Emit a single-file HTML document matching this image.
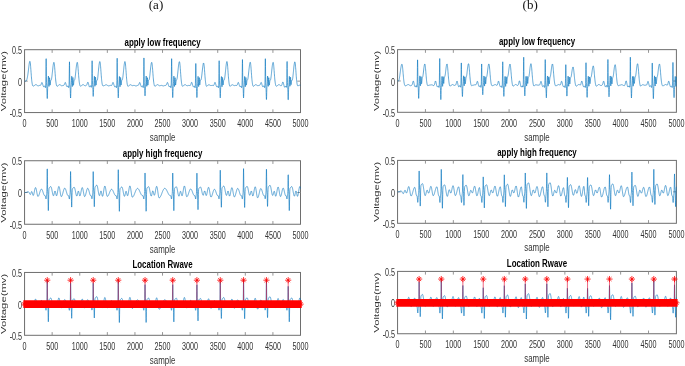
<!DOCTYPE html>
<html><head><meta charset="utf-8"><title>ECG filtering</title>
<style>
html,body{margin:0;padding:0;background:#fff;}
body{width:685px;height:366px;overflow:hidden;}
svg{display:block;font-family:"Liberation Sans",sans-serif;}
</style></head><body>
<svg width="685" height="366" viewBox="0 0 685 366">
<rect width="685" height="366" fill="#fff"/>
<rect x="24.56" y="49.70" width="275.94" height="62.86" fill="#fff" stroke="#6e6e6e" stroke-width="1"/>
<text transform="translate(24.56 127.23) scale(0.720 1)" font-size="10" text-anchor="middle" font-weight="normal" fill="#333333">0</text>
<text transform="translate(52.15 127.23) scale(0.720 1)" font-size="10" text-anchor="middle" font-weight="normal" fill="#333333">500</text>
<text transform="translate(79.75 127.23) scale(0.720 1)" font-size="10" text-anchor="middle" font-weight="normal" fill="#333333">1000</text>
<text transform="translate(107.34 127.23) scale(0.720 1)" font-size="10" text-anchor="middle" font-weight="normal" fill="#333333">1500</text>
<text transform="translate(134.94 127.23) scale(0.720 1)" font-size="10" text-anchor="middle" font-weight="normal" fill="#333333">2000</text>
<text transform="translate(162.53 127.23) scale(0.720 1)" font-size="10" text-anchor="middle" font-weight="normal" fill="#333333">2500</text>
<text transform="translate(190.12 127.23) scale(0.720 1)" font-size="10" text-anchor="middle" font-weight="normal" fill="#333333">3000</text>
<text transform="translate(217.72 127.23) scale(0.720 1)" font-size="10" text-anchor="middle" font-weight="normal" fill="#333333">3500</text>
<text transform="translate(245.31 127.23) scale(0.720 1)" font-size="10" text-anchor="middle" font-weight="normal" fill="#333333">4000</text>
<text transform="translate(272.91 127.23) scale(0.720 1)" font-size="10" text-anchor="middle" font-weight="normal" fill="#333333">4500</text>
<text transform="translate(300.50 127.23) scale(0.720 1)" font-size="10" text-anchor="middle" font-weight="normal" fill="#333333">5000</text>
<text transform="translate(22.11 117.31) scale(0.720 1)" font-size="10" text-anchor="end" font-weight="normal" fill="#333333">-0.5</text>
<text transform="translate(22.11 85.88) scale(0.720 1)" font-size="10" text-anchor="end" font-weight="normal" fill="#333333">0</text>
<text transform="translate(22.11 54.45) scale(0.720 1)" font-size="10" text-anchor="end" font-weight="normal" fill="#333333">0.5</text>
<path d="M52.15 112.56v-3.20M52.15 49.70v3.20M79.75 112.56v-3.20M79.75 49.70v3.20M107.34 112.56v-3.20M107.34 49.70v3.20M134.94 112.56v-3.20M134.94 49.70v3.20M162.53 112.56v-3.20M162.53 49.70v3.20M190.12 112.56v-3.20M190.12 49.70v3.20M217.72 112.56v-3.20M217.72 49.70v3.20M245.31 112.56v-3.20M245.31 49.70v3.20M272.91 112.56v-3.20M272.91 49.70v3.20M24.56 81.13h3.20M300.50 81.13h-3.20" stroke="#8a8a8a" stroke-width="0.9" fill="none"/>
<text transform="translate(162.53 45.70) scale(0.720 1)" font-size="11" text-anchor="middle" font-weight="bold" fill="#000">apply low frequency</text>
<text transform="translate(162.53 141.13) scale(0.720 1)" font-size="11" text-anchor="middle" font-weight="normal" fill="#333333">sample</text>
<text transform="translate(6.16 81.13) scale(0.700 1) rotate(-90)" font-size="11.3" text-anchor="middle" font-weight="normal" fill="#333333">Voltage(mv)</text>
<polyline points="24.56,81.13 24.67,81.13 24.78,81.13 24.89,81.13 25.00,81.13 25.11,81.13 25.22,81.12 25.33,81.12 25.44,81.12 25.55,81.11 25.66,81.11 25.77,81.09 25.88,81.06 25.99,81.02 26.11,80.95 26.22,80.85 26.33,80.72 26.44,80.54 26.55,80.33 26.66,80.07 26.77,79.76 26.88,79.42 26.99,79.04 27.10,78.62 27.21,78.16 27.32,77.66 27.43,77.13 27.54,76.55 27.65,75.92 27.76,75.25 27.87,74.52 27.98,73.75 28.09,72.92 28.20,72.04 28.31,71.13 28.42,70.18 28.53,69.21 28.64,68.23 28.75,67.26 28.86,66.32 28.98,65.41 29.09,64.56 29.20,63.78 29.31,63.09 29.42,62.50 29.53,62.02 29.64,61.65 29.75,61.42 29.86,61.31 29.97,61.36 30.08,61.65 30.19,62.19 30.30,62.97 30.41,63.96 30.52,65.12 30.63,66.44 30.74,67.86 30.85,69.35 30.96,70.89 31.07,72.42 31.18,73.93 31.29,75.38 31.40,76.76 31.51,78.06 31.62,79.25 31.73,80.35 31.84,81.34 31.96,82.22 32.07,83.00 32.18,83.67 32.29,84.25 32.40,84.74 32.51,85.14 32.62,85.46 32.73,85.70 32.84,85.88 32.95,85.99 33.06,86.06 33.17,86.09 33.28,86.09 33.39,86.07 33.50,86.03 33.61,85.99 33.72,85.93 33.83,85.88 33.94,85.82 34.05,85.75 34.16,85.69 34.27,85.62 34.38,85.54 34.49,85.46 34.60,85.38 34.71,85.29 34.82,85.21 34.94,85.12 35.05,85.04 35.16,84.96 35.27,84.88 35.38,84.82 35.49,84.76 35.60,84.72 35.71,84.69 35.82,84.67 35.93,84.67 36.04,84.68 36.15,84.71 36.26,84.75 36.37,84.81 36.48,84.87 36.59,84.95 36.70,85.03 36.81,85.11 36.92,85.20 37.03,85.29 37.14,85.38 37.25,85.46 37.36,85.54 37.47,85.61 37.58,85.67 37.69,85.73 37.81,85.77 37.92,85.80 38.03,85.82 38.14,85.83 38.25,85.84 38.36,85.83 38.47,85.81 38.58,85.78 38.69,85.75 38.80,85.72 38.91,85.68 39.02,85.63 39.13,85.59 39.24,85.55 39.35,85.51 39.46,85.48 39.57,85.45 39.68,85.43 39.79,85.41 39.90,85.39 40.01,85.38 40.12,85.37 40.23,85.36 40.34,85.34 40.45,85.31 40.56,85.25 40.67,85.16 40.79,85.03 40.90,84.86 41.01,84.63 41.12,84.36 41.23,84.05 41.34,83.71 41.45,83.36 41.56,83.04 41.67,82.77 41.78,82.57 41.89,82.47 42.00,82.47 42.11,82.57 42.22,82.78 42.33,83.06 42.44,83.41 42.55,83.78 42.66,84.18 42.77,84.58 42.88,84.96 42.99,85.33 43.10,85.67 43.21,85.99 43.32,86.26 43.43,86.48 43.54,86.64 43.66,86.73 43.77,86.75 43.88,86.69 43.99,86.58 44.10,86.43 44.21,86.27 44.32,86.12 44.43,85.99 44.54,85.90 44.65,85.87 44.76,85.93 44.87,86.12 44.98,86.46 45.09,86.92 45.20,87.38 45.31,87.68 45.42,87.69 45.53,87.30 45.64,86.18 45.75,83.20 45.86,76.64 45.97,66.82 46.08,58.74 46.19,58.68 46.30,66.60 46.41,76.20 46.52,82.47 46.64,85.31 46.75,86.88 46.86,88.96 46.97,92.19 47.08,95.93 47.19,98.53 47.30,98.50 47.41,95.82 47.52,92.00 47.63,88.68 47.74,86.48 47.85,85.04 47.96,83.58 48.07,81.57 48.18,79.09 48.29,76.93 48.40,76.08 48.51,77.06 48.62,79.47 48.73,82.39 48.84,84.93 48.95,86.41 49.06,86.41 49.17,84.90 49.28,82.35 49.39,79.62 49.50,77.79 49.62,77.69 49.73,79.25 49.84,81.62 49.95,83.80 50.06,85.06 50.17,85.10 50.28,84.21 50.39,83.04 50.50,82.02 50.61,81.21 50.72,80.60 50.83,80.19 50.94,79.98 51.05,79.91 51.16,79.88 51.27,79.80 51.38,79.60 51.49,79.23 51.60,78.70 51.71,78.02 51.82,77.23 51.93,76.35 52.04,75.40 52.15,74.40 52.26,73.38 52.37,72.33 52.49,71.27 52.60,70.22 52.71,69.18 52.82,68.17 52.93,67.20 53.04,66.28 53.15,65.43 53.26,64.66 53.37,63.98 53.48,63.41 53.59,62.95 53.70,62.61 53.81,62.40 53.92,62.32 54.03,62.43 54.14,62.79 54.25,63.38 54.36,64.20 54.47,65.21 54.58,66.38 54.69,67.68 54.80,69.08 54.91,70.53 55.02,72.01 55.13,73.48 55.24,74.92 55.35,76.31 55.47,77.62 55.58,78.85 55.69,79.98 55.80,81.02 55.91,81.95 56.02,82.79 56.13,83.53 56.24,84.16 56.35,84.71 56.46,85.16 56.57,85.52 56.68,85.80 56.79,86.01 56.90,86.15 57.01,86.24 57.12,86.27 57.23,86.27 57.34,86.23 57.45,86.17 57.56,86.10 57.67,86.02 57.78,85.93 57.89,85.83 58.00,85.74 58.11,85.64 58.22,85.54 58.34,85.44 58.45,85.34 58.56,85.24 58.67,85.15 58.78,85.06 58.89,84.97 59.00,84.89 59.11,84.82 59.22,84.76 59.33,84.71 59.44,84.68 59.55,84.66 59.66,84.65 59.77,84.67 59.88,84.69 59.99,84.73 60.10,84.78 60.21,84.85 60.32,84.92 60.43,85.00 60.54,85.09 60.65,85.18 60.76,85.26 60.87,85.35 60.98,85.43 61.09,85.51 61.20,85.57 61.32,85.63 61.43,85.68 61.54,85.71 61.65,85.74 61.76,85.75 61.87,85.76 61.98,85.75 62.09,85.73 62.20,85.71 62.31,85.68 62.42,85.65 62.53,85.61 62.64,85.58 62.75,85.54 62.86,85.50 62.97,85.47 63.08,85.44 63.19,85.42 63.30,85.39 63.41,85.37 63.52,85.35 63.63,85.33 63.74,85.29 63.85,85.24 63.96,85.16 64.07,85.04 64.18,84.89 64.30,84.69 64.41,84.44 64.52,84.14 64.63,83.82 64.74,83.48 64.85,83.15 64.96,82.86 65.07,82.63 65.18,82.49 65.29,82.45 65.40,82.51 65.51,82.68 65.62,82.94 65.73,83.27 65.84,83.64 65.95,84.04 66.06,84.44 66.17,84.84 66.28,85.22 66.39,85.57 66.50,85.90 66.61,86.19 66.72,86.43 66.83,86.62 66.94,86.73 67.05,86.77 67.17,86.74 67.28,86.65 67.39,86.50 67.50,86.33 67.61,86.16 67.72,86.01 67.83,85.89 67.94,85.82 68.05,85.82 68.16,85.94 68.27,86.21 68.38,86.62 68.49,87.09 68.60,87.50 68.71,87.67 68.82,87.52 68.93,86.90 69.04,85.28 69.15,81.33 69.26,74.08 69.37,65.71 69.48,61.80 69.59,65.60 69.70,73.80 69.81,80.80 69.92,84.50 70.03,86.18 70.15,87.71 70.26,90.17 70.37,93.55 70.48,96.71 70.59,98.00 70.70,96.63 70.81,93.38 70.92,89.90 71.03,87.31 71.14,85.67 71.25,84.34 71.36,82.64 71.47,80.33 71.58,77.87 71.69,76.24 71.80,76.29 71.91,78.08 72.02,80.86 72.13,83.69 72.24,85.77 72.35,86.54 72.46,85.76 72.57,83.65 72.68,80.89 72.79,78.49 72.90,77.47 73.02,78.28 73.13,80.40 73.24,82.79 73.35,84.59 73.46,85.25 73.57,84.76 73.68,83.67 73.79,82.56 73.90,81.65 74.01,80.94 74.12,80.43 74.23,80.13 74.34,80.00 74.45,79.96 74.56,79.91 74.67,79.77 74.78,79.47 74.89,79.01 75.00,78.39 75.11,77.64 75.22,76.79 75.33,75.86 75.44,74.88 75.55,73.85 75.66,72.81 75.77,71.75 75.88,70.68 76.00,69.63 76.11,68.60 76.22,67.61 76.33,66.67 76.44,65.79 76.55,64.98 76.66,64.27 76.77,63.65 76.88,63.14 76.99,62.75 77.10,62.49 77.21,62.35 77.32,62.36 77.43,62.61 77.54,63.10 77.65,63.82 77.76,64.74 77.87,65.84 77.98,67.08 78.09,68.44 78.20,69.87 78.31,71.33 78.42,72.81 78.53,74.26 78.64,75.66 78.75,77.00 78.86,78.27 78.98,79.44 79.09,80.51 79.20,81.49 79.31,82.36 79.42,83.13 79.53,83.81 79.64,84.39 79.75,84.88 79.86,85.29 79.97,85.61 80.08,85.85 80.19,86.03 80.30,86.14 80.41,86.20 80.52,86.22 80.63,86.21 80.74,86.17 80.85,86.12 80.96,86.05 81.07,85.98 81.18,85.90 81.29,85.81 81.40,85.73 81.51,85.64 81.62,85.55 81.73,85.45 81.85,85.36 81.96,85.26 82.07,85.17 82.18,85.08 82.29,84.99 82.40,84.91 82.51,84.83 82.62,84.77 82.73,84.72 82.84,84.68 82.95,84.66 83.06,84.65 83.17,84.66 83.28,84.68 83.39,84.72 83.50,84.77 83.61,84.83 83.72,84.90 83.83,84.98 83.94,85.07 84.05,85.16 84.16,85.24 84.27,85.33 84.38,85.42 84.49,85.50 84.60,85.57 84.71,85.63 84.83,85.68 84.94,85.73 85.05,85.76 85.16,85.78 85.27,85.79 85.38,85.78 85.49,85.77 85.60,85.75 85.71,85.72 85.82,85.69 85.93,85.64 86.04,85.59 86.15,85.53 86.26,85.46 86.37,85.37 86.48,85.26 86.59,85.13 86.70,84.96 86.81,84.75 86.92,84.50 87.03,84.20 87.14,83.87 87.25,83.52 87.36,83.16 87.47,82.82 87.58,82.53 87.70,82.31 87.81,82.19 87.92,82.18 88.03,82.29 88.14,82.50 88.25,82.81 88.36,83.19 88.47,83.62 88.58,84.08 88.69,84.54 88.80,84.98 88.91,85.41 89.02,85.81 89.13,86.17 89.24,86.49 89.35,86.75 89.46,86.94 89.57,87.06 89.68,87.08 89.79,87.03 89.90,86.90 90.01,86.72 90.12,86.50 90.23,86.28 90.34,86.07 90.45,85.89 90.56,85.76 90.68,85.71 90.79,85.78 90.90,86.00 91.01,86.37 91.12,86.81 91.23,87.19 91.34,87.35 91.45,87.19 91.56,86.57 91.67,84.92 91.78,80.87 91.89,73.39 92.00,64.76 92.11,60.76 92.22,64.75 92.33,73.31 92.44,80.62 92.55,84.48 92.66,86.18 92.77,87.58 92.88,89.71 92.99,92.61 93.10,95.32 93.21,96.43 93.32,95.27 93.43,92.51 93.55,89.54 93.66,87.30 93.77,85.83 93.88,84.54 93.99,82.82 94.10,80.47 94.21,77.96 94.32,76.28 94.43,76.27 94.54,77.99 94.65,80.73 94.76,83.50 94.87,85.54 94.98,86.27 95.09,85.46 95.20,83.33 95.31,80.56 95.42,78.16 95.53,77.15 95.64,77.98 95.75,80.12 95.86,82.55 95.97,84.39 96.08,85.10 96.19,84.66 96.30,83.62 96.41,82.57 96.53,81.71 96.64,81.04 96.75,80.58 96.86,80.31 96.97,80.20 97.08,80.17 97.19,80.12 97.30,79.97 97.41,79.66 97.52,79.16 97.63,78.50 97.74,77.69 97.85,76.78 97.96,75.77 98.07,74.71 98.18,73.61 98.29,72.47 98.40,71.33 98.51,70.18 98.62,69.04 98.73,67.94 98.84,66.88 98.95,65.88 99.06,64.95 99.17,64.11 99.28,63.36 99.39,62.74 99.51,62.23 99.62,61.86 99.73,61.62 99.84,61.52 99.95,61.58 100.06,61.88 100.17,62.44 100.28,63.24 100.39,64.25 100.50,65.43 100.61,66.76 100.72,68.20 100.83,69.70 100.94,71.24 101.05,72.78 101.16,74.28 101.27,75.73 101.38,77.09 101.49,78.37 101.60,79.54 101.71,80.61 101.82,81.56 101.93,82.41 102.04,83.15 102.15,83.78 102.26,84.32 102.38,84.76 102.49,85.12 102.60,85.40 102.71,85.60 102.82,85.75 102.93,85.83 103.04,85.88 103.15,85.89 103.26,85.88 103.37,85.86 103.48,85.82 103.59,85.79 103.70,85.75 103.81,85.71 103.92,85.68 104.03,85.65 104.14,85.62 104.25,85.58 104.36,85.55 104.47,85.51 104.58,85.46 104.69,85.41 104.80,85.35 104.91,85.29 105.02,85.23 105.13,85.16 105.24,85.09 105.36,85.03 105.47,84.97 105.58,84.91 105.69,84.87 105.80,84.83 105.91,84.80 106.02,84.78 106.13,84.77 106.24,84.78 106.35,84.79 106.46,84.82 106.57,84.86 106.68,84.90 106.79,84.96 106.90,85.03 107.01,85.10 107.12,85.17 107.23,85.25 107.34,85.33 107.45,85.40 107.56,85.48 107.67,85.55 107.78,85.62 107.89,85.68 108.00,85.74 108.11,85.78 108.23,85.82 108.34,85.85 108.45,85.87 108.56,85.88 108.67,85.88 108.78,85.87 108.89,85.86 109.00,85.83 109.11,85.80 109.22,85.77 109.33,85.73 109.44,85.68 109.55,85.64 109.66,85.60 109.77,85.56 109.88,85.52 109.99,85.48 110.10,85.45 110.21,85.43 110.32,85.41 110.43,85.41 110.54,85.40 110.65,85.41 110.76,85.42 110.87,85.44 110.98,85.46 111.09,85.48 111.21,85.50 111.32,85.51 111.43,85.50 111.54,85.47 111.65,85.40 111.76,85.30 111.87,85.14 111.98,84.93 112.09,84.66 112.20,84.35 112.31,83.99 112.42,83.62 112.53,83.25 112.64,82.92 112.75,82.64 112.86,82.46 112.97,82.37 113.08,82.40 113.19,82.53 113.30,82.75 113.41,83.05 113.52,83.40 113.63,83.79 113.74,84.19 113.85,84.58 113.96,84.97 114.07,85.35 114.19,85.70 114.30,86.02 114.41,86.30 114.52,86.53 114.63,86.68 114.74,86.77 114.85,86.78 114.96,86.73 115.07,86.63 115.18,86.50 115.29,86.36 115.40,86.23 115.51,86.13 115.62,86.07 115.73,86.08 115.84,86.19 115.95,86.45 116.06,86.83 116.17,87.29 116.28,87.66 116.39,87.79 116.50,87.59 116.61,86.90 116.72,85.06 116.83,80.56 116.94,72.28 117.06,62.72 117.17,58.24 117.28,62.54 117.39,71.87 117.50,79.84 117.61,84.04 117.72,85.88 117.83,87.46 117.94,89.93 118.05,93.34 118.16,96.53 118.27,97.85 118.38,96.52 118.49,93.31 118.60,89.88 118.71,87.33 118.82,85.73 118.93,84.44 119.04,82.78 119.15,80.51 119.26,78.08 119.37,76.47 119.48,76.54 119.59,78.33 119.70,81.12 119.81,83.93 119.92,86.00 120.04,86.75 120.15,85.94 120.26,83.79 120.37,80.99 120.48,78.54 120.59,77.48 120.70,78.25 120.81,80.31 120.92,82.66 121.03,84.42 121.14,85.05 121.25,84.53 121.36,83.41 121.47,82.28 121.58,81.36 121.69,80.64 121.80,80.14 121.91,79.84 122.02,79.72 122.13,79.70 122.24,79.67 122.35,79.55 122.46,79.28 122.57,78.85 122.68,78.25 122.79,77.52 122.91,76.69 123.02,75.77 123.13,74.79 123.24,73.77 123.35,72.71 123.46,71.63 123.57,70.54 123.68,69.46 123.79,68.39 123.90,67.35 124.01,66.35 124.12,65.41 124.23,64.55 124.34,63.77 124.45,63.10 124.56,62.53 124.67,62.08 124.78,61.77 124.89,61.59 125.00,61.56 125.11,61.79 125.22,62.27 125.33,62.99 125.44,63.93 125.55,65.05 125.66,66.34 125.77,67.74 125.89,69.23 126.00,70.77 126.11,72.31 126.22,73.84 126.33,75.33 126.44,76.75 126.55,78.09 126.66,79.33 126.77,80.48 126.88,81.52 126.99,82.45 127.10,83.27 127.21,83.98 127.32,84.59 127.43,85.10 127.54,85.51 127.65,85.83 127.76,86.06 127.87,86.22 127.98,86.31 128.09,86.34 128.20,86.32 128.31,86.27 128.42,86.19 128.53,86.09 128.64,85.98 128.75,85.86 128.87,85.74 128.98,85.62 129.09,85.51 129.20,85.40 129.31,85.30 129.42,85.20 129.53,85.11 129.64,85.02 129.75,84.94 129.86,84.88 129.97,84.82 130.08,84.78 130.19,84.74 130.30,84.72 130.41,84.72 130.52,84.72 130.63,84.74 130.74,84.78 130.85,84.82 130.96,84.87 131.07,84.94 131.18,85.01 131.29,85.08 131.40,85.16 131.51,85.23 131.62,85.30 131.74,85.37 131.85,85.44 131.96,85.49 132.07,85.54 132.18,85.58 132.29,85.61 132.40,85.62 132.51,85.63 132.62,85.63 132.73,85.62 132.84,85.61 132.95,85.58 133.06,85.56 133.17,85.53 133.28,85.50 133.39,85.47 133.50,85.45 133.61,85.43 133.72,85.41 133.83,85.40 133.94,85.39 134.05,85.40 134.16,85.41 134.27,85.42 134.38,85.45 134.49,85.48 134.60,85.51 134.72,85.55 134.83,85.59 134.94,85.64 135.05,85.68 135.16,85.72 135.27,85.77 135.38,85.80 135.49,85.84 135.60,85.87 135.71,85.89 135.82,85.90 135.93,85.91 136.04,85.91 136.15,85.90 136.26,85.88 136.37,85.86 136.48,85.83 136.59,85.79 136.70,85.75 136.81,85.71 136.92,85.66 137.03,85.62 137.14,85.58 137.25,85.54 137.36,85.50 137.47,85.46 137.59,85.43 137.70,85.41 137.81,85.39 137.92,85.37 138.03,85.34 138.14,85.31 138.25,85.27 138.36,85.20 138.47,85.11 138.58,84.97 138.69,84.79 138.80,84.57 138.91,84.29 139.02,83.98 139.13,83.65 139.24,83.31 139.35,83.00 139.46,82.73 139.57,82.55 139.68,82.45 139.79,82.47 139.90,82.58 140.01,82.80 140.12,83.09 140.23,83.45 140.34,83.84 140.45,84.24 140.57,84.64 140.68,85.03 140.79,85.40 140.90,85.74 141.01,86.05 141.12,86.32 141.23,86.53 141.34,86.68 141.45,86.76 141.56,86.77 141.67,86.70 141.78,86.58 141.89,86.42 142.00,86.25 142.11,86.08 142.22,85.94 142.33,85.84 142.44,85.81 142.55,85.87 142.66,86.06 142.77,86.40 142.88,86.85 142.99,87.31 143.10,87.62 143.21,87.64 143.32,87.26 143.43,86.13 143.55,83.08 143.66,76.36 143.77,66.27 143.88,57.98 143.99,57.93 144.10,66.08 144.21,75.96 144.32,82.40 144.43,85.25 144.54,86.66 144.65,88.32 144.76,90.86 144.87,93.80 144.98,95.84 145.09,95.80 145.20,93.68 145.31,90.65 145.42,88.00 145.53,86.21 145.64,84.95 145.75,83.55 145.86,81.54 145.97,79.06 146.08,76.89 146.19,76.03 146.30,77.00 146.42,79.41 146.53,82.33 146.64,84.87 146.75,86.35 146.86,86.34 146.97,84.84 147.08,82.30 147.19,79.57 147.30,77.76 147.41,77.66 147.52,79.24 147.63,81.62 147.74,83.81 147.85,85.08 147.96,85.13 148.07,84.25 148.18,83.10 148.29,82.08 148.40,81.27 148.51,80.66 148.62,80.26 148.73,80.05 148.84,79.97 148.95,79.94 149.06,79.85 149.17,79.64 149.28,79.26 149.40,78.72 149.51,78.03 149.62,77.23 149.73,76.33 149.84,75.37 149.95,74.37 150.06,73.33 150.17,72.28 150.28,71.21 150.39,70.16 150.50,69.11 150.61,68.10 150.72,67.13 150.83,66.22 150.94,65.37 151.05,64.61 151.16,63.95 151.27,63.38 151.38,62.93 151.49,62.61 151.60,62.40 151.71,62.33 151.82,62.45 151.93,62.82 152.04,63.43 152.15,64.26 152.27,65.27 152.38,66.45 152.49,67.75 152.60,69.15 152.71,70.60 152.82,72.07 152.93,73.54 153.04,74.97 153.15,76.34 153.26,77.65 153.37,78.86 153.48,79.99 153.59,81.01 153.70,81.94 153.81,82.76 153.92,83.49 154.03,84.11 154.14,84.65 154.25,85.10 154.36,85.46 154.47,85.74 154.58,85.95 154.69,86.09 154.80,86.18 154.91,86.22 155.02,86.22 155.13,86.20 155.25,86.15 155.36,86.09 155.47,86.02 155.58,85.94 155.69,85.85 155.80,85.77 155.91,85.68 156.02,85.59 156.13,85.50 156.24,85.41 156.35,85.31 156.46,85.22 156.57,85.12 156.68,85.03 156.79,84.95 156.90,84.87 157.01,84.80 157.12,84.74 157.23,84.70 157.34,84.67 157.45,84.65 157.56,84.65 157.67,84.67 157.78,84.70 157.89,84.74 158.00,84.80 158.11,84.86 158.23,84.94 158.34,85.02 158.45,85.11 158.56,85.20 158.67,85.29 158.78,85.38 158.89,85.46 159.00,85.53 159.11,85.60 159.22,85.66 159.33,85.71 159.44,85.74 159.55,85.77 159.66,85.78 159.77,85.79 159.88,85.78 159.99,85.77 160.10,85.74 160.21,85.71 160.32,85.68 160.43,85.64 160.54,85.60 160.65,85.56 160.76,85.53 160.87,85.49 160.98,85.46 161.10,85.44 161.21,85.42 161.32,85.41 161.43,85.40 161.54,85.41 161.65,85.42 161.76,85.44 161.87,85.46 161.98,85.49 162.09,85.53 162.20,85.57 162.31,85.61 162.42,85.66 162.53,85.70 162.64,85.75 162.75,85.79 162.86,85.82 162.97,85.85 163.08,85.88 163.19,85.89 163.30,85.90 163.41,85.91 163.52,85.90 163.63,85.89 163.74,85.87 163.85,85.84 163.96,85.81 164.08,85.77 164.19,85.73 164.30,85.69 164.41,85.64 164.52,85.60 164.63,85.56 164.74,85.52 164.85,85.48 164.96,85.45 165.07,85.43 165.18,85.41 165.29,85.40 165.40,85.39 165.51,85.39 165.62,85.39 165.73,85.38 165.84,85.37 165.95,85.34 166.06,85.29 166.17,85.20 166.28,85.08 166.39,84.90 166.50,84.68 166.61,84.40 166.72,84.08 166.83,83.74 166.95,83.39 167.06,83.06 167.17,82.78 167.28,82.58 167.39,82.46 167.50,82.46 167.61,82.56 167.72,82.75 167.83,83.03 167.94,83.37 168.05,83.75 168.16,84.14 168.27,84.53 168.38,84.92 168.49,85.29 168.60,85.63 168.71,85.95 168.82,86.23 168.93,86.46 169.04,86.62 169.15,86.72 169.26,86.74 169.37,86.69 169.48,86.59 169.59,86.45 169.70,86.30 169.81,86.15 169.93,86.02 170.04,85.94 170.15,85.91 170.26,85.97 170.37,86.17 170.48,86.51 170.59,86.96 170.70,87.41 170.81,87.71 170.92,87.71 171.03,87.32 171.14,86.19 171.25,83.20 171.36,76.64 171.47,66.81 171.58,58.72 171.69,58.65 171.80,66.57 171.91,76.16 172.02,82.42 172.13,85.24 172.24,86.74 172.35,88.68 172.46,91.68 172.57,95.16 172.68,97.58 172.79,97.55 172.91,95.07 173.02,91.52 173.13,88.43 173.24,86.39 173.35,85.01 173.46,83.58 173.57,81.59 173.68,79.12 173.79,76.96 173.90,76.12 174.01,77.10 174.12,79.51 174.23,82.43 174.34,84.97 174.45,86.45 174.56,86.44 174.67,84.93 174.78,82.37 174.89,79.63 175.00,77.80 175.11,77.69 175.22,79.24 175.33,81.60 175.44,83.77 175.55,85.02 175.66,85.04 175.78,84.15 175.89,82.97 176.00,81.94 176.11,81.12 176.22,80.50 176.33,80.09 176.44,79.87 176.55,79.79 176.66,79.75 176.77,79.66 176.88,79.45 176.99,79.07 177.10,78.52 177.21,77.83 177.32,77.02 177.43,76.12 177.54,75.16 177.65,74.14 177.76,73.09 177.87,72.02 177.98,70.93 178.09,69.85 178.20,68.78 178.31,67.74 178.42,66.74 178.53,65.79 178.64,64.92 178.76,64.12 178.87,63.42 178.98,62.82 179.09,62.34 179.20,61.99 179.31,61.76 179.42,61.67 179.53,61.77 179.64,62.14 179.75,62.75 179.86,63.58 179.97,64.62 180.08,65.82 180.19,67.16 180.30,68.60 180.41,70.09 180.52,71.61 180.63,73.13 180.74,74.62 180.85,76.04 180.96,77.40 181.07,78.67 181.18,79.84 181.29,80.91 181.40,81.87 181.51,82.73 181.63,83.49 181.74,84.15 181.85,84.70 181.96,85.17 182.07,85.54 182.18,85.83 182.29,86.04 182.40,86.18 182.51,86.26 182.62,86.29 182.73,86.28 182.84,86.24 182.95,86.18 183.06,86.10 183.17,86.01 183.28,85.91 183.39,85.81 183.50,85.71 183.61,85.60 183.72,85.50 183.83,85.40 183.94,85.30 184.05,85.20 184.16,85.11 184.27,85.02 184.38,84.93 184.49,84.86 184.61,84.79 184.72,84.74 184.83,84.70 184.94,84.67 185.05,84.66 185.16,84.67 185.27,84.68 185.38,84.72 185.49,84.76 185.60,84.82 185.71,84.89 185.82,84.97 185.93,85.05 186.04,85.13 186.15,85.22 186.26,85.30 186.37,85.39 186.48,85.46 186.59,85.53 186.70,85.59 186.81,85.64 186.92,85.68 187.03,85.71 187.14,85.73 187.25,85.73 187.36,85.73 187.47,85.72 187.59,85.70 187.70,85.67 187.81,85.64 187.92,85.61 188.03,85.57 188.14,85.53 188.25,85.50 188.36,85.47 188.47,85.44 188.58,85.42 188.69,85.41 188.80,85.40 188.91,85.40 189.02,85.41 189.13,85.43 189.24,85.45 189.35,85.47 189.46,85.50 189.57,85.54 189.68,85.57 189.79,85.60 189.90,85.62 190.01,85.62 190.12,85.60 190.23,85.54 190.34,85.45 190.46,85.31 190.57,85.11 190.68,84.85 190.79,84.54 190.90,84.19 191.01,83.80 191.12,83.41 191.23,83.03 191.34,82.71 191.45,82.46 191.56,82.31 191.67,82.27 191.78,82.34 191.89,82.52 192.00,82.78 192.11,83.12 192.22,83.49 192.33,83.90 192.44,84.31 192.55,84.72 192.66,85.12 192.77,85.50 192.88,85.86 192.99,86.18 193.10,86.45 193.21,86.66 193.32,86.80 193.44,86.87 193.55,86.86 193.66,86.79 193.77,86.67 193.88,86.54 193.99,86.40 194.10,86.28 194.21,86.19 194.32,86.15 194.43,86.19 194.54,86.36 194.65,86.67 194.76,87.08 194.87,87.49 194.98,87.74 195.09,87.71 195.20,87.30 195.31,86.26 195.42,83.70 195.53,78.26 195.64,70.18 195.75,63.55 195.86,63.47 195.97,69.89 196.08,77.69 196.19,82.81 196.31,85.16 196.42,86.56 196.53,88.50 196.64,91.53 196.75,95.05 196.86,97.51 196.97,97.52 197.08,95.09 197.19,91.59 197.30,88.54 197.41,86.53 197.52,85.19 197.63,83.79 197.74,81.82 197.85,79.37 197.96,77.22 198.07,76.37 198.18,77.35 198.29,79.74 198.40,82.64 198.51,85.15 198.62,86.60 198.73,86.55 198.84,84.99 198.95,82.39 199.06,79.61 199.17,77.74 199.29,77.59 199.40,79.11 199.51,81.44 199.62,83.58 199.73,84.82 199.84,84.85 199.95,83.95 200.06,82.80 200.17,81.79 200.28,81.01 200.39,80.43 200.50,80.07 200.61,79.92 200.72,79.91 200.83,79.95 200.94,79.95 201.05,79.82 201.16,79.53 201.27,79.08 201.38,78.48 201.49,77.76 201.60,76.95 201.71,76.06 201.82,75.13 201.93,74.15 202.04,73.15 202.15,72.13 202.27,71.10 202.38,70.07 202.49,69.07 202.60,68.10 202.71,67.18 202.82,66.31 202.93,65.53 203.04,64.83 203.15,64.23 203.26,63.74 203.37,63.37 203.48,63.12 203.59,63.01 203.70,63.09 203.81,63.42 203.92,63.99 204.03,64.77 204.14,65.75 204.25,66.90 204.36,68.17 204.47,69.55 204.58,70.98 204.69,72.45 204.80,73.91 204.91,75.34 205.02,76.72 205.14,78.04 205.25,79.26 205.36,80.40 205.47,81.43 205.58,82.36 205.69,83.19 205.80,83.92 205.91,84.54 206.02,85.06 206.13,85.48 206.24,85.81 206.35,86.05 206.46,86.22 206.57,86.31 206.68,86.34 206.79,86.32 206.90,86.26 207.01,86.17 207.12,86.07 207.23,85.95 207.34,85.82 207.45,85.70 207.56,85.57 207.67,85.46 207.78,85.35 207.89,85.25 208.00,85.16 208.12,85.07 208.23,85.00 208.34,84.94 208.45,84.88 208.56,84.84 208.67,84.81 208.78,84.79 208.89,84.78 209.00,84.78 209.11,84.80 209.22,84.83 209.33,84.86 209.44,84.90 209.55,84.96 209.66,85.01 209.77,85.08 209.88,85.14 209.99,85.20 210.10,85.27 210.21,85.32 210.32,85.38 210.43,85.43 210.54,85.47 210.65,85.50 210.76,85.52 210.87,85.54 210.99,85.55 211.10,85.54 211.21,85.54 211.32,85.52 211.43,85.51 211.54,85.49 211.65,85.46 211.76,85.44 211.87,85.42 211.98,85.41 212.09,85.39 212.20,85.38 212.31,85.38 212.42,85.39 212.53,85.40 212.64,85.42 212.75,85.44 212.86,85.46 212.97,85.49 213.08,85.52 213.19,85.54 213.30,85.55 213.41,85.54 213.52,85.51 213.63,85.45 213.74,85.34 213.85,85.17 213.97,84.96 214.08,84.69 214.19,84.36 214.30,84.00 214.41,83.62 214.52,83.24 214.63,82.90 214.74,82.62 214.85,82.43 214.96,82.34 215.07,82.36 215.18,82.48 215.29,82.71 215.40,83.01 215.51,83.36 215.62,83.75 215.73,84.15 215.84,84.55 215.95,84.95 216.06,85.33 216.17,85.69 216.28,86.02 216.39,86.30 216.50,86.54 216.61,86.70 216.72,86.80 216.83,86.81 216.95,86.77 217.06,86.67 217.17,86.54 217.28,86.40 217.39,86.27 217.50,86.17 217.61,86.11 217.72,86.11 217.83,86.22 217.94,86.47 218.05,86.85 218.16,87.30 218.27,87.66 218.38,87.79 218.49,87.58 218.60,86.91 218.71,85.19 218.82,81.06 218.93,73.50 219.04,64.79 219.15,60.71 219.26,64.61 219.37,73.09 219.48,80.33 219.59,84.16 219.70,85.88 219.82,87.43 219.93,89.91 220.04,93.32 220.15,96.52 220.26,97.85 220.37,96.52 220.48,93.33 220.59,89.90 220.70,87.36 220.81,85.77 220.92,84.48 221.03,82.82 221.14,80.55 221.25,78.12 221.36,76.52 221.47,76.58 221.58,78.37 221.69,81.15 221.80,83.96 221.91,86.02 222.02,86.76 222.13,85.94 222.24,83.79 222.35,80.98 222.46,78.52 222.57,77.46 222.68,78.22 222.80,80.28 222.91,82.62 223.02,84.38 223.13,85.00 223.24,84.48 223.35,83.36 223.46,82.24 223.57,81.32 223.68,80.61 223.79,80.11 223.90,79.82 224.01,79.71 224.12,79.69 224.23,79.67 224.34,79.56 224.45,79.30 224.56,78.87 224.67,78.28 224.78,77.56 224.89,76.73 225.00,75.81 225.11,74.83 225.22,73.81 225.33,72.75 225.44,71.67 225.55,70.58 225.67,69.49 225.78,68.41 225.89,67.36 226.00,66.36 226.11,65.42 226.22,64.54 226.33,63.76 226.44,63.07 226.55,62.50 226.66,62.05 226.77,61.73 226.88,61.55 226.99,61.52 227.10,61.74 227.21,62.22 227.32,62.94 227.43,63.89 227.54,65.02 227.65,66.31 227.76,67.72 227.87,69.22 227.98,70.76 228.09,72.31 228.20,73.85 228.31,75.34 228.42,76.77 228.53,78.12 228.65,79.37 228.76,80.52 228.87,81.56 228.98,82.49 229.09,83.31 229.20,84.03 229.31,84.63 229.42,85.14 229.53,85.54 229.64,85.86 229.75,86.08 229.86,86.23 229.97,86.31 230.08,86.34 230.19,86.31 230.30,86.25 230.41,86.16 230.52,86.06 230.63,85.94 230.74,85.82 230.85,85.70 230.96,85.58 231.07,85.47 231.18,85.36 231.29,85.26 231.40,85.16 231.52,85.07 231.63,84.99 231.74,84.93 231.85,84.87 231.96,84.82 232.07,84.78 232.18,84.75 232.29,84.74 232.40,84.74 232.51,84.75 232.62,84.78 232.73,84.82 232.84,84.86 232.95,84.92 233.06,84.98 233.17,85.05 233.28,85.12 233.39,85.19 233.50,85.26 233.61,85.33 233.72,85.39 233.83,85.45 233.94,85.50 234.05,85.53 234.16,85.56 234.27,85.59 234.38,85.60 234.50,85.60 234.61,85.59 234.72,85.58 234.83,85.56 234.94,85.54 235.05,85.52 235.16,85.49 235.27,85.46 235.38,85.44 235.49,85.42 235.60,85.40 235.71,85.39 235.82,85.39 235.93,85.39 236.04,85.40 236.15,85.41 236.26,85.43 236.37,85.45 236.48,85.46 236.59,85.46 236.70,85.46 236.81,85.42 236.92,85.36 237.03,85.26 237.14,85.10 237.25,84.90 237.36,84.64 237.48,84.33 237.59,83.98 237.70,83.61 237.81,83.25 237.92,82.93 238.03,82.66 238.14,82.48 238.25,82.40 238.36,82.43 238.47,82.57 238.58,82.79 238.69,83.09 238.80,83.45 238.91,83.83 239.02,84.23 239.13,84.62 239.24,85.01 239.35,85.37 239.46,85.72 239.57,86.03 239.68,86.30 239.79,86.52 239.90,86.67 240.01,86.75 240.12,86.76 240.23,86.70 240.35,86.59 240.46,86.46 240.57,86.32 240.68,86.18 240.79,86.08 240.90,86.02 241.01,86.04 241.12,86.16 241.23,86.42 241.34,86.81 241.45,87.27 241.56,87.65 241.67,87.79 241.78,87.60 241.89,86.92 242.00,85.16 242.11,80.86 242.22,72.94 242.33,63.81 242.44,59.53 242.55,63.64 242.66,72.55 242.77,80.15 242.88,84.16 242.99,85.94 243.10,87.49 243.21,89.96 243.33,93.36 243.44,96.54 243.55,97.86 243.66,96.52 243.77,93.30 243.88,89.86 243.99,87.31 244.10,85.70 244.21,84.41 244.32,82.74 244.43,80.47 244.54,78.03 244.65,76.43 244.76,76.50 244.87,78.29 244.98,81.08 245.09,83.90 245.20,85.97 245.31,86.73 245.42,85.92 245.53,83.79 245.64,80.99 245.75,78.55 245.86,77.51 245.97,78.28 246.08,80.35 246.20,82.71 246.31,84.47 246.42,85.11 246.53,84.59 246.64,83.48 246.75,82.36 246.86,81.44 246.97,80.73 247.08,80.22 247.19,79.93 247.30,79.82 247.41,79.80 247.52,79.78 247.63,79.67 247.74,79.41 247.85,78.99 247.96,78.41 248.07,77.69 248.18,76.88 248.29,75.98 248.40,75.03 248.51,74.03 248.62,73.00 248.73,71.95 248.84,70.90 248.95,69.85 249.06,68.81 249.18,67.80 249.29,66.84 249.40,65.94 249.51,65.10 249.62,64.35 249.73,63.70 249.84,63.16 249.95,62.73 250.06,62.43 250.17,62.25 250.28,62.23 250.39,62.45 250.50,62.92 250.61,63.62 250.72,64.53 250.83,65.63 250.94,66.87 251.05,68.23 251.16,69.68 251.27,71.16 251.38,72.66 251.49,74.15 251.60,75.59 251.71,76.96 251.82,78.26 251.93,79.47 252.04,80.58 252.16,81.59 252.27,82.50 252.38,83.30 252.49,84.00 252.60,84.60 252.71,85.10 252.82,85.50 252.93,85.82 253.04,86.05 253.15,86.21 253.26,86.30 253.37,86.34 253.48,86.33 253.59,86.28 253.70,86.21 253.81,86.11 253.92,86.01 254.03,85.90 254.14,85.78 254.25,85.67 254.36,85.55 254.47,85.45 254.58,85.34 254.69,85.24 254.80,85.14 254.91,85.05 255.03,84.97 255.14,84.90 255.25,84.83 255.36,84.78 255.47,84.74 255.58,84.71 255.69,84.70 255.80,84.70 255.91,84.71 256.02,84.74 256.13,84.78 256.24,84.83 256.35,84.89 256.46,84.96 256.57,85.04 256.68,85.12 256.79,85.19 256.90,85.27 257.01,85.35 257.12,85.42 257.23,85.48 257.34,85.54 257.45,85.58 257.56,85.62 257.67,85.64 257.78,85.66 257.89,85.66 258.01,85.66 258.12,85.65 258.23,85.63 258.34,85.60 258.45,85.58 258.56,85.54 258.67,85.51 258.78,85.48 258.89,85.45 259.00,85.43 259.11,85.40 259.22,85.38 259.33,85.36 259.44,85.33 259.55,85.30 259.66,85.25 259.77,85.19 259.88,85.09 259.99,84.95 260.10,84.77 260.21,84.54 260.32,84.27 260.43,83.96 260.54,83.63 260.65,83.29 260.76,82.98 260.88,82.72 260.99,82.53 261.10,82.44 261.21,82.46 261.32,82.58 261.43,82.80 261.54,83.10 261.65,83.46 261.76,83.85 261.87,84.26 261.98,84.66 262.09,85.05 262.20,85.42 262.31,85.76 262.42,86.07 262.53,86.34 262.64,86.55 262.75,86.70 262.86,86.78 262.97,86.78 263.08,86.71 263.19,86.58 263.30,86.42 263.41,86.24 263.52,86.07 263.63,85.93 263.74,85.83 263.86,85.79 263.97,85.85 264.08,86.03 264.19,86.37 264.30,86.83 264.41,87.29 264.52,87.60 264.63,87.62 264.74,87.25 264.85,86.14 264.96,83.17 265.07,76.63 265.18,66.82 265.29,58.76 265.40,58.71 265.51,66.65 265.62,76.26 265.73,82.55 265.84,85.42 265.95,87.06 266.06,89.29 266.17,92.74 266.28,96.75 266.39,99.53 266.50,99.49 266.61,96.62 266.72,92.52 266.84,88.95 266.95,86.60 267.06,85.08 267.17,83.58 267.28,81.55 267.39,79.06 267.50,76.88 267.61,76.02 267.72,76.98 267.83,79.39 267.94,82.31 268.05,84.84 268.16,86.32 268.27,86.32 268.38,84.82 268.49,82.28 268.60,79.56 268.71,77.74 268.82,77.65 268.93,79.23 269.04,81.62 269.15,83.81 269.26,85.08 269.37,85.14 269.48,84.26 269.59,83.11 269.71,82.10 269.82,81.29 269.93,80.68 270.04,80.28 270.15,80.07 270.26,79.99 270.37,79.96 270.48,79.87 270.59,79.66 270.70,79.28 270.81,78.73 270.92,78.04 271.03,77.23 271.14,76.33 271.25,75.37 271.36,74.36 271.47,73.32 271.58,72.26 271.69,71.20 271.80,70.14 271.91,69.09 272.02,68.08 272.13,67.11 272.24,66.20 272.35,65.35 272.46,64.59 272.57,63.93 272.69,63.37 272.80,62.92 272.91,62.60 273.02,62.40 273.13,62.33 273.24,62.46 273.35,62.83 273.46,63.44 273.57,64.27 273.68,65.29 273.79,66.47 273.90,67.77 274.01,69.17 274.12,70.62 274.23,72.09 274.34,73.56 274.45,74.99 274.56,76.36 274.67,77.66 274.78,78.87 274.89,79.99 275.00,81.01 275.11,81.93 275.22,82.75 275.33,83.48 275.44,84.10 275.56,84.63 275.67,85.08 275.78,85.44 275.89,85.72 276.00,85.92 276.11,86.07 276.22,86.16 276.33,86.20 276.44,86.20 276.55,86.18 276.66,86.14 276.77,86.08 276.88,86.01 276.99,85.94 277.10,85.86 277.21,85.78 277.32,85.69 277.43,85.61 277.54,85.52 277.65,85.42 277.76,85.33 277.87,85.24 277.98,85.14 278.09,85.05 278.20,84.97 278.31,84.89 278.42,84.82 278.54,84.76 278.65,84.71 278.76,84.68 278.87,84.66 278.98,84.65 279.09,84.66 279.20,84.69 279.31,84.73 279.42,84.78 279.53,84.85 279.64,84.92 279.75,85.00 279.86,85.09 279.97,85.18 280.08,85.27 280.19,85.36 280.30,85.44 280.41,85.52 280.52,85.59 280.63,85.65 280.74,85.69 280.85,85.73 280.96,85.75 281.07,85.75 281.18,85.73 281.29,85.69 281.40,85.61 281.52,85.50 281.63,85.35 281.74,85.14 281.85,84.89 281.96,84.58 282.07,84.22 282.18,83.83 282.29,83.41 282.40,83.00 282.51,82.63 282.62,82.31 282.73,82.08 282.84,81.96 282.95,81.96 283.06,82.09 283.17,82.32 283.28,82.65 283.39,83.06 283.50,83.51 283.61,83.98 283.72,84.46 283.83,84.93 283.94,85.39 284.05,85.82 284.16,86.22 284.27,86.56 284.39,86.85 284.50,87.07 284.61,87.20 284.72,87.24 284.83,87.19 284.94,87.08 285.05,86.91 285.16,86.72 285.27,86.51 285.38,86.32 285.49,86.16 285.60,86.05 285.71,86.03 285.82,86.13 285.93,86.38 286.04,86.75 286.15,87.13 286.26,87.35 286.37,87.30 286.48,86.88 286.59,85.81 286.70,83.11 286.81,77.29 286.92,68.62 287.03,61.52 287.14,61.50 287.25,68.52 287.37,77.03 287.48,82.65 287.59,85.28 287.70,86.92 287.81,89.22 287.92,92.76 288.03,96.85 288.14,99.72 288.25,99.75 288.36,96.95 288.47,92.91 288.58,89.39 288.69,87.08 288.80,85.57 288.91,84.08 289.02,82.03 289.13,79.51 289.24,77.29 289.35,76.38 289.46,77.28 289.57,79.61 289.68,82.44 289.79,84.89 289.90,86.29 290.01,86.20 290.12,84.61 290.24,81.99 290.35,79.21 290.46,77.34 290.57,77.20 290.68,78.75 290.79,81.12 290.90,83.31 291.01,84.60 291.12,84.69 291.23,83.86 291.34,82.77 291.45,81.82 291.56,81.09 291.67,80.57 291.78,80.25 291.89,80.13 292.00,80.14 292.11,80.19 292.22,80.17 292.33,80.02 292.44,79.70 292.55,79.19 292.66,78.52 292.77,77.73 292.88,76.82 292.99,75.84 293.10,74.80 293.22,73.71 293.33,72.59 293.44,71.45 293.55,70.31 293.66,69.19 293.77,68.09 293.88,67.03 293.99,66.03 294.10,65.11 294.21,64.28 294.32,63.55 294.43,62.94 294.54,62.46 294.65,62.11 294.76,61.91 294.87,61.85 294.98,62.00 295.09,62.41 295.20,63.07 295.31,63.96 295.42,65.05 295.53,66.31 295.64,67.70 295.75,69.18 295.86,70.72 295.97,72.28 296.08,73.82 296.20,75.32 296.31,76.75 296.42,78.10 296.53,79.35 296.64,80.48 296.75,81.51 296.86,82.42 296.97,83.21 297.08,83.89 297.19,84.46 297.30,84.93 297.41,85.30 297.52,85.57 297.63,85.77 297.74,85.89 297.85,85.94 297.96,85.95 298.07,85.92 298.18,85.85 298.29,85.77 298.40,85.69 298.51,85.60 298.62,85.52 298.73,85.44 298.84,85.38 298.95,85.33 299.07,85.29 299.18,85.26 299.29,85.24 299.40,85.23 299.51,85.22 299.62,85.21 299.73,85.20 299.84,85.20 299.95,85.19 300.06,85.19 300.17,85.18 300.28,85.18 300.39,85.17 300.50,85.16" fill="none" stroke="#0072BD" stroke-width="0.62" stroke-linejoin="round"/>
<rect x="24.56" y="160.74" width="275.94" height="63.51" fill="#fff" stroke="#6e6e6e" stroke-width="1"/>
<text transform="translate(24.56 238.59) scale(0.720 1)" font-size="10" text-anchor="middle" font-weight="normal" fill="#333333">0</text>
<text transform="translate(52.15 238.59) scale(0.720 1)" font-size="10" text-anchor="middle" font-weight="normal" fill="#333333">500</text>
<text transform="translate(79.75 238.59) scale(0.720 1)" font-size="10" text-anchor="middle" font-weight="normal" fill="#333333">1000</text>
<text transform="translate(107.34 238.59) scale(0.720 1)" font-size="10" text-anchor="middle" font-weight="normal" fill="#333333">1500</text>
<text transform="translate(134.94 238.59) scale(0.720 1)" font-size="10" text-anchor="middle" font-weight="normal" fill="#333333">2000</text>
<text transform="translate(162.53 238.59) scale(0.720 1)" font-size="10" text-anchor="middle" font-weight="normal" fill="#333333">2500</text>
<text transform="translate(190.12 238.59) scale(0.720 1)" font-size="10" text-anchor="middle" font-weight="normal" fill="#333333">3000</text>
<text transform="translate(217.72 238.59) scale(0.720 1)" font-size="10" text-anchor="middle" font-weight="normal" fill="#333333">3500</text>
<text transform="translate(245.31 238.59) scale(0.720 1)" font-size="10" text-anchor="middle" font-weight="normal" fill="#333333">4000</text>
<text transform="translate(272.91 238.59) scale(0.720 1)" font-size="10" text-anchor="middle" font-weight="normal" fill="#333333">4500</text>
<text transform="translate(300.50 238.59) scale(0.720 1)" font-size="10" text-anchor="middle" font-weight="normal" fill="#333333">5000</text>
<text transform="translate(22.11 229.00) scale(0.720 1)" font-size="10" text-anchor="end" font-weight="normal" fill="#333333">-0.5</text>
<text transform="translate(22.11 197.25) scale(0.720 1)" font-size="10" text-anchor="end" font-weight="normal" fill="#333333">0</text>
<text transform="translate(22.11 165.49) scale(0.720 1)" font-size="10" text-anchor="end" font-weight="normal" fill="#333333">0.5</text>
<path d="M52.15 224.25v-3.20M52.15 160.74v3.20M79.75 224.25v-3.20M79.75 160.74v3.20M107.34 224.25v-3.20M107.34 160.74v3.20M134.94 224.25v-3.20M134.94 160.74v3.20M162.53 224.25v-3.20M162.53 160.74v3.20M190.12 224.25v-3.20M190.12 160.74v3.20M217.72 224.25v-3.20M217.72 160.74v3.20M245.31 224.25v-3.20M245.31 160.74v3.20M272.91 224.25v-3.20M272.91 160.74v3.20M24.56 192.50h3.20M300.50 192.50h-3.20" stroke="#8a8a8a" stroke-width="0.9" fill="none"/>
<text transform="translate(162.53 156.74) scale(0.720 1)" font-size="11" text-anchor="middle" font-weight="bold" fill="#000">apply high frequency</text>
<text transform="translate(162.53 252.50) scale(0.720 1)" font-size="11" text-anchor="middle" font-weight="normal" fill="#333333">sample</text>
<text transform="translate(6.16 192.50) scale(0.700 1) rotate(-90)" font-size="11.3" text-anchor="middle" font-weight="normal" fill="#333333">Voltage(mv)</text>
<polyline points="24.56,192.50 24.67,192.49 24.78,192.49 24.89,192.49 25.00,192.49 25.11,192.49 25.22,192.49 25.33,192.48 25.44,192.48 25.55,192.47 25.66,192.46 25.77,192.45 25.88,192.43 25.99,192.42 26.11,192.40 26.22,192.37 26.33,192.35 26.44,192.32 26.55,192.29 26.66,192.25 26.77,192.21 26.88,192.17 26.99,192.12 27.10,192.07 27.21,192.01 27.32,191.95 27.43,191.89 27.54,191.82 27.65,191.76 27.76,191.71 27.87,191.67 27.98,191.64 28.09,191.63 28.20,191.64 28.31,191.68 28.42,191.74 28.53,191.82 28.64,191.93 28.75,192.07 28.86,192.23 28.98,192.41 29.09,192.61 29.20,192.83 29.31,193.06 29.42,193.29 29.53,193.52 29.64,193.74 29.75,193.95 29.86,194.13 29.97,194.29 30.08,194.41 30.19,194.48 30.30,194.49 30.41,194.42 30.52,194.29 30.63,194.08 30.74,193.81 30.85,193.49 30.96,193.15 31.07,192.79 31.18,192.45 31.29,192.13 31.40,191.86 31.51,191.67 31.62,191.56 31.73,191.54 31.84,191.62 31.96,191.79 32.07,192.05 32.18,192.39 32.29,192.80 32.40,193.24 32.51,193.69 32.62,194.14 32.73,194.55 32.84,194.91 32.95,195.18 33.06,195.37 33.17,195.44 33.28,195.42 33.39,195.31 33.50,195.13 33.61,194.86 33.72,194.53 33.83,194.12 33.94,193.66 34.05,193.15 34.16,192.61 34.27,192.04 34.38,191.46 34.49,190.88 34.60,190.31 34.71,189.77 34.82,189.27 34.94,188.82 35.05,188.43 35.16,188.10 35.27,187.85 35.38,187.67 35.49,187.59 35.60,187.58 35.71,187.67 35.82,187.85 35.93,188.11 36.04,188.45 36.15,188.86 36.26,189.33 36.37,189.86 36.48,190.44 36.59,191.04 36.70,191.66 36.81,192.29 36.92,192.92 37.03,193.52 37.14,194.10 37.25,194.63 37.36,195.10 37.47,195.52 37.58,195.86 37.69,196.12 37.81,196.30 37.92,196.39 38.03,196.39 38.14,196.36 38.25,196.28 38.36,196.17 38.47,196.03 38.58,195.85 38.69,195.65 38.80,195.41 38.91,195.15 39.02,194.86 39.13,194.55 39.24,194.22 39.35,193.88 39.46,193.53 39.57,193.17 39.68,192.80 39.79,192.44 39.90,192.08 40.01,191.72 40.12,191.38 40.23,191.04 40.34,190.73 40.45,190.44 40.56,190.17 40.67,189.92 40.79,189.71 40.90,189.52 41.01,189.37 41.12,189.25 41.23,189.17 41.34,189.13 41.45,189.12 41.56,189.14 41.67,189.20 41.78,189.30 41.89,189.43 42.00,189.59 42.11,189.78 42.22,190.00 42.33,190.24 42.44,190.51 42.55,190.80 42.66,191.11 42.77,191.43 42.88,191.76 42.99,192.09 43.10,192.43 43.21,192.77 43.32,193.11 43.43,193.44 43.54,193.75 43.66,194.05 43.77,194.34 43.88,194.60 43.99,194.84 44.10,195.05 44.21,195.24 44.32,195.39 44.43,195.51 44.54,195.60 44.65,195.65 44.76,195.67 44.87,195.67 44.98,195.67 45.09,195.68 45.20,195.74 45.31,195.89 45.42,196.19 45.53,196.67 45.64,197.33 45.75,198.05 45.86,198.65 45.97,198.94 46.08,198.78 46.19,198.18 46.30,197.26 46.41,196.23 46.52,195.26 46.64,194.41 46.75,193.41 46.86,191.19 46.97,185.85 47.08,176.98 47.19,169.14 47.30,168.89 47.41,176.21 47.52,184.57 47.63,189.46 47.74,191.49 47.85,193.08 47.96,196.04 48.07,200.94 48.18,206.68 48.29,210.61 48.40,210.36 48.51,205.94 48.62,199.71 48.73,194.32 48.84,190.94 48.95,189.28 49.06,188.56 49.17,188.22 49.28,187.99 49.39,187.81 49.50,187.64 49.62,187.48 49.73,187.34 49.84,187.20 49.95,187.08 50.06,186.97 50.17,186.88 50.28,186.80 50.39,186.73 50.50,186.68 50.61,186.65 50.72,186.62 50.83,186.62 50.94,186.66 51.05,186.77 51.16,186.96 51.27,187.23 51.38,187.56 51.49,187.95 51.60,188.40 51.71,188.90 51.82,189.43 51.93,190.00 52.04,190.58 52.15,191.18 52.26,191.77 52.37,192.36 52.49,192.92 52.60,193.46 52.71,193.95 52.82,194.40 52.93,194.79 53.04,195.13 53.15,195.39 53.26,195.58 53.37,195.70 53.48,195.74 53.59,195.68 53.70,195.50 53.81,195.22 53.92,194.85 54.03,194.40 54.14,193.90 54.25,193.37 54.36,192.85 54.47,192.35 54.58,191.90 54.69,191.53 54.80,191.25 54.91,191.07 55.02,191.01 55.13,191.08 55.24,191.27 55.35,191.57 55.47,191.97 55.58,192.45 55.69,192.98 55.80,193.53 55.91,194.07 56.02,194.58 56.13,195.02 56.24,195.37 56.35,195.62 56.46,195.75 56.57,195.75 56.68,195.65 56.79,195.46 56.90,195.17 57.01,194.79 57.12,194.34 57.23,193.82 57.34,193.24 57.45,192.62 57.56,191.96 57.67,191.28 57.78,190.61 57.89,189.94 58.00,189.30 58.11,188.69 58.22,188.14 58.34,187.65 58.45,187.24 58.56,186.91 58.67,186.66 58.78,186.52 58.89,186.47 59.00,186.52 59.11,186.67 59.22,186.92 59.33,187.27 59.44,187.70 59.55,188.21 59.66,188.79 59.77,189.42 59.88,190.10 59.99,190.80 60.10,191.52 60.21,192.24 60.32,192.95 60.43,193.62 60.54,194.26 60.65,194.84 60.76,195.35 60.87,195.78 60.98,196.12 61.09,196.38 61.20,196.53 61.32,196.58 61.43,196.56 61.54,196.50 61.65,196.39 61.76,196.25 61.87,196.06 61.98,195.84 62.09,195.58 62.20,195.29 62.31,194.97 62.42,194.63 62.53,194.26 62.64,193.88 62.75,193.47 62.86,193.06 62.97,192.64 63.08,192.22 63.19,191.80 63.30,191.38 63.41,190.98 63.52,190.58 63.63,190.21 63.74,189.86 63.85,189.53 63.96,189.24 64.07,188.97 64.18,188.74 64.30,188.55 64.41,188.39 64.52,188.27 64.63,188.20 64.74,188.17 64.85,188.18 64.96,188.23 65.07,188.32 65.18,188.45 65.29,188.61 65.40,188.81 65.51,189.05 65.62,189.31 65.73,189.61 65.84,189.93 65.95,190.27 66.06,190.63 66.17,191.00 66.28,191.38 66.39,191.77 66.50,192.16 66.61,192.55 66.72,192.93 66.83,193.30 66.94,193.65 67.05,193.99 67.17,194.30 67.28,194.59 67.39,194.85 67.50,195.07 67.61,195.27 67.72,195.43 67.83,195.54 67.94,195.63 68.05,195.67 68.16,195.67 68.27,195.67 68.38,195.67 68.49,195.71 68.60,195.81 68.71,196.03 68.82,196.43 68.93,197.02 69.04,197.73 69.15,198.43 69.26,198.91 69.37,198.99 69.48,198.62 69.59,197.85 69.70,196.86 69.81,195.86 69.92,194.98 70.03,194.16 70.15,192.90 70.26,189.81 70.37,183.49 70.48,175.52 70.59,171.53 70.70,175.05 70.81,182.54 70.92,188.39 71.03,191.09 71.14,192.33 71.25,193.98 71.36,197.07 71.47,201.44 71.58,205.53 71.69,207.09 71.80,205.07 71.91,200.53 72.02,195.70 72.13,192.18 72.24,190.23 72.35,189.33 72.46,188.93 72.57,188.69 72.68,188.51 72.79,188.35 72.90,188.20 73.02,188.06 73.13,187.93 73.24,187.81 73.35,187.71 73.46,187.61 73.57,187.53 73.68,187.47 73.79,187.41 73.90,187.37 74.01,187.35 74.12,187.33 74.23,187.34 74.34,187.41 74.45,187.56 74.56,187.78 74.67,188.07 74.78,188.41 74.89,188.82 75.00,189.27 75.11,189.77 75.22,190.29 75.33,190.85 75.44,191.41 75.55,191.98 75.66,192.55 75.77,193.10 75.88,193.63 76.00,194.13 76.11,194.58 76.22,194.98 76.33,195.33 76.44,195.62 76.55,195.84 76.66,195.98 76.77,196.06 76.88,196.05 76.99,195.93 77.10,195.69 77.21,195.34 77.32,194.90 77.43,194.40 77.54,193.85 77.65,193.29 77.76,192.75 77.87,192.25 77.98,191.81 78.09,191.46 78.20,191.22 78.31,191.09 78.42,191.09 78.53,191.22 78.64,191.48 78.75,191.84 78.86,192.29 78.98,192.81 79.09,193.36 79.20,193.93 79.31,194.47 79.42,194.95 79.53,195.36 79.64,195.67 79.75,195.87 79.86,195.93 79.97,195.89 80.08,195.75 80.19,195.54 80.30,195.24 80.41,194.87 80.52,194.43 80.63,193.93 80.74,193.39 80.85,192.81 80.96,192.21 81.07,191.60 81.18,190.99 81.29,190.40 81.40,189.84 81.51,189.32 81.62,188.85 81.73,188.45 81.85,188.11 81.96,187.85 82.07,187.67 82.18,187.59 82.29,187.59 82.40,187.68 82.51,187.86 82.62,188.12 82.73,188.47 82.84,188.89 82.95,189.38 83.06,189.92 83.17,190.50 83.28,191.12 83.39,191.75 83.50,192.39 83.61,193.03 83.72,193.64 83.83,194.23 83.94,194.77 84.05,195.25 84.16,195.67 84.27,196.02 84.38,196.29 84.49,196.47 84.60,196.56 84.71,196.56 84.83,196.51 84.94,196.41 85.05,196.25 85.16,196.05 85.27,195.80 85.38,195.51 85.49,195.18 85.60,194.82 85.71,194.42 85.82,194.00 85.93,193.56 86.04,193.11 86.15,192.64 86.26,192.18 86.37,191.72 86.48,191.26 86.59,190.82 86.70,190.40 86.81,190.01 86.92,189.65 87.03,189.32 87.14,189.03 87.25,188.78 87.36,188.58 87.47,188.43 87.58,188.33 87.70,188.28 87.81,188.28 87.92,188.33 88.03,188.43 88.14,188.58 88.25,188.77 88.36,189.01 88.47,189.29 88.58,189.60 88.69,189.95 88.80,190.32 88.91,190.72 89.02,191.13 89.13,191.55 89.24,191.98 89.35,192.41 89.46,192.83 89.57,193.24 89.68,193.64 89.79,194.01 89.90,194.35 90.01,194.66 90.12,194.94 90.23,195.18 90.34,195.37 90.45,195.52 90.56,195.61 90.68,195.67 90.79,195.67 90.90,195.67 91.01,195.66 91.12,195.69 91.23,195.77 91.34,195.98 91.45,196.36 91.56,196.92 91.67,197.61 91.78,198.28 91.89,198.72 92.00,198.77 92.11,198.36 92.22,197.55 92.33,196.52 92.44,195.48 92.55,194.54 92.66,193.68 92.77,192.40 92.88,189.37 92.99,183.22 93.10,175.50 93.21,171.60 93.32,174.92 93.43,182.05 93.55,187.61 93.66,190.15 93.77,191.33 93.88,193.02 93.99,196.24 94.10,200.81 94.21,205.08 94.32,206.69 94.43,204.51 94.54,199.67 94.65,194.53 94.76,190.77 94.87,188.66 94.98,187.67 95.09,187.21 95.20,186.93 95.31,186.70 95.42,186.50 95.53,186.31 95.64,186.13 95.75,185.97 95.86,185.83 95.97,185.69 96.08,185.58 96.19,185.48 96.30,185.39 96.41,185.33 96.53,185.27 96.64,185.24 96.75,185.22 96.86,185.23 96.97,185.32 97.08,185.50 97.19,185.76 97.30,186.10 97.41,186.51 97.52,187.00 97.63,187.54 97.74,188.13 97.85,188.75 97.96,189.41 98.07,190.09 98.18,190.77 98.29,191.44 98.40,192.10 98.51,192.73 98.62,193.32 98.73,193.86 98.84,194.34 98.95,194.76 99.06,195.10 99.17,195.36 99.28,195.53 99.39,195.62 99.51,195.62 99.62,195.50 99.73,195.27 99.84,194.95 99.95,194.53 100.06,194.06 100.17,193.55 100.28,193.02 100.39,192.51 100.50,192.03 100.61,191.62 100.72,191.29 100.83,191.07 100.94,190.95 101.05,190.95 101.16,191.10 101.27,191.38 101.38,191.78 101.49,192.28 101.60,192.85 101.71,193.47 101.82,194.09 101.93,194.69 102.04,195.23 102.15,195.69 102.26,196.03 102.38,196.24 102.49,196.32 102.60,196.26 102.71,196.10 102.82,195.83 102.93,195.46 103.04,195.01 103.15,194.47 103.26,193.86 103.37,193.19 103.48,192.48 103.59,191.74 103.70,190.99 103.81,190.24 103.92,189.52 104.03,188.83 104.14,188.19 104.25,187.61 104.36,187.11 104.47,186.70 104.58,186.38 104.69,186.16 104.80,186.05 104.91,186.05 105.02,186.16 105.13,186.37 105.24,186.67 105.36,187.07 105.47,187.55 105.58,188.11 105.69,188.73 105.80,189.40 105.91,190.11 106.02,190.84 106.13,191.58 106.24,192.31 106.35,193.02 106.46,193.69 106.57,194.31 106.68,194.87 106.79,195.35 106.90,195.75 107.01,196.06 107.12,196.27 107.23,196.37 107.34,196.38 107.45,196.36 107.56,196.31 107.67,196.25 107.78,196.16 107.89,196.05 108.00,195.91 108.11,195.76 108.23,195.59 108.34,195.41 108.45,195.20 108.56,194.98 108.67,194.75 108.78,194.51 108.89,194.25 109.00,193.98 109.11,193.71 109.22,193.44 109.33,193.15 109.44,192.87 109.55,192.59 109.66,192.31 109.77,192.03 109.88,191.75 109.99,191.49 110.10,191.23 110.21,190.99 110.32,190.75 110.43,190.53 110.54,190.32 110.65,190.13 110.76,189.96 110.87,189.81 110.98,189.67 111.09,189.56 111.21,189.47 111.32,189.40 111.43,189.35 111.54,189.32 111.65,189.32 111.76,189.34 111.87,189.38 111.98,189.44 112.09,189.52 112.20,189.63 112.31,189.75 112.42,189.89 112.53,190.05 112.64,190.23 112.75,190.42 112.86,190.63 112.97,190.85 113.08,191.08 113.19,191.32 113.30,191.57 113.41,191.82 113.52,192.08 113.63,192.34 113.74,192.61 113.85,192.87 113.96,193.13 114.07,193.39 114.19,193.64 114.30,193.88 114.41,194.11 114.52,194.33 114.63,194.54 114.74,194.73 114.85,194.91 114.96,195.07 115.07,195.22 115.18,195.35 115.29,195.45 115.40,195.54 115.51,195.60 115.62,195.65 115.73,195.67 115.84,195.67 115.95,195.67 116.06,195.67 116.17,195.70 116.28,195.80 116.39,196.03 116.50,196.42 116.61,197.00 116.72,197.71 116.83,198.40 116.94,198.88 117.06,198.96 117.17,198.58 117.28,197.80 117.39,196.81 117.50,195.80 117.61,194.91 117.72,194.08 117.83,192.74 117.94,189.43 118.05,182.60 118.16,174.00 118.27,169.70 118.38,173.52 118.49,181.63 118.60,187.97 118.71,190.94 118.82,192.41 118.93,194.53 119.04,198.49 119.15,204.08 119.26,209.30 119.37,211.33 119.48,208.82 119.59,203.13 119.70,197.08 119.81,192.67 119.92,190.25 120.04,189.15 120.15,188.68 120.26,188.43 120.37,188.24 120.48,188.07 120.59,187.91 120.70,187.77 120.81,187.63 120.92,187.51 121.03,187.40 121.14,187.31 121.25,187.22 121.36,187.15 121.47,187.10 121.58,187.05 121.69,187.03 121.80,187.01 121.91,187.02 122.02,187.10 122.13,187.26 122.24,187.49 122.35,187.80 122.46,188.17 122.57,188.60 122.68,189.08 122.79,189.61 122.91,190.17 123.02,190.76 123.13,191.36 123.24,191.97 123.35,192.57 123.46,193.16 123.57,193.72 123.68,194.25 123.79,194.73 123.90,195.16 124.01,195.53 124.12,195.84 124.23,196.07 124.34,196.23 124.45,196.31 124.56,196.30 124.67,196.18 124.78,195.93 124.89,195.58 125.00,195.13 125.11,194.62 125.22,194.07 125.33,193.50 125.44,192.94 125.55,192.43 125.66,191.99 125.77,191.63 125.89,191.39 126.00,191.26 126.11,191.26 126.22,191.38 126.33,191.62 126.44,191.95 126.55,192.38 126.66,192.86 126.77,193.37 126.88,193.90 126.99,194.40 127.10,194.86 127.21,195.24 127.32,195.53 127.43,195.70 127.54,195.77 127.65,195.71 127.76,195.56 127.87,195.30 127.98,194.95 128.09,194.51 128.20,193.99 128.31,193.40 128.42,192.77 128.53,192.08 128.64,191.38 128.75,190.66 128.87,189.94 128.98,189.25 129.09,188.59 129.20,187.97 129.31,187.42 129.42,186.94 129.53,186.54 129.64,186.24 129.75,186.03 129.86,185.92 129.97,185.93 130.08,186.04 130.19,186.26 130.30,186.60 130.41,187.03 130.52,187.55 130.63,188.16 130.74,188.83 130.85,189.56 130.96,190.33 131.07,191.12 131.18,191.92 131.29,192.71 131.40,193.48 131.51,194.20 131.62,194.88 131.74,195.48 131.85,196.00 131.96,196.44 132.07,196.77 132.18,196.99 132.29,197.11 132.40,197.12 132.51,197.10 132.62,197.06 132.73,197.00 132.84,196.93 132.95,196.83 133.06,196.72 133.17,196.59 133.28,196.44 133.39,196.27 133.50,196.09 133.61,195.90 133.72,195.69 133.83,195.47 133.94,195.24 134.05,194.99 134.16,194.74 134.27,194.47 134.38,194.20 134.49,193.92 134.60,193.64 134.72,193.35 134.83,193.07 134.94,192.77 135.05,192.48 135.16,192.20 135.27,191.91 135.38,191.63 135.49,191.35 135.60,191.08 135.71,190.81 135.82,190.56 135.93,190.31 136.04,190.08 136.15,189.86 136.26,189.65 136.37,189.45 136.48,189.27 136.59,189.11 136.70,188.96 136.81,188.83 136.92,188.71 137.03,188.62 137.14,188.54 137.25,188.48 137.36,188.44 137.47,188.42 137.59,188.42 137.70,188.44 137.81,188.47 137.92,188.53 138.03,188.59 138.14,188.68 138.25,188.78 138.36,188.89 138.47,189.03 138.58,189.17 138.69,189.33 138.80,189.50 138.91,189.69 139.02,189.88 139.13,190.09 139.24,190.30 139.35,190.53 139.46,190.76 139.57,190.99 139.68,191.24 139.79,191.48 139.90,191.73 140.01,191.98 140.12,192.23 140.23,192.48 140.34,192.73 140.45,192.97 140.57,193.21 140.68,193.45 140.79,193.67 140.90,193.89 141.01,194.10 141.12,194.30 141.23,194.49 141.34,194.67 141.45,194.84 141.56,194.99 141.67,195.13 141.78,195.25 141.89,195.36 142.00,195.46 142.11,195.53 142.22,195.59 142.33,195.64 142.44,195.66 142.55,195.67 142.66,195.67 142.77,195.67 142.88,195.68 142.99,195.74 143.10,195.89 143.21,196.19 143.32,196.68 143.43,197.33 143.55,198.05 143.66,198.66 143.77,198.95 143.88,198.79 143.99,198.19 144.10,197.27 144.21,196.24 144.32,195.28 144.43,194.44 144.54,193.51 144.65,191.60 144.76,187.12 144.87,179.74 144.98,173.22 145.09,172.97 145.20,178.98 145.31,185.86 145.42,189.89 145.53,191.62 145.64,193.19 145.75,196.24 145.86,201.29 145.97,207.21 146.08,211.27 146.19,211.03 146.30,206.48 146.42,200.07 146.53,194.53 146.64,191.06 146.75,189.35 146.86,188.62 146.97,188.27 147.08,188.05 147.19,187.87 147.30,187.70 147.41,187.54 147.52,187.40 147.63,187.27 147.74,187.15 147.85,187.04 147.96,186.95 148.07,186.87 148.18,186.80 148.29,186.75 148.40,186.71 148.51,186.69 148.62,186.68 148.73,186.72 148.84,186.84 148.95,187.04 149.06,187.31 149.17,187.66 149.28,188.06 149.40,188.52 149.51,189.04 149.62,189.59 149.73,190.17 149.84,190.77 149.95,191.39 150.06,192.00 150.17,192.60 150.28,193.18 150.39,193.74 150.50,194.25 150.61,194.71 150.72,195.12 150.83,195.46 150.94,195.73 151.05,195.93 151.16,196.05 151.27,196.09 151.38,196.02 151.49,195.83 151.60,195.52 151.71,195.10 151.82,194.61 151.93,194.05 152.04,193.47 152.15,192.89 152.27,192.34 152.38,191.84 152.49,191.43 152.60,191.12 152.71,190.92 152.82,190.86 152.93,190.92 153.04,191.09 153.15,191.38 153.26,191.75 153.37,192.19 153.48,192.68 153.59,193.20 153.70,193.70 153.81,194.17 153.92,194.58 154.03,194.91 154.14,195.14 154.25,195.26 154.36,195.27 154.47,195.17 154.58,194.98 154.69,194.71 154.80,194.34 154.91,193.91 155.02,193.41 155.13,192.85 155.25,192.25 155.36,191.62 155.47,190.97 155.58,190.32 155.69,189.67 155.80,189.06 155.91,188.48 156.02,187.94 156.13,187.47 156.24,187.08 156.35,186.76 156.46,186.52 156.57,186.38 156.68,186.33 156.79,186.39 156.90,186.57 157.01,186.85 157.12,187.25 157.23,187.74 157.34,188.32 157.45,188.98 157.56,189.71 157.67,190.48 157.78,191.28 157.89,192.10 158.00,192.92 158.11,193.73 158.23,194.50 158.34,195.22 158.45,195.88 158.56,196.46 158.67,196.96 158.78,197.35 158.89,197.64 159.00,197.81 159.11,197.87 159.22,197.86 159.33,197.84 159.44,197.79 159.55,197.73 159.66,197.65 159.77,197.55 159.88,197.44 159.99,197.31 160.10,197.17 160.21,197.01 160.32,196.83 160.43,196.64 160.54,196.44 160.65,196.23 160.76,196.00 160.87,195.77 160.98,195.52 161.10,195.26 161.21,195.00 161.32,194.73 161.43,194.45 161.54,194.17 161.65,193.88 161.76,193.59 161.87,193.30 161.98,193.01 162.09,192.72 162.20,192.43 162.31,192.14 162.42,191.86 162.53,191.58 162.64,191.31 162.75,191.04 162.86,190.78 162.97,190.53 163.08,190.29 163.19,190.06 163.30,189.85 163.41,189.64 163.52,189.45 163.63,189.27 163.74,189.10 163.85,188.95 163.96,188.82 164.08,188.70 164.19,188.60 164.30,188.51 164.41,188.44 164.52,188.39 164.63,188.36 164.74,188.35 164.85,188.35 164.96,188.36 165.07,188.40 165.18,188.44 165.29,188.50 165.40,188.58 165.51,188.66 165.62,188.77 165.73,188.88 165.84,189.01 165.95,189.15 166.06,189.30 166.17,189.46 166.28,189.63 166.39,189.81 166.50,190.00 166.61,190.20 166.72,190.40 166.83,190.61 166.95,190.83 167.06,191.05 167.17,191.28 167.28,191.51 167.39,191.74 167.50,191.97 167.61,192.20 167.72,192.43 167.83,192.66 167.94,192.89 168.05,193.11 168.16,193.33 168.27,193.54 168.38,193.75 168.49,193.95 168.60,194.14 168.71,194.33 168.82,194.50 168.93,194.66 169.04,194.82 169.15,194.96 169.26,195.09 169.37,195.21 169.48,195.32 169.59,195.41 169.70,195.49 169.81,195.55 169.93,195.60 170.04,195.64 170.15,195.66 170.26,195.67 170.37,195.67 170.48,195.67 170.59,195.68 170.70,195.74 170.81,195.89 170.92,196.19 171.03,196.68 171.14,197.34 171.25,198.06 171.36,198.66 171.47,198.95 171.58,198.80 171.69,198.20 171.80,197.28 171.91,196.26 172.02,195.29 172.13,194.46 172.24,193.53 172.35,191.62 172.46,187.15 172.57,179.76 172.68,173.25 172.79,173.00 172.91,179.01 173.02,185.89 173.13,189.92 173.24,191.64 173.35,193.17 173.46,196.12 173.57,201.03 173.68,206.77 173.79,210.70 173.90,210.46 174.01,206.04 174.12,199.81 174.23,194.43 174.34,191.05 174.45,189.39 174.56,188.67 174.67,188.34 174.78,188.12 174.89,187.94 175.00,187.77 175.11,187.61 175.22,187.47 175.33,187.34 175.44,187.22 175.55,187.11 175.66,187.02 175.78,186.94 175.89,186.88 176.00,186.83 176.11,186.79 176.22,186.77 176.33,186.76 176.44,186.80 176.55,186.92 176.66,187.12 176.77,187.40 176.88,187.74 176.99,188.15 177.10,188.61 177.21,189.13 177.32,189.68 177.43,190.26 177.54,190.87 177.65,191.49 177.76,192.10 177.87,192.71 177.98,193.30 178.09,193.85 178.20,194.36 178.31,194.83 178.42,195.24 178.53,195.58 178.64,195.85 178.76,196.05 178.87,196.17 178.98,196.21 179.09,196.15 179.20,195.97 179.31,195.67 179.42,195.28 179.53,194.81 179.64,194.28 179.75,193.73 179.86,193.17 179.97,192.65 180.08,192.18 180.19,191.78 180.30,191.49 180.41,191.31 180.52,191.24 180.63,191.30 180.74,191.49 180.85,191.78 180.96,192.16 181.07,192.62 181.18,193.12 181.29,193.65 181.40,194.17 181.51,194.66 181.63,195.08 181.74,195.42 181.85,195.66 181.96,195.78 182.07,195.78 182.18,195.68 182.29,195.48 182.40,195.17 182.51,194.78 182.62,194.30 182.73,193.75 182.84,193.14 182.95,192.48 183.06,191.79 183.17,191.08 183.28,190.37 183.39,189.67 183.50,188.99 183.61,188.36 183.72,187.77 183.83,187.26 183.94,186.82 184.05,186.47 184.16,186.22 184.27,186.06 184.38,186.01 184.49,186.07 184.61,186.23 184.72,186.50 184.83,186.86 184.94,187.32 185.05,187.86 185.16,188.47 185.27,189.14 185.38,189.86 185.49,190.61 185.60,191.37 185.71,192.13 185.82,192.88 185.93,193.60 186.04,194.27 186.15,194.88 186.26,195.42 186.37,195.88 186.48,196.24 186.59,196.51 186.70,196.67 186.81,196.73 186.92,196.71 187.03,196.67 187.14,196.59 187.25,196.48 187.36,196.35 187.47,196.18 187.59,195.99 187.70,195.77 187.81,195.54 187.92,195.27 188.03,194.99 188.14,194.70 188.25,194.38 188.36,194.06 188.47,193.73 188.58,193.38 188.69,193.04 188.80,192.69 188.91,192.35 189.02,192.00 189.13,191.67 189.24,191.34 189.35,191.03 189.46,190.73 189.57,190.45 189.68,190.19 189.79,189.95 189.90,189.73 190.01,189.54 190.12,189.37 190.23,189.23 190.34,189.12 190.46,189.04 190.57,188.99 190.68,188.98 190.79,188.99 190.90,189.03 191.01,189.10 191.12,189.19 191.23,189.32 191.34,189.47 191.45,189.64 191.56,189.84 191.67,190.06 191.78,190.29 191.89,190.55 192.00,190.82 192.11,191.10 192.22,191.39 192.33,191.70 192.44,192.00 192.55,192.31 192.66,192.62 192.77,192.93 192.88,193.23 192.99,193.52 193.10,193.81 193.21,194.08 193.32,194.33 193.44,194.57 193.55,194.79 193.66,194.99 193.77,195.17 193.88,195.32 193.99,195.44 194.10,195.54 194.21,195.61 194.32,195.66 194.43,195.67 194.54,195.67 194.65,195.67 194.76,195.68 194.87,195.74 194.98,195.90 195.09,196.20 195.20,196.69 195.31,197.35 195.42,198.08 195.53,198.69 195.64,198.99 195.75,198.84 195.86,198.24 195.97,197.33 196.08,196.31 196.19,195.36 196.31,194.53 196.42,193.61 196.53,191.71 196.64,187.25 196.75,179.87 196.86,173.36 196.97,173.12 197.08,179.15 197.19,186.03 197.30,190.06 197.41,191.76 197.52,193.22 197.63,195.99 197.74,200.59 197.85,205.99 197.96,209.68 198.07,209.45 198.18,205.28 198.29,199.42 198.40,194.36 198.51,191.18 198.62,189.61 198.73,188.93 198.84,188.61 198.95,188.40 199.06,188.23 199.17,188.07 199.29,187.92 199.40,187.78 199.51,187.65 199.62,187.54 199.73,187.44 199.84,187.35 199.95,187.27 200.06,187.21 200.17,187.16 200.28,187.13 200.39,187.11 200.50,187.10 200.61,187.13 200.72,187.24 200.83,187.41 200.94,187.65 201.05,187.95 201.16,188.30 201.27,188.70 201.38,189.14 201.49,189.62 201.60,190.13 201.71,190.66 201.82,191.19 201.93,191.72 202.04,192.25 202.15,192.75 202.27,193.23 202.38,193.68 202.49,194.08 202.60,194.43 202.71,194.73 202.82,194.97 202.93,195.14 203.04,195.24 203.15,195.28 203.26,195.22 203.37,195.06 203.48,194.81 203.59,194.46 203.70,194.05 203.81,193.59 203.92,193.11 204.03,192.63 204.14,192.17 204.25,191.76 204.36,191.41 204.47,191.16 204.58,190.99 204.69,190.94 204.80,191.00 204.91,191.18 205.02,191.47 205.14,191.86 205.25,192.32 205.36,192.83 205.47,193.36 205.58,193.88 205.69,194.37 205.80,194.79 205.91,195.14 206.02,195.37 206.13,195.50 206.24,195.50 206.35,195.41 206.46,195.24 206.57,194.99 206.68,194.66 206.79,194.26 206.90,193.80 207.01,193.29 207.12,192.74 207.23,192.16 207.34,191.57 207.45,190.97 207.56,190.38 207.67,189.81 207.78,189.28 207.89,188.80 208.00,188.37 208.12,188.00 208.23,187.71 208.34,187.49 208.45,187.36 208.56,187.32 208.67,187.37 208.78,187.52 208.89,187.76 209.00,188.09 209.11,188.51 209.22,189.00 209.33,189.56 209.44,190.16 209.55,190.82 209.66,191.49 209.77,192.19 209.88,192.88 209.99,193.56 210.10,194.21 210.21,194.82 210.32,195.37 210.43,195.87 210.54,196.28 210.65,196.61 210.76,196.86 210.87,197.00 210.99,197.05 211.10,197.03 211.21,196.98 211.32,196.88 211.43,196.74 211.54,196.57 211.65,196.37 211.76,196.13 211.87,195.87 211.98,195.57 212.09,195.25 212.20,194.92 212.31,194.56 212.42,194.19 212.53,193.81 212.64,193.42 212.75,193.03 212.86,192.64 212.97,192.26 213.08,191.89 213.19,191.53 213.30,191.18 213.41,190.86 213.52,190.56 213.63,190.28 213.74,190.04 213.85,189.83 213.97,189.65 214.08,189.50 214.19,189.40 214.30,189.33 214.41,189.30 214.52,189.31 214.63,189.35 214.74,189.43 214.85,189.53 214.96,189.68 215.07,189.85 215.18,190.05 215.29,190.27 215.40,190.52 215.51,190.79 215.62,191.08 215.73,191.39 215.84,191.70 215.95,192.03 216.06,192.36 216.17,192.69 216.28,193.02 216.39,193.34 216.50,193.65 216.61,193.96 216.72,194.24 216.83,194.51 216.95,194.75 217.06,194.97 217.17,195.16 217.28,195.33 217.39,195.46 217.50,195.56 217.61,195.63 217.72,195.67 217.83,195.67 217.94,195.67 218.05,195.67 218.16,195.69 218.27,195.79 218.38,196.00 218.49,196.39 218.60,196.96 218.71,197.66 218.82,198.34 218.93,198.80 219.04,198.87 219.15,198.47 219.26,197.67 219.37,196.66 219.48,195.64 219.59,194.72 219.70,193.87 219.82,192.55 219.93,189.32 220.04,182.71 220.15,174.38 220.26,170.20 220.37,173.85 220.48,181.63 220.59,187.70 220.70,190.49 220.81,191.76 220.92,193.48 221.03,196.73 221.14,201.33 221.25,205.62 221.36,207.26 221.47,205.10 221.58,200.28 221.69,195.16 221.80,191.42 221.91,189.34 222.02,188.38 222.13,187.93 222.24,187.67 222.35,187.46 222.46,187.27 222.57,187.10 222.68,186.94 222.80,186.79 222.91,186.66 223.02,186.54 223.13,186.43 223.24,186.34 223.35,186.26 223.46,186.20 223.57,186.15 223.68,186.12 223.79,186.11 223.90,186.11 224.01,186.19 224.12,186.35 224.23,186.59 224.34,186.89 224.45,187.26 224.56,187.69 224.67,188.18 224.78,188.71 224.89,189.27 225.00,189.86 225.11,190.46 225.22,191.07 225.33,191.68 225.44,192.27 225.55,192.83 225.67,193.36 225.78,193.84 225.89,194.28 226.00,194.65 226.11,194.95 226.22,195.19 226.33,195.34 226.44,195.42 226.55,195.42 226.66,195.31 226.77,195.09 226.88,194.78 226.99,194.39 227.10,193.94 227.21,193.46 227.32,192.96 227.43,192.48 227.54,192.03 227.65,191.64 227.76,191.33 227.87,191.11 227.98,191.00 228.09,191.00 228.20,191.14 228.31,191.41 228.42,191.79 228.53,192.27 228.65,192.81 228.76,193.40 228.87,193.99 228.98,194.56 229.09,195.07 229.20,195.50 229.31,195.83 229.42,196.03 229.53,196.10 229.64,196.06 229.75,195.92 229.86,195.70 229.97,195.40 230.08,195.02 230.19,194.58 230.30,194.08 230.41,193.53 230.52,192.95 230.63,192.34 230.74,191.72 230.85,191.11 230.96,190.51 231.07,189.95 231.18,189.42 231.29,188.94 231.40,188.53 231.52,188.19 231.63,187.93 231.74,187.75 231.85,187.66 231.96,187.66 232.07,187.76 232.18,187.94 232.29,188.22 232.40,188.58 232.51,189.01 232.62,189.51 232.73,190.07 232.84,190.67 232.95,191.30 233.06,191.96 233.17,192.62 233.28,193.27 233.39,193.91 233.50,194.51 233.61,195.07 233.72,195.57 233.83,196.00 233.94,196.36 234.05,196.63 234.16,196.82 234.27,196.91 234.38,196.92 234.50,196.88 234.61,196.79 234.72,196.66 234.83,196.49 234.94,196.28 235.05,196.04 235.16,195.76 235.27,195.44 235.38,195.10 235.49,194.74 235.60,194.35 235.71,193.95 235.82,193.53 235.93,193.10 236.04,192.67 236.15,192.24 236.26,191.82 236.37,191.40 236.48,191.00 236.59,190.61 236.70,190.24 236.81,189.90 236.92,189.59 237.03,189.31 237.14,189.06 237.25,188.85 237.36,188.68 237.48,188.55 237.59,188.47 237.70,188.42 237.81,188.42 237.92,188.46 238.03,188.54 238.14,188.66 238.25,188.81 238.36,189.00 238.47,189.22 238.58,189.48 238.69,189.76 238.80,190.07 238.91,190.40 239.02,190.74 239.13,191.10 239.24,191.48 239.35,191.85 239.46,192.23 239.57,192.61 239.68,192.98 239.79,193.34 239.90,193.69 240.01,194.02 240.12,194.33 240.23,194.61 240.35,194.86 240.46,195.09 240.57,195.28 240.68,195.43 240.79,195.55 240.90,195.63 241.01,195.67 241.12,195.67 241.23,195.67 241.34,195.67 241.45,195.70 241.56,195.79 241.67,196.01 241.78,196.40 241.89,196.98 242.00,197.68 242.11,198.37 242.22,198.83 242.33,198.90 242.44,198.51 242.55,197.72 242.66,196.72 242.77,195.70 242.88,194.80 242.99,193.94 243.10,192.56 243.21,189.12 243.33,182.03 243.44,173.09 243.55,168.62 243.66,172.57 243.77,180.99 243.88,187.56 243.99,190.59 244.10,191.93 244.21,193.67 244.32,196.93 244.43,201.54 244.54,205.84 244.65,207.49 244.76,205.34 244.87,200.53 244.98,195.42 245.09,191.69 245.20,189.62 245.31,188.66 245.42,188.22 245.53,187.97 245.64,187.77 245.75,187.59 245.86,187.42 245.97,187.27 246.08,187.12 246.20,187.00 246.31,186.88 246.42,186.78 246.53,186.69 246.64,186.61 246.75,186.56 246.86,186.51 246.97,186.48 247.08,186.47 247.19,186.47 247.30,186.55 247.41,186.70 247.52,186.92 247.63,187.21 247.74,187.56 247.85,187.97 247.96,188.43 248.07,188.93 248.18,189.47 248.29,190.03 248.40,190.60 248.51,191.18 248.62,191.75 248.73,192.31 248.84,192.85 248.95,193.35 249.06,193.81 249.18,194.22 249.29,194.57 249.40,194.86 249.51,195.08 249.62,195.23 249.73,195.31 249.84,195.30 249.95,195.20 250.06,194.99 250.17,194.69 250.28,194.31 250.39,193.88 250.50,193.41 250.61,192.92 250.72,192.46 250.83,192.02 250.94,191.65 251.05,191.34 251.16,191.14 251.27,191.03 251.38,191.03 251.49,191.17 251.60,191.43 251.71,191.81 251.82,192.28 251.93,192.81 252.04,193.39 252.16,193.98 252.27,194.54 252.38,195.04 252.49,195.47 252.60,195.79 252.71,195.99 252.82,196.06 252.93,196.01 253.04,195.86 253.15,195.62 253.26,195.29 253.37,194.88 253.48,194.39 253.59,193.84 253.70,193.24 253.81,192.61 253.92,191.94 254.03,191.27 254.14,190.60 254.25,189.94 254.36,189.32 254.47,188.75 254.58,188.23 254.69,187.78 254.80,187.40 254.91,187.12 255.03,186.92 255.14,186.82 255.25,186.83 255.36,186.94 255.47,187.16 255.58,187.48 255.69,187.91 255.80,188.42 255.91,189.01 256.02,189.67 256.13,190.39 256.24,191.14 256.35,191.91 256.46,192.70 256.57,193.47 256.68,194.23 256.79,194.94 256.90,195.60 257.01,196.19 257.12,196.70 257.23,197.13 257.34,197.45 257.45,197.67 257.56,197.79 257.67,197.79 257.78,197.74 257.89,197.63 258.01,197.48 258.12,197.27 258.23,197.02 258.34,196.72 258.45,196.38 258.56,196.00 258.67,195.59 258.78,195.16 258.89,194.70 259.00,194.22 259.11,193.73 259.22,193.24 259.33,192.74 259.44,192.25 259.55,191.77 259.66,191.31 259.77,190.87 259.88,190.45 259.99,190.07 260.10,189.72 260.21,189.41 260.32,189.15 260.43,188.93 260.54,188.76 260.65,188.65 260.76,188.58 260.88,188.57 260.99,188.60 261.10,188.68 261.21,188.80 261.32,188.96 261.43,189.16 261.54,189.39 261.65,189.66 261.76,189.96 261.87,190.29 261.98,190.64 262.09,191.01 262.20,191.39 262.31,191.78 262.42,192.17 262.53,192.57 262.64,192.95 262.75,193.33 262.86,193.69 262.97,194.04 263.08,194.36 263.19,194.65 263.30,194.91 263.41,195.14 263.52,195.33 263.63,195.47 263.74,195.58 263.86,195.65 263.97,195.67 264.08,195.67 264.19,195.66 264.30,195.67 264.41,195.72 264.52,195.86 264.63,196.15 264.74,196.62 264.85,197.26 264.96,197.97 265.07,198.55 265.18,198.82 265.29,198.64 265.40,198.01 265.51,197.07 265.62,196.01 265.73,195.02 265.84,194.14 265.95,193.12 266.06,190.94 266.17,185.73 266.28,177.11 266.39,169.50 266.50,169.21 266.61,176.24 266.72,184.27 266.84,188.94 266.95,190.78 267.06,192.09 267.17,194.49 267.28,198.51 267.39,203.23 267.50,206.43 267.61,206.15 267.72,202.38 267.83,197.10 267.94,192.53 268.05,189.64 268.16,188.19 268.27,187.52 268.38,187.18 268.49,186.93 268.60,186.72 268.71,186.53 268.82,186.35 268.93,186.18 269.04,186.03 269.15,185.90 269.26,185.77 269.37,185.67 269.48,185.58 269.59,185.50 269.71,185.44 269.82,185.40 269.93,185.38 270.04,185.37 270.15,185.41 270.26,185.54 270.37,185.75 270.48,186.04 270.59,186.41 270.70,186.84 270.81,187.33 270.92,187.88 271.03,188.47 271.14,189.09 271.25,189.74 271.36,190.39 271.47,191.05 271.58,191.70 271.69,192.32 271.80,192.91 271.91,193.45 272.02,193.95 272.13,194.38 272.24,194.75 272.35,195.04 272.46,195.25 272.57,195.38 272.69,195.42 272.80,195.37 272.91,195.21 273.02,194.96 273.13,194.63 273.24,194.23 273.35,193.79 273.46,193.32 273.57,192.86 273.68,192.41 273.79,192.01 273.90,191.68 274.01,191.43 274.12,191.28 274.23,191.22 274.34,191.29 274.45,191.49 274.56,191.81 274.67,192.23 274.78,192.74 274.89,193.29 275.00,193.87 275.11,194.45 275.22,194.98 275.33,195.45 275.44,195.82 275.56,196.08 275.67,196.22 275.78,196.22 275.89,196.12 276.00,195.93 276.11,195.65 276.22,195.28 276.33,194.83 276.44,194.31 276.55,193.74 276.66,193.12 276.77,192.48 276.88,191.81 276.99,191.14 277.10,190.48 277.21,189.85 277.32,189.25 277.43,188.71 277.54,188.22 277.65,187.81 277.76,187.48 277.87,187.25 277.98,187.10 278.09,187.05 278.20,187.10 278.31,187.24 278.42,187.48 278.54,187.80 278.65,188.21 278.76,188.68 278.87,189.22 278.98,189.82 279.09,190.45 279.20,191.11 279.31,191.78 279.42,192.46 279.53,193.12 279.64,193.75 279.75,194.34 279.86,194.88 279.97,195.36 280.08,195.77 280.19,196.09 280.30,196.33 280.41,196.47 280.52,196.52 280.63,196.48 280.74,196.37 280.85,196.19 280.96,195.95 281.07,195.64 281.18,195.27 281.29,194.86 281.40,194.39 281.52,193.90 281.63,193.37 281.74,192.83 281.85,192.28 281.96,191.73 282.07,191.18 282.18,190.66 282.29,190.17 282.40,189.71 282.51,189.30 282.62,188.94 282.73,188.64 282.84,188.40 282.95,188.23 283.06,188.13 283.17,188.10 283.28,188.14 283.39,188.25 283.50,188.43 283.61,188.67 283.72,188.97 283.83,189.33 283.94,189.73 284.05,190.17 284.16,190.65 284.27,191.14 284.39,191.65 284.50,192.17 284.61,192.68 284.72,193.17 284.83,193.64 284.94,194.08 285.05,194.48 285.16,194.83 285.27,195.12 285.38,195.36 285.49,195.53 285.60,195.64 285.71,195.67 285.82,195.67 285.93,195.67 286.04,195.68 286.15,195.74 286.26,195.89 286.37,196.19 286.48,196.67 286.59,197.33 286.70,198.05 286.81,198.65 286.92,198.94 287.03,198.78 287.14,198.18 287.25,197.26 287.37,196.23 287.48,195.26 287.59,194.43 287.70,193.53 287.81,191.76 287.92,187.66 288.03,180.94 288.14,175.01 288.25,174.76 288.36,180.18 288.47,186.39 288.58,190.02 288.69,191.61 288.80,193.10 288.91,196.04 289.02,200.94 289.13,206.68 289.24,210.61 289.35,210.36 289.46,205.93 289.57,199.70 289.68,194.32 289.79,190.94 289.90,189.27 290.01,188.55 290.12,188.21 290.24,187.99 290.35,187.81 290.46,187.64 290.57,187.48 290.68,187.33 290.79,187.20 290.90,187.08 291.01,186.97 291.12,186.88 291.23,186.80 291.34,186.73 291.45,186.68 291.56,186.64 291.67,186.62 291.78,186.61 291.89,186.65 292.00,186.77 292.11,186.98 292.22,187.25 292.33,187.60 292.44,188.01 292.55,188.48 292.66,189.00 292.77,189.56 292.88,190.15 292.99,190.77 293.10,191.39 293.22,192.01 293.33,192.62 293.44,193.22 293.55,193.78 293.66,194.30 293.77,194.77 293.88,195.18 293.99,195.53 294.10,195.80 294.21,196.00 294.32,196.12 294.43,196.16 294.54,196.10 294.65,195.91 294.76,195.59 294.87,195.18 294.98,194.68 295.09,194.12 295.20,193.54 295.31,192.96 295.42,192.40 295.53,191.90 295.64,191.49 295.75,191.18 295.86,190.98 295.97,190.92 296.08,190.99 296.20,191.20 296.31,191.55 296.42,192.01 296.53,192.55 296.64,193.15 296.75,193.78 296.86,194.40 296.97,194.97 297.08,195.48 297.19,195.88 297.30,196.16 297.41,196.31 297.52,196.31 297.63,196.21 297.74,196.00 297.85,195.70 297.96,195.31 298.07,194.84 298.18,194.29 298.29,193.68 298.40,193.03 298.51,192.34 298.62,191.64 298.73,190.93 298.84,190.23 298.95,189.55 299.07,188.92 299.18,188.34 299.29,187.83 299.40,187.40 299.51,187.05 299.62,186.80 299.73,186.64 299.84,186.59 299.95,186.65 300.06,186.81 300.17,187.08 300.28,187.46 300.39,187.92 300.50,188.47" fill="none" stroke="#0072BD" stroke-width="0.62" stroke-linejoin="round"/>
<rect x="24.56" y="272.45" width="275.94" height="62.85" fill="#fff" stroke="#6e6e6e" stroke-width="1"/>
<text transform="translate(24.56 349.98) scale(0.720 1)" font-size="10" text-anchor="middle" font-weight="normal" fill="#333333">0</text>
<text transform="translate(52.15 349.98) scale(0.720 1)" font-size="10" text-anchor="middle" font-weight="normal" fill="#333333">500</text>
<text transform="translate(79.75 349.98) scale(0.720 1)" font-size="10" text-anchor="middle" font-weight="normal" fill="#333333">1000</text>
<text transform="translate(107.34 349.98) scale(0.720 1)" font-size="10" text-anchor="middle" font-weight="normal" fill="#333333">1500</text>
<text transform="translate(134.94 349.98) scale(0.720 1)" font-size="10" text-anchor="middle" font-weight="normal" fill="#333333">2000</text>
<text transform="translate(162.53 349.98) scale(0.720 1)" font-size="10" text-anchor="middle" font-weight="normal" fill="#333333">2500</text>
<text transform="translate(190.12 349.98) scale(0.720 1)" font-size="10" text-anchor="middle" font-weight="normal" fill="#333333">3000</text>
<text transform="translate(217.72 349.98) scale(0.720 1)" font-size="10" text-anchor="middle" font-weight="normal" fill="#333333">3500</text>
<text transform="translate(245.31 349.98) scale(0.720 1)" font-size="10" text-anchor="middle" font-weight="normal" fill="#333333">4000</text>
<text transform="translate(272.91 349.98) scale(0.720 1)" font-size="10" text-anchor="middle" font-weight="normal" fill="#333333">4500</text>
<text transform="translate(300.50 349.98) scale(0.720 1)" font-size="10" text-anchor="middle" font-weight="normal" fill="#333333">5000</text>
<text transform="translate(22.11 340.05) scale(0.720 1)" font-size="10" text-anchor="end" font-weight="normal" fill="#333333">-0.5</text>
<text transform="translate(22.11 308.62) scale(0.720 1)" font-size="10" text-anchor="end" font-weight="normal" fill="#333333">0</text>
<text transform="translate(22.11 277.20) scale(0.720 1)" font-size="10" text-anchor="end" font-weight="normal" fill="#333333">0.5</text>
<path d="M52.15 335.30v-3.20M52.15 272.45v3.20M79.75 335.30v-3.20M79.75 272.45v3.20M107.34 335.30v-3.20M107.34 272.45v3.20M134.94 335.30v-3.20M134.94 272.45v3.20M162.53 335.30v-3.20M162.53 272.45v3.20M190.12 335.30v-3.20M190.12 272.45v3.20M217.72 335.30v-3.20M217.72 272.45v3.20M245.31 335.30v-3.20M245.31 272.45v3.20M272.91 335.30v-3.20M272.91 272.45v3.20M24.56 303.88h3.20M300.50 303.88h-3.20" stroke="#8a8a8a" stroke-width="0.9" fill="none"/>
<text transform="translate(162.53 268.45) scale(0.720 1)" font-size="11" text-anchor="middle" font-weight="bold" fill="#000">Location Rwave</text>
<text transform="translate(162.53 363.88) scale(0.720 1)" font-size="11" text-anchor="middle" font-weight="normal" fill="#333333">sample</text>
<text transform="translate(6.16 303.88) scale(0.700 1) rotate(-90)" font-size="11.3" text-anchor="middle" font-weight="normal" fill="#333333">Voltage(mv)</text>
<polyline points="24.56,303.88 24.67,303.87 24.78,303.87 24.89,303.87 25.00,303.87 25.11,303.87 25.22,303.87 25.33,303.86 25.44,303.86 25.55,303.85 25.66,303.84 25.77,303.83 25.88,303.81 25.99,303.80 26.11,303.78 26.22,303.76 26.33,303.73 26.44,303.70 26.55,303.67 26.66,303.63 26.77,303.59 26.88,303.55 26.99,303.50 27.10,303.45 27.21,303.40 27.32,303.34 27.43,303.28 27.54,303.21 27.65,303.15 27.76,303.09 27.87,303.05 27.98,303.03 28.09,303.02 28.20,303.03 28.31,303.07 28.42,303.12 28.53,303.21 28.64,303.32 28.75,303.45 28.86,303.61 28.98,303.79 29.09,303.99 29.20,304.21 29.31,304.43 29.42,304.66 29.53,304.89 29.64,305.11 29.75,305.31 29.86,305.50 29.97,305.65 30.08,305.77 30.19,305.84 30.30,305.85 30.41,305.78 30.52,305.65 30.63,305.44 30.74,305.18 30.85,304.86 30.96,304.52 31.07,304.17 31.18,303.83 31.29,303.51 31.40,303.25 31.51,303.06 31.62,302.95 31.73,302.93 31.84,303.01 31.96,303.18 32.07,303.44 32.18,303.78 32.29,304.17 32.40,304.61 32.51,305.06 32.62,305.50 32.73,305.91 32.84,306.26 32.95,306.54 33.06,306.72 33.17,306.79 33.28,306.77 33.39,306.67 33.50,306.48 33.61,306.22 33.72,305.88 33.83,305.48 33.94,305.03 34.05,304.53 34.16,303.99 34.27,303.42 34.38,302.85 34.49,302.28 34.60,301.72 34.71,301.18 34.82,300.69 34.94,300.24 35.05,299.85 35.16,299.52 35.27,299.27 35.38,299.10 35.49,299.02 35.60,299.02 35.71,299.10 35.82,299.28 35.93,299.53 36.04,299.87 36.15,300.28 36.26,300.75 36.37,301.27 36.48,301.84 36.59,302.44 36.70,303.05 36.81,303.68 36.92,304.29 37.03,304.89 37.14,305.46 37.25,305.98 37.36,306.46 37.47,306.86 37.58,307.20 37.69,307.46 37.81,307.64 37.92,307.72 38.03,307.73 38.14,307.70 38.25,307.62 38.36,307.52 38.47,307.37 38.58,307.20 38.69,306.99 38.80,306.76 38.91,306.50 39.02,306.22 39.13,305.91 39.24,305.59 39.35,305.25 39.46,304.90 39.57,304.54 39.68,304.18 39.79,303.82 39.90,303.46 40.01,303.11 40.12,302.77 40.23,302.44 40.34,302.13 40.45,301.84 40.56,301.57 40.67,301.33 40.79,301.12 40.90,300.93 41.01,300.78 41.12,300.67 41.23,300.59 41.34,300.54 41.45,300.53 41.56,300.56 41.67,300.62 41.78,300.71 41.89,300.84 42.00,301.00 42.11,301.19 42.22,301.40 42.33,301.65 42.44,301.91 42.55,302.20 42.66,302.50 42.77,302.82 42.88,303.14 42.99,303.48 43.10,303.81 43.21,304.15 43.32,304.48 43.43,304.81 43.54,305.12 43.66,305.42 43.77,305.70 43.88,305.96 43.99,306.20 44.10,306.41 44.21,306.59 44.32,306.74 44.43,306.86 44.54,306.95 44.65,307.00 44.76,307.02 44.87,307.02 44.98,307.02 45.09,307.03 45.20,307.08 45.31,307.23 45.42,307.53 45.53,308.01 45.64,308.66 45.75,309.37 45.86,309.97 45.97,310.25 46.08,310.10 46.19,309.50 46.30,308.59 46.41,307.57 46.52,306.61 46.64,305.77 46.75,304.78 46.86,302.59 46.97,297.30 47.08,288.52 47.19,280.77 47.30,280.52 47.41,287.76 47.52,296.04 47.63,300.87 47.74,302.88 47.85,304.46 47.96,307.38 48.07,312.23 48.18,317.91 48.29,321.80 48.40,321.56 48.51,317.18 48.62,311.01 48.73,305.68 48.84,302.34 48.95,300.69 49.06,299.98 49.17,299.64 49.28,299.42 49.39,299.24 49.50,299.07 49.62,298.91 49.73,298.77 49.84,298.64 49.95,298.52 50.06,298.41 50.17,298.32 50.28,298.24 50.39,298.17 50.50,298.12 50.61,298.09 50.72,298.07 50.83,298.06 50.94,298.10 51.05,298.21 51.16,298.40 51.27,298.66 51.38,298.99 51.49,299.38 51.60,299.82 51.71,300.31 51.82,300.84 51.93,301.40 52.04,301.98 52.15,302.57 52.26,303.16 52.37,303.74 52.49,304.30 52.60,304.83 52.71,305.32 52.82,305.76 52.93,306.15 53.04,306.48 53.15,306.74 53.26,306.93 53.37,307.04 53.48,307.08 53.59,307.02 53.70,306.85 53.81,306.57 53.92,306.20 54.03,305.76 54.14,305.27 54.25,304.75 54.36,304.23 54.47,303.73 54.58,303.29 54.69,302.92 54.80,302.64 54.91,302.47 55.02,302.41 55.13,302.47 55.24,302.66 55.35,302.96 55.47,303.36 55.58,303.83 55.69,304.35 55.80,304.90 55.91,305.43 56.02,305.93 56.13,306.37 56.24,306.72 56.35,306.97 56.46,307.09 56.57,307.10 56.68,307.00 56.79,306.81 56.90,306.52 57.01,306.15 57.12,305.70 57.23,305.19 57.34,304.61 57.45,303.99 57.56,303.34 57.67,302.68 57.78,302.01 57.89,301.35 58.00,300.71 58.11,300.11 58.22,299.57 58.34,299.08 58.45,298.67 58.56,298.34 58.67,298.10 58.78,297.96 58.89,297.91 59.00,297.96 59.11,298.11 59.22,298.36 59.33,298.70 59.44,299.13 59.55,299.64 59.66,300.21 59.77,300.83 59.88,301.50 59.99,302.20 60.10,302.91 60.21,303.63 60.32,304.32 60.43,304.99 60.54,305.62 60.65,306.19 60.76,306.70 60.87,307.12 60.98,307.47 61.09,307.72 61.20,307.87 61.32,307.92 61.43,307.90 61.54,307.83 61.65,307.73 61.76,307.59 61.87,307.40 61.98,307.18 62.09,306.93 62.20,306.64 62.31,306.33 62.42,305.99 62.53,305.62 62.64,305.24 62.75,304.84 62.86,304.43 62.97,304.02 63.08,303.60 63.19,303.18 63.30,302.77 63.41,302.37 63.52,301.98 63.63,301.62 63.74,301.27 63.85,300.95 63.96,300.65 64.07,300.39 64.18,300.16 64.30,299.97 64.41,299.81 64.52,299.70 64.63,299.62 64.74,299.59 64.85,299.60 64.96,299.65 65.07,299.74 65.18,299.87 65.29,300.03 65.40,300.23 65.51,300.46 65.62,300.73 65.73,301.02 65.84,301.33 65.95,301.67 66.06,302.03 66.17,302.39 66.28,302.77 66.39,303.16 66.50,303.54 66.61,303.93 66.72,304.30 66.83,304.67 66.94,305.02 67.05,305.35 67.17,305.66 67.28,305.95 67.39,306.20 67.50,306.43 67.61,306.62 67.72,306.77 67.83,306.89 67.94,306.97 68.05,307.01 68.16,307.02 68.27,307.02 68.38,307.02 68.49,307.05 68.60,307.15 68.71,307.38 68.82,307.77 68.93,308.35 69.04,309.06 69.15,309.75 69.26,310.22 69.37,310.31 69.48,309.93 69.59,309.17 69.70,308.20 69.81,307.21 69.92,306.33 70.03,305.52 70.15,304.27 70.26,301.22 70.37,294.96 70.48,287.08 70.59,283.13 70.70,286.61 70.81,294.02 70.92,299.82 71.03,302.49 71.14,303.71 71.25,305.34 71.36,308.40 71.47,312.73 71.58,316.77 71.69,318.32 71.80,316.32 71.91,311.83 72.02,307.05 72.13,303.57 72.24,301.63 72.35,300.74 72.46,300.34 72.57,300.11 72.68,299.93 72.79,299.77 72.90,299.62 73.02,299.48 73.13,299.36 73.24,299.24 73.35,299.14 73.46,299.04 73.57,298.97 73.68,298.90 73.79,298.85 73.90,298.81 74.01,298.78 74.12,298.77 74.23,298.77 74.34,298.85 74.45,298.99 74.56,299.21 74.67,299.49 74.78,299.84 74.89,300.24 75.00,300.69 75.11,301.17 75.22,301.70 75.33,302.24 75.44,302.80 75.55,303.37 75.66,303.93 75.77,304.48 75.88,305.00 76.00,305.49 76.11,305.94 76.22,306.34 76.33,306.68 76.44,306.96 76.55,307.18 76.66,307.33 76.77,307.40 76.88,307.39 76.99,307.27 77.10,307.03 77.21,306.69 77.32,306.26 77.43,305.76 77.54,305.22 77.65,304.67 77.76,304.13 77.87,303.63 77.98,303.20 78.09,302.85 78.20,302.61 78.31,302.49 78.42,302.49 78.53,302.62 78.64,302.87 78.75,303.23 78.86,303.67 78.98,304.19 79.09,304.73 79.20,305.29 79.31,305.83 79.42,306.31 79.53,306.71 79.64,307.02 79.75,307.21 79.86,307.28 79.97,307.23 80.08,307.10 80.19,306.89 80.30,306.59 80.41,306.22 80.52,305.79 80.63,305.30 80.74,304.76 80.85,304.19 80.96,303.59 81.07,302.99 81.18,302.39 81.29,301.81 81.40,301.25 81.51,300.73 81.62,300.27 81.73,299.87 81.85,299.53 81.96,299.28 82.07,299.10 82.18,299.02 82.29,299.02 82.40,299.11 82.51,299.29 82.62,299.55 82.73,299.89 82.84,300.31 82.95,300.79 83.06,301.32 83.17,301.90 83.28,302.51 83.39,303.14 83.50,303.77 83.61,304.40 83.72,305.01 83.83,305.59 83.94,306.12 84.05,306.60 84.16,307.02 84.27,307.36 84.38,307.63 84.49,307.81 84.60,307.90 84.71,307.90 84.83,307.85 84.94,307.75 85.05,307.59 85.16,307.39 85.27,307.15 85.38,306.86 85.49,306.53 85.60,306.17 85.71,305.78 85.82,305.37 85.93,304.93 86.04,304.48 86.15,304.02 86.26,303.56 86.37,303.10 86.48,302.65 86.59,302.22 86.70,301.80 86.81,301.41 86.92,301.06 87.03,300.73 87.14,300.44 87.25,300.20 87.36,300.00 87.47,299.85 87.58,299.75 87.70,299.70 87.81,299.70 87.92,299.75 88.03,299.85 88.14,300.00 88.25,300.19 88.36,300.43 88.47,300.70 88.58,301.01 88.69,301.36 88.80,301.72 88.91,302.11 89.02,302.52 89.13,302.94 89.24,303.37 89.35,303.79 89.46,304.21 89.57,304.62 89.68,305.01 89.79,305.37 89.90,305.71 90.01,306.02 90.12,306.30 90.23,306.53 90.34,306.72 90.45,306.86 90.56,306.96 90.68,307.01 90.79,307.02 90.90,307.01 91.01,307.01 91.12,307.03 91.23,307.12 91.34,307.33 91.45,307.70 91.56,308.26 91.67,308.94 91.78,309.60 91.89,310.04 92.00,310.09 92.11,309.68 92.22,308.88 92.33,307.86 92.44,306.82 92.55,305.90 92.66,305.05 92.77,303.78 92.88,300.78 92.99,294.70 93.10,287.06 93.21,283.20 93.32,286.48 93.43,293.53 93.55,299.04 93.66,301.55 93.77,302.73 93.88,304.39 93.99,307.58 94.10,312.11 94.21,316.33 94.32,317.93 94.43,315.77 94.54,310.98 94.65,305.89 94.76,302.16 94.87,300.08 94.98,299.10 95.09,298.64 95.20,298.36 95.31,298.14 95.42,297.94 95.53,297.75 95.64,297.58 95.75,297.42 95.86,297.27 95.97,297.14 96.08,297.03 96.19,296.93 96.30,296.85 96.41,296.78 96.53,296.73 96.64,296.70 96.75,296.68 96.86,296.69 96.97,296.78 97.08,296.95 97.19,297.21 97.30,297.55 97.41,297.96 97.52,298.43 97.63,298.97 97.74,299.55 97.85,300.17 97.96,300.82 98.07,301.49 98.18,302.17 98.29,302.84 98.40,303.49 98.51,304.11 98.62,304.69 98.73,305.23 98.84,305.70 98.95,306.11 99.06,306.45 99.17,306.71 99.28,306.88 99.39,306.97 99.51,306.97 99.62,306.85 99.73,306.63 99.84,306.30 99.95,305.89 100.06,305.42 100.17,304.92 100.28,304.40 100.39,303.89 100.50,303.42 100.61,303.01 100.72,302.69 100.83,302.46 100.94,302.34 101.05,302.35 101.16,302.49 101.27,302.77 101.38,303.17 101.49,303.66 101.60,304.23 101.71,304.84 101.82,305.46 101.93,306.05 102.04,306.58 102.15,307.03 102.26,307.37 102.38,307.59 102.49,307.66 102.60,307.60 102.71,307.44 102.82,307.18 102.93,306.81 103.04,306.36 103.15,305.83 103.26,305.22 103.37,304.56 103.48,303.86 103.59,303.13 103.70,302.39 103.81,301.65 103.92,300.93 104.03,300.25 104.14,299.61 104.25,299.04 104.36,298.55 104.47,298.14 104.58,297.82 104.69,297.61 104.80,297.50 104.91,297.50 105.02,297.60 105.13,297.81 105.24,298.11 105.36,298.51 105.47,298.99 105.58,299.54 105.69,300.15 105.80,300.82 105.91,301.52 106.02,302.24 106.13,302.97 106.24,303.69 106.35,304.39 106.46,305.06 106.57,305.67 106.68,306.22 106.79,306.70 106.90,307.10 107.01,307.40 107.12,307.61 107.23,307.71 107.34,307.72 107.45,307.70 107.56,307.65 107.67,307.59 107.78,307.50 107.89,307.39 108.00,307.26 108.11,307.11 108.23,306.94 108.34,306.76 108.45,306.55 108.56,306.34 108.67,306.11 108.78,305.86 108.89,305.61 109.00,305.35 109.11,305.08 109.22,304.81 109.33,304.53 109.44,304.25 109.55,303.97 109.66,303.69 109.77,303.41 109.88,303.14 109.99,302.88 110.10,302.62 110.21,302.38 110.32,302.15 110.43,301.93 110.54,301.73 110.65,301.54 110.76,301.37 110.87,301.22 110.98,301.08 111.09,300.97 111.21,300.88 111.32,300.81 111.43,300.76 111.54,300.73 111.65,300.73 111.76,300.75 111.87,300.79 111.98,300.85 112.09,300.93 112.20,301.04 112.31,301.16 112.42,301.30 112.53,301.46 112.64,301.63 112.75,301.82 112.86,302.03 112.97,302.24 113.08,302.47 113.19,302.71 113.30,302.96 113.41,303.21 113.52,303.46 113.63,303.72 113.74,303.99 113.85,304.25 113.96,304.50 114.07,304.76 114.19,305.00 114.30,305.24 114.41,305.47 114.52,305.69 114.63,305.90 114.74,306.09 114.85,306.27 114.96,306.43 115.07,306.57 115.18,306.70 115.29,306.80 115.40,306.89 115.51,306.95 115.62,306.99 115.73,307.02 115.84,307.02 115.95,307.02 116.06,307.02 116.17,307.05 116.28,307.15 116.39,307.37 116.50,307.76 116.61,308.34 116.72,309.04 116.83,309.72 116.94,310.19 117.06,310.27 117.17,309.89 117.28,309.13 117.39,308.15 117.50,307.15 117.61,306.27 117.72,305.44 117.83,304.12 117.94,300.84 118.05,294.09 118.16,285.58 118.27,281.32 118.38,285.10 118.49,293.12 118.60,299.40 118.71,302.34 118.82,303.79 118.93,305.89 119.04,309.81 119.15,315.34 119.26,320.50 119.37,322.52 119.48,320.03 119.59,314.40 119.70,308.41 119.81,304.05 119.92,301.65 120.04,300.57 120.15,300.10 120.26,299.85 120.37,299.66 120.48,299.49 120.59,299.34 120.70,299.20 120.81,299.06 120.92,298.94 121.03,298.84 121.14,298.74 121.25,298.66 121.36,298.59 121.47,298.53 121.58,298.49 121.69,298.46 121.80,298.45 121.91,298.46 122.02,298.54 122.13,298.69 122.24,298.92 122.35,299.22 122.46,299.59 122.57,300.02 122.68,300.49 122.79,301.02 122.91,301.57 123.02,302.16 123.13,302.75 123.24,303.35 123.35,303.95 123.46,304.53 123.57,305.09 123.68,305.61 123.79,306.09 123.90,306.52 124.01,306.88 124.12,307.18 124.23,307.42 124.34,307.57 124.45,307.65 124.56,307.64 124.67,307.52 124.78,307.27 124.89,306.92 125.00,306.48 125.11,305.98 125.22,305.43 125.33,304.87 125.44,304.32 125.55,303.81 125.66,303.37 125.77,303.02 125.89,302.78 126.00,302.65 126.11,302.65 126.22,302.77 126.33,303.01 126.44,303.34 126.55,303.76 126.66,304.23 126.77,304.74 126.88,305.26 126.99,305.76 127.10,306.21 127.21,306.59 127.32,306.87 127.43,307.05 127.54,307.11 127.65,307.06 127.76,306.90 127.87,306.65 127.98,306.30 128.09,305.87 128.20,305.35 128.31,304.78 128.42,304.14 128.53,303.47 128.64,302.77 128.75,302.06 128.87,301.35 128.98,300.66 129.09,300.01 129.20,299.40 129.31,298.85 129.42,298.38 129.53,297.98 129.64,297.68 129.75,297.48 129.86,297.37 129.97,297.37 130.08,297.49 130.19,297.71 130.30,298.04 130.41,298.47 130.52,298.98 130.63,299.58 130.74,300.25 130.85,300.97 130.96,301.73 131.07,302.51 131.18,303.30 131.29,304.09 131.40,304.85 131.51,305.57 131.62,306.23 131.74,306.83 131.85,307.35 131.96,307.78 132.07,308.10 132.18,308.33 132.29,308.44 132.40,308.45 132.51,308.43 132.62,308.39 132.73,308.34 132.84,308.26 132.95,308.17 133.06,308.05 133.17,307.92 133.28,307.78 133.39,307.62 133.50,307.44 133.61,307.24 133.72,307.04 133.83,306.82 133.94,306.59 134.05,306.34 134.16,306.09 134.27,305.83 134.38,305.56 134.49,305.29 134.60,305.01 134.72,304.73 134.83,304.44 134.94,304.15 135.05,303.86 135.16,303.58 135.27,303.29 135.38,303.01 135.49,302.74 135.60,302.47 135.71,302.21 135.82,301.96 135.93,301.72 136.04,301.48 136.15,301.26 136.26,301.06 136.37,300.86 136.48,300.69 136.59,300.52 136.70,300.38 136.81,300.25 136.92,300.13 137.03,300.04 137.14,299.96 137.25,299.90 137.36,299.87 137.47,299.85 137.59,299.85 137.70,299.86 137.81,299.90 137.92,299.95 138.03,300.01 138.14,300.10 138.25,300.20 138.36,300.31 138.47,300.44 138.58,300.59 138.69,300.74 138.80,300.91 138.91,301.10 139.02,301.29 139.13,301.49 139.24,301.71 139.35,301.93 139.46,302.16 139.57,302.39 139.68,302.63 139.79,302.87 139.90,303.12 140.01,303.37 140.12,303.61 140.23,303.86 140.34,304.11 140.45,304.35 140.57,304.58 140.68,304.82 140.79,305.04 140.90,305.26 141.01,305.47 141.12,305.67 141.23,305.85 141.34,306.03 141.45,306.20 141.56,306.35 141.67,306.48 141.78,306.61 141.89,306.71 142.00,306.81 142.11,306.88 142.22,306.94 142.33,306.98 142.44,307.01 142.55,307.02 142.66,307.02 142.77,307.02 142.88,307.03 142.99,307.08 143.10,307.23 143.21,307.53 143.32,308.01 143.43,308.66 143.55,309.37 143.66,309.97 143.77,310.26 143.88,310.10 143.99,309.51 144.10,308.60 144.21,307.58 144.32,306.63 144.43,305.80 144.54,304.88 144.65,302.99 144.76,298.56 144.87,291.25 144.98,284.80 145.09,284.55 145.20,290.50 145.31,297.31 145.42,301.29 145.53,303.01 145.64,304.57 145.75,307.58 145.86,312.58 145.97,318.44 146.08,322.46 146.19,322.21 146.30,317.71 146.42,311.37 146.53,305.89 146.64,302.45 146.75,300.76 146.86,300.04 146.97,299.70 147.08,299.48 147.19,299.30 147.30,299.13 147.41,298.97 147.52,298.83 147.63,298.70 147.74,298.58 147.85,298.48 147.96,298.38 148.07,298.30 148.18,298.24 148.29,298.19 148.40,298.15 148.51,298.13 148.62,298.12 148.73,298.16 148.84,298.28 148.95,298.48 149.06,298.75 149.17,299.09 149.28,299.49 149.40,299.94 149.51,300.45 149.62,301.00 149.73,301.57 149.84,302.17 149.95,302.78 150.06,303.38 150.17,303.98 150.28,304.56 150.39,305.10 150.50,305.61 150.61,306.07 150.72,306.47 150.83,306.81 150.94,307.08 151.05,307.27 151.16,307.39 151.27,307.43 151.38,307.36 151.49,307.17 151.60,306.87 151.71,306.46 151.82,305.97 151.93,305.42 152.04,304.84 152.15,304.27 152.27,303.72 152.38,303.23 152.49,302.82 152.60,302.51 152.71,302.32 152.82,302.26 152.93,302.31 153.04,302.49 153.15,302.77 153.26,303.14 153.37,303.58 153.48,304.06 153.59,304.57 153.70,305.07 153.81,305.54 153.92,305.94 154.03,306.27 154.14,306.50 154.25,306.61 154.36,306.62 154.47,306.52 154.58,306.34 154.69,306.06 154.80,305.71 154.91,305.27 155.02,304.78 155.13,304.23 155.25,303.63 155.36,303.01 155.47,302.36 155.58,301.72 155.69,301.08 155.80,300.47 155.91,299.90 156.02,299.37 156.13,298.91 156.24,298.51 156.35,298.20 156.46,297.97 156.57,297.82 156.68,297.78 156.79,297.84 156.90,298.01 157.01,298.29 157.12,298.68 157.23,299.17 157.34,299.75 157.45,300.40 157.56,301.12 157.67,301.88 157.78,302.67 157.89,303.49 158.00,304.30 158.11,305.10 158.23,305.86 158.34,306.57 158.45,307.23 158.56,307.80 158.67,308.29 158.78,308.68 158.89,308.97 159.00,309.14 159.11,309.20 159.22,309.19 159.33,309.16 159.44,309.12 159.55,309.06 159.66,308.98 159.77,308.88 159.88,308.77 159.99,308.64 160.10,308.50 160.21,308.34 160.32,308.17 160.43,307.98 160.54,307.78 160.65,307.57 160.76,307.35 160.87,307.11 160.98,306.87 161.10,306.61 161.21,306.35 161.32,306.09 161.43,305.81 161.54,305.53 161.65,305.25 161.76,304.96 161.87,304.68 161.98,304.39 162.09,304.10 162.20,303.81 162.31,303.53 162.42,303.25 162.53,302.97 162.64,302.70 162.75,302.44 162.86,302.18 162.97,301.93 163.08,301.70 163.19,301.47 163.30,301.25 163.41,301.05 163.52,300.86 163.63,300.68 163.74,300.52 163.85,300.37 163.96,300.23 164.08,300.12 164.19,300.02 164.30,299.93 164.41,299.87 164.52,299.82 164.63,299.78 164.74,299.77 164.85,299.77 164.96,299.79 165.07,299.82 165.18,299.86 165.29,299.92 165.40,300.00 165.51,300.08 165.62,300.18 165.73,300.30 165.84,300.42 165.95,300.56 166.06,300.71 166.17,300.87 166.28,301.04 166.39,301.22 166.50,301.41 166.61,301.60 166.72,301.80 166.83,302.01 166.95,302.23 167.06,302.45 167.17,302.67 167.28,302.90 167.39,303.12 167.50,303.35 167.61,303.58 167.72,303.81 167.83,304.04 167.94,304.26 168.05,304.48 168.16,304.70 168.27,304.91 168.38,305.12 168.49,305.31 168.60,305.50 168.71,305.69 168.82,305.86 168.93,306.02 169.04,306.17 169.15,306.32 169.26,306.45 169.37,306.56 169.48,306.67 169.59,306.76 169.70,306.84 169.81,306.90 169.93,306.95 170.04,306.99 170.15,307.01 170.26,307.02 170.37,307.02 170.48,307.02 170.59,307.03 170.70,307.09 170.81,307.24 170.92,307.53 171.03,308.02 171.14,308.67 171.25,309.38 171.36,309.98 171.47,310.27 171.58,310.11 171.69,309.52 171.80,308.61 171.91,307.60 172.02,306.64 172.13,305.82 172.24,304.90 172.35,303.01 172.46,298.58 172.57,291.28 172.68,284.83 172.79,284.58 172.91,290.53 173.02,297.34 173.13,301.32 173.24,303.03 173.35,304.54 173.46,307.46 173.57,312.32 173.68,318.00 173.79,321.89 173.90,321.65 174.01,317.28 174.12,311.11 174.23,305.79 174.34,302.45 174.45,300.80 174.56,300.09 174.67,299.76 174.78,299.54 174.89,299.36 175.00,299.20 175.11,299.04 175.22,298.90 175.33,298.77 175.44,298.65 175.55,298.55 175.66,298.46 175.78,298.38 175.89,298.32 176.00,298.27 176.11,298.23 176.22,298.21 176.33,298.20 176.44,298.24 176.55,298.36 176.66,298.56 176.77,298.83 176.88,299.17 176.99,299.57 177.10,300.03 177.21,300.54 177.32,301.09 177.43,301.67 177.54,302.27 177.65,302.88 177.76,303.49 177.87,304.09 177.98,304.67 178.09,305.22 178.20,305.72 178.31,306.18 178.42,306.59 178.53,306.93 178.64,307.20 178.76,307.39 178.87,307.51 178.98,307.55 179.09,307.49 179.20,307.31 179.31,307.02 179.42,306.63 179.53,306.16 179.64,305.64 179.75,305.09 179.86,304.55 179.97,304.03 180.08,303.56 180.19,303.17 180.30,302.88 180.41,302.70 180.52,302.64 180.63,302.70 180.74,302.88 180.85,303.16 180.96,303.54 181.07,304.00 181.18,304.50 181.29,305.02 181.40,305.54 181.51,306.02 181.63,306.44 181.74,306.77 181.85,307.01 181.96,307.13 182.07,307.13 182.18,307.03 182.29,306.82 182.40,306.52 182.51,306.13 182.62,305.66 182.73,305.12 182.84,304.52 182.95,303.86 183.06,303.18 183.17,302.48 183.28,301.77 183.39,301.08 183.50,300.41 183.61,299.78 183.72,299.20 183.83,298.69 183.94,298.26 184.05,297.92 184.16,297.66 184.27,297.51 184.38,297.46 184.49,297.51 184.61,297.67 184.72,297.94 184.83,298.30 184.94,298.75 185.05,299.29 185.16,299.89 185.27,300.56 185.38,301.27 185.49,302.01 185.60,302.76 185.71,303.52 185.82,304.26 185.93,304.96 186.04,305.63 186.15,306.23 186.26,306.77 186.37,307.22 186.48,307.58 186.59,307.85 186.70,308.01 186.81,308.06 186.92,308.05 187.03,308.00 187.14,307.93 187.25,307.82 187.36,307.69 187.47,307.52 187.59,307.33 187.70,307.12 187.81,306.88 187.92,306.63 188.03,306.35 188.14,306.05 188.25,305.74 188.36,305.42 188.47,305.09 188.58,304.75 188.69,304.41 188.80,304.07 188.91,303.73 189.02,303.39 189.13,303.06 189.24,302.74 189.35,302.43 189.46,302.13 189.57,301.85 189.68,301.59 189.79,301.35 189.90,301.14 190.01,300.95 190.12,300.78 190.23,300.64 190.34,300.54 190.46,300.46 190.57,300.41 190.68,300.39 190.79,300.40 190.90,300.44 191.01,300.51 191.12,300.61 191.23,300.73 191.34,300.88 191.45,301.05 191.56,301.24 191.67,301.46 191.78,301.70 191.89,301.95 192.00,302.21 192.11,302.49 192.22,302.79 192.33,303.08 192.44,303.39 192.55,303.69 192.66,304.00 192.77,304.30 192.88,304.60 192.99,304.89 193.10,305.17 193.21,305.44 193.32,305.70 193.44,305.93 193.55,306.15 193.66,306.35 193.77,306.52 193.88,306.67 193.99,306.79 194.10,306.89 194.21,306.96 194.32,307.00 194.43,307.02 194.54,307.02 194.65,307.02 194.76,307.03 194.87,307.09 194.98,307.24 195.09,307.54 195.20,308.03 195.31,308.68 195.42,309.40 195.53,310.00 195.64,310.30 195.75,310.15 195.86,309.56 195.97,308.66 196.08,307.65 196.19,306.71 196.31,305.89 196.42,304.98 196.53,303.10 196.64,298.68 196.75,291.38 196.86,284.94 196.97,284.70 197.08,290.67 197.19,297.48 197.30,301.47 197.41,303.15 197.52,304.59 197.63,307.33 197.74,311.89 197.85,317.23 197.96,320.88 198.07,320.65 198.18,316.53 198.29,310.73 198.40,305.72 198.51,302.57 198.62,301.02 198.73,300.35 198.84,300.03 198.95,299.83 199.06,299.65 199.17,299.49 199.29,299.35 199.40,299.21 199.51,299.08 199.62,298.97 199.73,298.87 199.84,298.78 199.95,298.71 200.06,298.65 200.17,298.60 200.28,298.56 200.39,298.54 200.50,298.54 200.61,298.57 200.72,298.67 200.83,298.84 200.94,299.08 201.05,299.37 201.16,299.72 201.27,300.12 201.38,300.56 201.49,301.03 201.60,301.54 201.71,302.05 201.82,302.58 201.93,303.11 202.04,303.63 202.15,304.13 202.27,304.61 202.38,305.05 202.49,305.44 202.60,305.79 202.71,306.09 202.82,306.32 202.93,306.49 203.04,306.60 203.15,306.63 203.26,306.58 203.37,306.42 203.48,306.16 203.59,305.82 203.70,305.41 203.81,304.96 203.92,304.48 204.03,304.01 204.14,303.55 204.25,303.14 204.36,302.80 204.47,302.55 204.58,302.39 204.69,302.34 204.80,302.40 204.91,302.58 205.02,302.87 205.14,303.25 205.25,303.70 205.36,304.21 205.47,304.73 205.58,305.25 205.69,305.73 205.80,306.15 205.91,306.49 206.02,306.72 206.13,306.84 206.24,306.85 206.35,306.76 206.46,306.59 206.57,306.34 206.68,306.02 206.79,305.62 206.90,305.17 207.01,304.66 207.12,304.12 207.23,303.54 207.34,302.95 207.45,302.36 207.56,301.78 207.67,301.22 207.78,300.70 207.89,300.21 208.00,299.79 208.12,299.43 208.23,299.14 208.34,298.93 208.45,298.80 208.56,298.75 208.67,298.80 208.78,298.95 208.89,299.19 209.00,299.52 209.11,299.93 209.22,300.42 209.33,300.97 209.44,301.57 209.55,302.21 209.66,302.88 209.77,303.57 209.88,304.26 209.99,304.93 210.10,305.57 210.21,306.17 210.32,306.72 210.43,307.21 210.54,307.62 210.65,307.95 210.76,308.19 210.87,308.34 210.99,308.39 211.10,308.37 211.21,308.31 211.32,308.21 211.43,308.08 211.54,307.91 211.65,307.71 211.76,307.48 211.87,307.21 211.98,306.92 212.09,306.61 212.20,306.27 212.31,305.92 212.42,305.55 212.53,305.17 212.64,304.79 212.75,304.41 212.86,304.02 212.97,303.64 213.08,303.27 213.19,302.92 213.30,302.58 213.41,302.26 213.52,301.96 213.63,301.69 213.74,301.45 213.85,301.23 213.97,301.06 214.08,300.91 214.19,300.81 214.30,300.74 214.41,300.71 214.52,300.72 214.63,300.76 214.74,300.84 214.85,300.95 214.96,301.08 215.07,301.25 215.18,301.45 215.29,301.68 215.40,301.92 215.51,302.19 215.62,302.48 215.73,302.78 215.84,303.09 215.95,303.41 216.06,303.74 216.17,304.07 216.28,304.39 216.39,304.71 216.50,305.02 216.61,305.32 216.72,305.60 216.83,305.87 216.95,306.11 217.06,306.33 217.17,306.52 217.28,306.68 217.39,306.81 217.50,306.91 217.61,306.98 217.72,307.01 217.83,307.02 217.94,307.02 218.05,307.02 218.16,307.04 218.27,307.13 218.38,307.35 218.49,307.73 218.60,308.30 218.71,308.99 218.82,309.66 218.93,310.12 219.04,310.18 219.15,309.79 219.26,309.00 219.37,308.00 219.48,306.98 219.59,306.08 219.70,305.24 219.82,303.93 219.93,300.73 220.04,294.19 220.15,285.95 220.26,281.81 220.37,285.42 220.48,293.12 220.59,299.13 220.70,301.89 220.81,303.15 220.92,304.85 221.03,308.06 221.14,312.62 221.25,316.87 221.36,318.49 221.47,316.35 221.58,311.58 221.69,306.52 221.80,302.82 221.91,300.76 222.02,299.80 222.13,299.36 222.24,299.10 222.35,298.89 222.46,298.71 222.57,298.54 222.68,298.38 222.80,298.23 222.91,298.10 223.02,297.98 223.13,297.87 223.24,297.78 223.35,297.71 223.46,297.65 223.57,297.60 223.68,297.57 223.79,297.55 223.90,297.56 224.01,297.64 224.12,297.80 224.23,298.03 224.34,298.33 224.45,298.70 224.56,299.12 224.67,299.60 224.78,300.13 224.89,300.68 225.00,301.27 225.11,301.87 225.22,302.47 225.33,303.07 225.44,303.65 225.55,304.21 225.67,304.73 225.78,305.21 225.89,305.64 226.00,306.00 226.11,306.31 226.22,306.54 226.33,306.69 226.44,306.77 226.55,306.77 226.66,306.66 226.77,306.45 226.88,306.14 226.99,305.75 227.10,305.31 227.21,304.83 227.32,304.34 227.43,303.86 227.54,303.41 227.65,303.03 227.76,302.72 227.87,302.51 227.98,302.40 228.09,302.40 228.20,302.54 228.31,302.80 228.42,303.18 228.53,303.65 228.65,304.19 228.76,304.77 228.87,305.35 228.98,305.92 229.09,306.43 229.20,306.85 229.31,307.18 229.42,307.38 229.53,307.45 229.64,307.40 229.75,307.27 229.86,307.05 229.97,306.75 230.08,306.38 230.19,305.94 230.30,305.44 230.41,304.90 230.52,304.32 230.63,303.72 230.74,303.11 230.85,302.50 230.96,301.91 231.07,301.35 231.18,300.83 231.29,300.36 231.40,299.95 231.52,299.62 231.63,299.36 231.74,299.18 231.85,299.09 231.96,299.09 232.07,299.19 232.18,299.37 232.29,299.64 232.40,300.00 232.51,300.43 232.62,300.92 232.73,301.47 232.84,302.07 232.95,302.70 233.06,303.34 233.17,304.00 233.28,304.65 233.39,305.27 233.50,305.87 233.61,306.42 233.72,306.92 233.83,307.34 233.94,307.70 234.05,307.97 234.16,308.16 234.27,308.25 234.38,308.25 234.50,308.21 234.61,308.13 234.72,308.00 234.83,307.83 234.94,307.62 235.05,307.38 235.16,307.10 235.27,306.79 235.38,306.46 235.49,306.09 235.60,305.71 235.71,305.31 235.82,304.90 235.93,304.48 236.04,304.05 236.15,303.63 236.26,303.20 236.37,302.79 236.48,302.39 236.59,302.01 236.70,301.65 236.81,301.31 236.92,301.00 237.03,300.72 237.14,300.48 237.25,300.27 237.36,300.10 237.48,299.98 237.59,299.89 237.70,299.85 237.81,299.84 237.92,299.88 238.03,299.96 238.14,300.08 238.25,300.23 238.36,300.42 238.47,300.64 238.58,300.89 238.69,301.17 238.80,301.47 238.91,301.80 239.02,302.14 239.13,302.50 239.24,302.87 239.35,303.24 239.46,303.62 239.57,303.99 239.68,304.36 239.79,304.71 239.90,305.06 240.01,305.38 240.12,305.69 240.23,305.97 240.35,306.22 240.46,306.44 240.57,306.63 240.68,306.78 240.79,306.90 240.90,306.97 241.01,307.01 241.12,307.02 241.23,307.02 241.34,307.02 241.45,307.05 241.56,307.14 241.67,307.36 241.78,307.74 241.89,308.31 242.00,309.01 242.11,309.68 242.22,310.15 242.33,310.22 242.44,309.83 242.55,309.05 242.66,308.06 242.77,307.05 242.88,306.15 242.99,305.31 243.10,303.94 243.21,300.54 243.33,293.52 243.44,284.67 243.55,280.24 243.66,284.16 243.77,292.49 243.88,299.00 243.99,301.99 244.10,303.31 244.21,305.04 244.32,308.26 244.43,312.83 244.54,317.09 244.65,318.71 244.76,316.59 244.87,311.83 244.98,306.77 245.09,303.08 245.20,301.03 245.31,300.08 245.42,299.65 245.53,299.39 245.64,299.20 245.75,299.02 245.86,298.85 245.97,298.70 246.08,298.56 246.20,298.43 246.31,298.32 246.42,298.22 246.53,298.13 246.64,298.06 246.75,298.00 246.86,297.95 246.97,297.92 247.08,297.91 247.19,297.92 247.30,297.99 247.41,298.14 247.52,298.36 247.63,298.64 247.74,298.99 247.85,299.40 247.96,299.85 248.07,300.35 248.18,300.88 248.29,301.43 248.40,302.00 248.51,302.57 248.62,303.14 248.73,303.69 248.84,304.22 248.95,304.72 249.06,305.17 249.18,305.58 249.29,305.93 249.40,306.21 249.51,306.43 249.62,306.58 249.73,306.66 249.84,306.65 249.95,306.55 250.06,306.34 250.17,306.04 250.28,305.67 250.39,305.24 250.50,304.78 250.61,304.30 250.72,303.84 250.83,303.41 250.94,303.03 251.05,302.74 251.16,302.53 251.27,302.42 251.38,302.43 251.49,302.56 251.60,302.82 251.71,303.19 251.82,303.66 251.93,304.19 252.04,304.76 252.16,305.34 252.27,305.90 252.38,306.40 252.49,306.82 252.60,307.14 252.71,307.34 252.82,307.40 252.93,307.35 253.04,307.21 253.15,306.97 253.26,306.64 253.37,306.23 253.48,305.75 253.59,305.21 253.70,304.62 253.81,303.98 253.92,303.33 254.03,302.66 254.14,302.00 254.25,301.35 254.36,300.73 254.47,300.16 254.58,299.65 254.69,299.21 254.80,298.84 254.91,298.55 255.03,298.36 255.14,298.26 255.25,298.27 255.36,298.38 255.47,298.59 255.58,298.92 255.69,299.34 255.80,299.84 255.91,300.43 256.02,301.08 256.13,301.79 256.24,302.53 256.35,303.30 256.46,304.08 256.57,304.84 256.68,305.59 256.79,306.29 256.90,306.95 257.01,307.53 257.12,308.04 257.23,308.46 257.34,308.78 257.45,309.00 257.56,309.11 257.67,309.12 257.78,309.07 257.89,308.96 258.01,308.80 258.12,308.60 258.23,308.35 258.34,308.05 258.45,307.72 258.56,307.35 258.67,306.94 258.78,306.51 258.89,306.06 259.00,305.59 259.11,305.10 259.22,304.61 259.33,304.12 259.44,303.64 259.55,303.16 259.66,302.70 259.77,302.27 259.88,301.85 259.99,301.47 260.10,301.13 260.21,300.83 260.32,300.56 260.43,300.35 260.54,300.18 260.65,300.07 260.76,300.00 260.88,299.99 260.99,300.02 261.10,300.10 261.21,300.22 261.32,300.38 261.43,300.57 261.54,300.81 261.65,301.07 261.76,301.37 261.87,301.69 261.98,302.04 262.09,302.40 262.20,302.78 262.31,303.16 262.42,303.55 262.53,303.94 262.64,304.33 262.75,304.70 262.86,305.06 262.97,305.40 263.08,305.72 263.19,306.01 263.30,306.26 263.41,306.49 263.52,306.68 263.63,306.82 263.74,306.93 263.86,307.00 263.97,307.02 264.08,307.02 264.19,307.01 264.30,307.02 264.41,307.07 264.52,307.21 264.63,307.49 264.74,307.96 264.85,308.59 264.96,309.29 265.07,309.87 265.18,310.13 265.29,309.96 265.40,309.34 265.51,308.40 265.62,307.36 265.73,306.37 265.84,305.51 265.95,304.50 266.06,302.33 266.17,297.18 266.28,288.65 266.39,281.12 266.50,280.83 266.61,287.79 266.72,295.74 266.84,300.35 266.95,302.18 267.06,303.48 267.17,305.85 267.28,309.83 267.39,314.49 267.50,317.67 267.61,317.39 267.72,313.66 267.83,308.43 267.94,303.91 268.05,301.05 268.16,299.61 268.27,298.95 268.38,298.61 268.49,298.37 268.60,298.16 268.71,297.97 268.82,297.79 268.93,297.63 269.04,297.48 269.15,297.34 269.26,297.22 269.37,297.12 269.48,297.03 269.59,296.95 269.71,296.90 269.82,296.85 269.93,296.83 270.04,296.82 270.15,296.86 270.26,296.99 270.37,297.20 270.48,297.49 270.59,297.85 270.70,298.28 270.81,298.77 270.92,299.31 271.03,299.89 271.14,300.51 271.25,301.15 271.36,301.80 271.47,302.45 271.58,303.08 271.69,303.70 271.80,304.28 271.91,304.82 272.02,305.31 272.13,305.74 272.24,306.10 272.35,306.39 272.46,306.60 272.57,306.73 272.69,306.77 272.80,306.72 272.91,306.57 273.02,306.32 273.13,305.99 273.24,305.60 273.35,305.16 273.46,304.69 273.57,304.23 273.68,303.79 273.79,303.40 273.90,303.07 274.01,302.82 274.12,302.67 274.23,302.62 274.34,302.68 274.45,302.88 274.56,303.20 274.67,303.62 274.78,304.11 274.89,304.67 275.00,305.24 275.11,305.81 275.22,306.34 275.33,306.80 275.44,307.17 275.56,307.43 275.67,307.56 275.78,307.56 275.89,307.47 276.00,307.27 276.11,306.99 276.22,306.63 276.33,306.18 276.44,305.67 276.55,305.11 276.66,304.50 276.77,303.86 276.88,303.20 276.99,302.53 277.10,301.88 277.21,301.25 277.32,300.66 277.43,300.12 277.54,299.65 277.65,299.24 277.76,298.92 277.87,298.68 277.98,298.54 278.09,298.49 278.20,298.54 278.31,298.68 278.42,298.91 278.54,299.23 278.65,299.63 278.76,300.10 278.87,300.64 278.98,301.23 279.09,301.85 279.20,302.50 279.31,303.17 279.42,303.84 279.53,304.49 279.64,305.12 279.75,305.70 279.86,306.24 279.97,306.71 280.08,307.11 280.19,307.43 280.30,307.67 280.41,307.81 280.52,307.86 280.63,307.82 280.74,307.71 280.85,307.54 280.96,307.29 281.07,306.99 281.18,306.62 281.29,306.21 281.40,305.76 281.52,305.26 281.63,304.74 281.74,304.21 281.85,303.66 281.96,303.11 282.07,302.58 282.18,302.06 282.29,301.57 282.40,301.12 282.51,300.71 282.62,300.36 282.73,300.06 282.84,299.82 282.95,299.65 283.06,299.55 283.17,299.52 283.28,299.57 283.39,299.68 283.50,299.85 283.61,300.09 283.72,300.39 283.83,300.74 283.94,301.14 284.05,301.58 284.16,302.05 284.27,302.54 284.39,303.04 284.50,303.55 284.61,304.06 284.72,304.55 284.83,305.01 284.94,305.45 285.05,305.84 285.16,306.18 285.27,306.48 285.38,306.71 285.49,306.88 285.60,306.98 285.71,307.02 285.82,307.02 285.93,307.02 286.04,307.03 286.15,307.08 286.26,307.23 286.37,307.53 286.48,308.01 286.59,308.66 286.70,309.37 286.81,309.97 286.92,310.25 287.03,310.10 287.14,309.50 287.25,308.59 287.37,307.57 287.48,306.61 287.59,305.79 287.70,304.90 287.81,303.14 287.92,299.10 288.03,292.44 288.14,286.57 288.25,286.32 288.36,291.69 288.47,297.83 288.58,301.43 288.69,302.99 288.80,304.47 288.91,307.38 289.02,312.23 289.13,317.91 289.24,321.80 289.35,321.56 289.46,317.17 289.57,311.01 289.68,305.68 289.79,302.33 289.90,300.69 290.01,299.97 290.12,299.64 290.24,299.42 290.35,299.23 290.46,299.07 290.57,298.91 290.68,298.76 290.79,298.63 290.90,298.51 291.01,298.41 291.12,298.31 291.23,298.23 291.34,298.17 291.45,298.12 291.56,298.08 291.67,298.06 291.78,298.05 291.89,298.09 292.00,298.21 292.11,298.41 292.22,298.69 292.33,299.03 292.44,299.44 292.55,299.90 292.66,300.42 292.77,300.97 292.88,301.56 292.99,302.16 293.10,302.78 293.22,303.40 293.33,304.00 293.44,304.59 293.55,305.14 293.66,305.66 293.77,306.12 293.88,306.53 293.99,306.87 294.10,307.15 294.21,307.35 294.32,307.47 294.43,307.51 294.54,307.44 294.65,307.25 294.76,306.94 294.87,306.53 294.98,306.04 295.09,305.49 295.20,304.91 295.31,304.33 295.42,303.78 295.53,303.29 295.64,302.88 295.75,302.57 295.86,302.38 295.97,302.31 296.08,302.38 296.20,302.60 296.31,302.94 296.42,303.39 296.53,303.93 296.64,304.52 296.75,305.14 296.86,305.76 296.97,306.33 297.08,306.83 297.19,307.23 297.30,307.50 297.41,307.65 297.52,307.65 297.63,307.55 297.74,307.35 297.85,307.05 297.96,306.66 298.07,306.19 298.18,305.65 298.29,305.05 298.40,304.40 298.51,303.72 298.62,303.02 298.73,302.32 298.84,301.63 298.95,300.97 299.07,300.34 299.18,299.77 299.29,299.26 299.40,298.83 299.51,298.49 299.62,298.24 299.73,298.08 299.84,298.03 299.95,298.09 300.06,298.25 300.17,298.52 300.28,298.89 300.39,299.35 300.50,299.89" fill="none" stroke="#0072BD" stroke-width="0.62" stroke-linejoin="round"/>
<path d="M47.24 304.12V280.18M70.59 304.12V280.18M93.21 304.12V280.18M118.27 304.12V280.18M145.04 304.12V280.18M172.74 304.12V280.18M196.91 304.12V280.18M220.26 304.12V280.18M243.55 304.12V280.18M266.45 304.12V280.18M288.19 304.12V280.18" stroke="#e0002a" stroke-width="0.6" fill="none"/>
<path d="M23.36 304.12H301.70" stroke="#ff0000" stroke-width="7.8" fill="none"/>
<path d="M44.14 280.18L50.34 280.18M45.23 278.16L49.26 282.20M47.24 277.08L47.24 283.28M49.26 278.16L45.23 282.20M67.49 280.18L73.69 280.18M68.57 278.16L72.60 282.20M70.59 277.08L70.59 283.28M72.60 278.16L68.57 282.20M90.11 280.18L96.31 280.18M91.20 278.16L95.23 282.20M93.21 277.08L93.21 283.28M95.23 278.16L91.20 282.20M115.17 280.18L121.37 280.18M116.25 278.16L120.29 282.20M118.27 277.08L118.27 283.28M120.29 278.16L116.25 282.20M141.94 280.18L148.14 280.18M143.02 278.16L147.05 282.20M145.04 277.08L145.04 283.28M147.05 278.16L143.02 282.20M169.64 280.18L175.84 280.18M170.72 278.16L174.76 282.20M172.74 277.08L172.74 283.28M174.76 278.16L170.72 282.20M193.81 280.18L200.01 280.18M194.90 278.16L198.93 282.20M196.91 277.08L196.91 283.28M198.93 278.16L194.90 282.20M217.16 280.18L223.36 280.18M218.24 278.16L222.27 282.20M220.26 277.08L220.26 283.28M222.27 278.16L218.24 282.20M240.45 280.18L246.65 280.18M241.53 278.16L245.56 282.20M243.55 277.08L243.55 283.28M245.56 278.16L241.53 282.20M263.35 280.18L269.55 280.18M264.43 278.16L268.47 282.20M266.45 277.08L266.45 283.28M268.47 278.16L264.43 282.20M285.09 280.18L291.29 280.18M286.18 278.16L290.21 282.20M288.19 277.08L288.19 283.28M290.21 278.16L286.18 282.20M21.36 304.12L27.36 304.12M22.41 302.17L26.31 306.08M24.36 301.12L24.36 307.12M26.31 302.17L22.41 306.08M297.70 304.12L303.70 304.12M298.75 302.17L302.65 306.08M300.70 301.12L300.70 307.12M302.65 302.17L298.75 306.08" stroke="#ff0000" stroke-width="0.8" fill="none"/>
<rect x="397.56" y="49.64" width="278.84" height="62.66" fill="#fff" stroke="#6e6e6e" stroke-width="1"/>
<text transform="translate(397.56 126.67) scale(0.720 1)" font-size="10" text-anchor="middle" font-weight="normal" fill="#333333">0</text>
<text transform="translate(425.44 126.67) scale(0.720 1)" font-size="10" text-anchor="middle" font-weight="normal" fill="#333333">500</text>
<text transform="translate(453.33 126.67) scale(0.720 1)" font-size="10" text-anchor="middle" font-weight="normal" fill="#333333">1000</text>
<text transform="translate(481.21 126.67) scale(0.720 1)" font-size="10" text-anchor="middle" font-weight="normal" fill="#333333">1500</text>
<text transform="translate(509.10 126.67) scale(0.720 1)" font-size="10" text-anchor="middle" font-weight="normal" fill="#333333">2000</text>
<text transform="translate(536.98 126.67) scale(0.720 1)" font-size="10" text-anchor="middle" font-weight="normal" fill="#333333">2500</text>
<text transform="translate(564.86 126.67) scale(0.720 1)" font-size="10" text-anchor="middle" font-weight="normal" fill="#333333">3000</text>
<text transform="translate(592.75 126.67) scale(0.720 1)" font-size="10" text-anchor="middle" font-weight="normal" fill="#333333">3500</text>
<text transform="translate(620.63 126.67) scale(0.720 1)" font-size="10" text-anchor="middle" font-weight="normal" fill="#333333">4000</text>
<text transform="translate(648.52 126.67) scale(0.720 1)" font-size="10" text-anchor="middle" font-weight="normal" fill="#333333">4500</text>
<text transform="translate(676.40 126.67) scale(0.720 1)" font-size="10" text-anchor="middle" font-weight="normal" fill="#333333">5000</text>
<text transform="translate(395.11 117.05) scale(0.720 1)" font-size="10" text-anchor="end" font-weight="normal" fill="#333333">-0.5</text>
<text transform="translate(395.11 85.72) scale(0.720 1)" font-size="10" text-anchor="end" font-weight="normal" fill="#333333">0</text>
<text transform="translate(395.11 54.39) scale(0.720 1)" font-size="10" text-anchor="end" font-weight="normal" fill="#333333">0.5</text>
<path d="M425.44 112.30v-3.20M425.44 49.64v3.20M453.33 112.30v-3.20M453.33 49.64v3.20M481.21 112.30v-3.20M481.21 49.64v3.20M509.10 112.30v-3.20M509.10 49.64v3.20M536.98 112.30v-3.20M536.98 49.64v3.20M564.86 112.30v-3.20M564.86 49.64v3.20M592.75 112.30v-3.20M592.75 49.64v3.20M620.63 112.30v-3.20M620.63 49.64v3.20M648.52 112.30v-3.20M648.52 49.64v3.20M397.56 80.97h3.20M676.40 80.97h-3.20" stroke="#8a8a8a" stroke-width="0.9" fill="none"/>
<text transform="translate(536.98 45.34) scale(0.720 1)" font-size="11" text-anchor="middle" font-weight="bold" fill="#000">apply low frequency</text>
<text transform="translate(536.98 140.57) scale(0.720 1)" font-size="11" text-anchor="middle" font-weight="normal" fill="#333333">sample</text>
<text transform="translate(379.16 80.97) scale(0.700 1) rotate(-90)" font-size="11.3" text-anchor="middle" font-weight="normal" fill="#333333">Voltage(mv)</text>
<polyline points="397.56,80.97 397.67,80.97 397.78,80.97 397.89,80.97 398.01,80.96 398.12,80.96 398.23,80.94 398.34,80.91 398.45,80.87 398.56,80.79 398.68,80.68 398.79,80.51 398.90,80.28 399.01,79.97 399.12,79.58 399.23,79.10 399.34,78.53 399.46,77.88 399.57,77.16 399.68,76.39 399.79,75.57 399.90,74.73 400.01,73.88 400.13,73.03 400.24,72.19 400.35,71.36 400.46,70.56 400.57,69.78 400.68,69.04 400.79,68.32 400.91,67.64 401.02,67.00 401.13,66.41 401.24,65.87 401.35,65.39 401.46,64.99 401.58,64.66 401.69,64.42 401.80,64.27 401.91,64.23 402.02,64.28 402.13,64.50 402.24,64.93 402.36,65.55 402.47,66.36 402.58,67.33 402.69,68.44 402.80,69.65 402.91,70.93 403.03,72.25 403.14,73.58 403.25,74.90 403.36,76.17 403.47,77.39 403.58,78.54 403.69,79.61 403.81,80.59 403.92,81.47 404.03,82.27 404.14,82.97 404.25,83.59 404.36,84.12 404.48,84.56 404.59,84.93 404.70,85.22 404.81,85.45 404.92,85.61 405.03,85.72 405.14,85.79 405.26,85.82 405.37,85.82 405.48,85.80 405.59,85.77 405.70,85.73 405.81,85.69 405.93,85.65 406.04,85.61 406.15,85.56 406.26,85.52 406.37,85.47 406.48,85.42 406.59,85.37 406.71,85.31 406.82,85.24 406.93,85.17 407.04,85.10 407.15,85.02 407.26,84.95 407.38,84.87 407.49,84.80 407.60,84.73 407.71,84.67 407.82,84.63 407.93,84.59 408.04,84.56 408.16,84.55 408.27,84.55 408.38,84.56 408.49,84.59 408.60,84.62 408.71,84.67 408.83,84.73 408.94,84.80 409.05,84.88 409.16,84.96 409.27,85.04 409.38,85.12 409.49,85.21 409.61,85.29 409.72,85.36 409.83,85.43 409.94,85.50 410.05,85.55 410.16,85.60 410.28,85.64 410.39,85.67 410.50,85.68 410.61,85.69 410.72,85.69 410.83,85.68 410.94,85.66 411.06,85.63 411.17,85.59 411.28,85.55 411.39,85.49 411.50,85.43 411.61,85.35 411.73,85.26 411.84,85.14 411.95,84.99 412.06,84.80 412.17,84.55 412.28,84.26 412.39,83.91 412.51,83.50 412.62,83.05 412.73,82.59 412.84,82.13 412.95,81.71 413.06,81.37 413.18,81.14 413.29,81.04 413.40,81.08 413.51,81.27 413.62,81.59 413.73,82.02 413.84,82.53 413.96,83.08 414.07,83.65 414.18,84.21 414.29,84.74 414.40,85.23 414.51,85.68 414.63,86.07 414.74,86.40 414.85,86.66 414.96,86.83 415.07,86.92 415.18,86.91 415.29,86.83 415.41,86.67 415.52,86.47 415.63,86.25 415.74,86.03 415.85,85.83 415.96,85.67 416.07,85.57 416.19,85.57 416.30,85.70 416.41,85.99 416.52,86.40 416.63,86.83 416.74,87.11 416.86,87.11 416.97,86.74 417.08,85.68 417.19,82.87 417.30,76.70 417.41,67.46 417.52,59.89 417.64,59.89 417.75,67.44 417.86,76.56 417.97,82.55 418.08,85.31 418.19,86.88 418.31,88.96 418.42,92.15 418.53,95.83 418.64,98.39 418.75,98.37 418.86,95.77 418.97,92.04 419.09,88.78 419.20,86.60 419.31,85.14 419.42,83.64 419.53,81.57 419.64,79.03 419.76,76.80 419.87,75.87 419.98,76.76 420.09,79.08 420.20,81.91 420.31,84.37 420.42,85.77 420.54,85.69 420.65,84.11 420.76,81.50 420.87,78.72 420.98,76.83 421.09,76.67 421.21,78.16 421.32,80.45 421.43,82.55 421.54,83.72 421.65,83.66 421.76,82.66 421.87,81.38 421.99,80.22 422.10,79.25 422.21,78.46 422.32,77.87 422.43,77.45 422.54,77.15 422.66,76.89 422.77,76.58 422.88,76.14 422.99,75.55 423.10,74.81 423.21,73.95 423.32,73.00 423.44,72.01 423.55,71.00 423.66,70.00 423.77,69.02 423.88,68.10 423.99,67.24 424.11,66.45 424.22,65.76 424.33,65.17 424.44,64.69 424.55,64.33 424.66,64.09 424.77,63.99 424.89,64.03 425.00,64.30 425.11,64.80 425.22,65.52 425.33,66.43 425.44,67.50 425.56,68.71 425.67,70.01 425.78,71.38 425.89,72.78 426.00,74.17 426.11,75.54 426.22,76.86 426.34,78.11 426.45,79.27 426.56,80.34 426.67,81.31 426.78,82.17 426.89,82.93 427.01,83.59 427.12,84.15 427.23,84.62 427.34,84.99 427.45,85.28 427.56,85.49 427.67,85.63 427.79,85.71 427.90,85.74 428.01,85.72 428.12,85.68 428.23,85.62 428.34,85.55 428.46,85.47 428.57,85.40 428.68,85.34 428.79,85.29 428.90,85.24 429.01,85.21 429.12,85.18 429.24,85.17 429.35,85.15 429.46,85.14 429.57,85.13 429.68,85.12 429.79,85.11 429.91,85.09 430.02,85.08 430.13,85.06 430.24,85.04 430.35,85.01 430.46,84.99 430.57,84.96 430.69,84.94 430.80,84.91 430.91,84.89 431.02,84.87 431.13,84.86 431.24,84.84 431.36,84.83 431.47,84.83 431.58,84.83 431.69,84.84 431.80,84.85 431.91,84.86 432.02,84.89 432.14,84.92 432.25,84.95 432.36,84.99 432.47,85.03 432.58,85.08 432.69,85.13 432.81,85.18 432.92,85.24 433.03,85.30 433.14,85.35 433.25,85.41 433.36,85.46 433.47,85.50 433.59,85.53 433.70,85.55 433.81,85.55 433.92,85.51 434.03,85.44 434.14,85.31 434.26,85.13 434.37,84.89 434.48,84.57 434.59,84.18 434.70,83.72 434.81,83.23 434.92,82.71 435.04,82.20 435.15,81.75 435.26,81.38 435.37,81.13 435.48,81.01 435.59,81.05 435.71,81.23 435.82,81.53 435.93,81.94 436.04,82.41 436.15,82.93 436.26,83.47 436.37,84.00 436.49,84.51 436.60,84.99 436.71,85.44 436.82,85.85 436.93,86.20 437.04,86.48 437.16,86.68 437.27,86.81 437.38,86.84 437.49,86.80 437.60,86.71 437.71,86.57 437.82,86.42 437.94,86.27 438.05,86.14 438.16,86.05 438.27,86.02 438.38,86.10 438.49,86.30 438.61,86.64 438.72,87.05 438.83,87.37 438.94,87.47 439.05,87.23 439.16,86.52 439.27,84.69 439.39,80.29 439.50,72.21 439.61,62.89 439.72,58.52 439.83,62.73 439.94,71.84 440.06,79.64 440.17,83.79 440.28,85.72 440.39,87.52 440.50,90.40 440.61,94.36 440.72,98.06 440.84,99.63 440.95,98.13 441.06,94.49 441.17,90.57 441.28,87.69 441.39,85.91 441.51,84.55 441.62,82.86 441.73,80.58 441.84,78.13 441.95,76.50 442.06,76.52 442.17,78.25 442.29,80.97 442.40,83.71 442.51,85.70 442.62,86.36 442.73,85.47 442.84,83.24 442.96,80.35 443.07,77.81 443.18,76.64 443.29,77.29 443.40,79.23 443.51,81.45 443.62,83.06 443.74,83.55 443.85,82.87 443.96,81.60 444.07,80.30 444.18,79.20 444.29,78.30 444.41,77.60 444.52,77.10 444.63,76.77 444.74,76.54 444.85,76.30 444.96,75.98 445.07,75.53 445.19,74.93 445.30,74.19 445.41,73.36 445.52,72.45 445.63,71.51 445.74,70.56 445.86,69.62 445.97,68.71 446.08,67.84 446.19,67.03 446.30,66.29 446.41,65.63 446.52,65.07 446.64,64.61 446.75,64.27 446.86,64.04 446.97,63.93 447.08,64.01 447.19,64.32 447.31,64.85 447.42,65.59 447.53,66.52 447.64,67.60 447.75,68.81 447.86,70.11 447.97,71.46 448.09,72.85 448.20,74.23 448.31,75.59 448.42,76.90 448.53,78.14 448.64,79.31 448.76,80.39 448.87,81.38 448.98,82.28 449.09,83.07 449.20,83.77 449.31,84.37 449.42,84.88 449.54,85.30 449.65,85.63 449.76,85.88 449.87,86.05 449.98,86.15 450.09,86.19 450.20,86.18 450.32,86.13 450.43,86.05 450.54,85.95 450.65,85.84 450.76,85.72 450.87,85.60 450.99,85.48 451.10,85.37 451.21,85.25 451.32,85.15 451.43,85.05 451.54,84.96 451.65,84.87 451.77,84.79 451.88,84.73 451.99,84.67 452.10,84.62 452.21,84.59 452.32,84.57 452.44,84.56 452.55,84.56 452.66,84.58 452.77,84.61 452.88,84.65 452.99,84.70 453.10,84.76 453.22,84.83 453.33,84.90 453.44,84.97 453.55,85.04 453.66,85.11 453.77,85.18 453.89,85.24 454.00,85.30 454.11,85.34 454.22,85.38 454.33,85.41 454.44,85.43 454.55,85.44 454.67,85.43 454.78,85.42 454.89,85.41 455.00,85.38 455.11,85.34 455.22,85.29 455.34,85.23 455.45,85.15 455.56,85.05 455.67,84.91 455.78,84.74 455.89,84.51 456.00,84.23 456.12,83.89 456.23,83.50 456.34,83.07 456.45,82.62 456.56,82.17 456.67,81.76 456.79,81.43 456.90,81.20 457.01,81.10 457.12,81.15 457.23,81.34 457.34,81.66 457.45,82.08 457.57,82.58 457.68,83.12 457.79,83.68 457.90,84.23 458.01,84.75 458.12,85.23 458.24,85.66 458.35,86.04 458.46,86.36 458.57,86.61 458.68,86.78 458.79,86.86 458.90,86.85 459.02,86.76 459.13,86.61 459.24,86.41 459.35,86.19 459.46,85.97 459.57,85.78 459.69,85.63 459.80,85.54 459.91,85.55 460.02,85.69 460.13,85.99 460.24,86.42 460.35,86.85 460.47,87.14 460.58,87.16 460.69,86.81 460.80,85.83 460.91,83.31 461.02,77.83 461.14,69.65 461.25,62.96 461.36,62.95 461.47,69.61 461.58,77.67 461.69,82.95 461.80,85.37 461.92,86.73 462.03,88.50 462.14,91.21 462.25,94.35 462.36,96.53 462.47,96.50 462.59,94.26 462.70,91.06 462.81,88.25 462.92,86.35 463.03,85.01 463.14,83.55 463.25,81.50 463.37,78.97 463.48,76.74 463.59,75.83 463.70,76.73 463.81,79.06 463.92,81.90 464.04,84.36 464.15,85.77 464.26,85.70 464.37,84.14 464.48,81.54 464.59,78.76 464.70,76.88 464.82,76.72 464.93,78.21 465.04,80.50 465.15,82.59 465.26,83.76 465.37,83.69 465.49,82.68 465.60,81.38 465.71,80.21 465.82,79.22 465.93,78.41 466.04,77.79 466.15,77.35 466.27,77.04 466.38,76.76 466.49,76.42 466.60,75.96 466.71,75.35 466.82,74.59 466.94,73.71 467.05,72.75 467.16,71.75 467.27,70.72 467.38,69.71 467.49,68.74 467.60,67.81 467.72,66.94 467.83,66.16 467.94,65.46 468.05,64.87 468.16,64.40 468.27,64.05 468.39,63.82 468.50,63.72 468.61,63.77 468.72,64.05 468.83,64.56 468.94,65.29 469.05,66.21 469.17,67.30 469.28,68.52 469.39,69.83 469.50,71.21 469.61,72.62 469.72,74.03 469.84,75.41 469.95,76.74 470.06,77.99 470.17,79.16 470.28,80.23 470.39,81.20 470.50,82.07 470.62,82.83 470.73,83.49 470.84,84.06 470.95,84.53 471.06,84.91 471.17,85.20 471.29,85.42 471.40,85.57 471.51,85.66 471.62,85.70 471.73,85.70 471.84,85.67 471.95,85.62 472.07,85.56 472.18,85.49 472.29,85.43 472.40,85.38 472.51,85.34 472.62,85.30 472.74,85.27 472.85,85.25 472.96,85.23 473.07,85.22 473.18,85.20 473.29,85.19 473.40,85.17 473.52,85.15 473.63,85.13 473.74,85.10 473.85,85.07 473.96,85.04 474.07,85.00 474.19,84.96 474.30,84.93 474.41,84.89 474.52,84.86 474.63,84.83 474.74,84.81 474.85,84.79 474.97,84.77 475.08,84.77 475.19,84.76 475.30,84.76 475.41,84.77 475.52,84.77 475.64,84.77 475.75,84.76 475.86,84.74 475.97,84.68 476.08,84.60 476.19,84.46 476.30,84.28 476.42,84.03 476.53,83.72 476.64,83.35 476.75,82.94 476.86,82.52 476.97,82.11 477.09,81.75 477.20,81.48 477.31,81.31 477.42,81.28 477.53,81.38 477.64,81.62 477.75,81.96 477.87,82.40 477.98,82.89 478.09,83.41 478.20,83.92 478.31,84.42 478.42,84.89 478.54,85.32 478.65,85.70 478.76,86.03 478.87,86.30 478.98,86.49 479.09,86.61 479.20,86.65 479.32,86.61 479.43,86.50 479.54,86.35 479.65,86.16 479.76,85.97 479.87,85.80 479.99,85.66 480.10,85.58 480.21,85.57 480.32,85.68 480.43,85.94 480.54,86.34 480.65,86.81 480.77,87.21 480.88,87.39 480.99,87.25 481.10,86.67 481.21,85.18 481.32,81.59 481.44,75.03 481.55,67.48 481.66,63.96 481.77,67.40 481.88,74.82 481.99,81.16 482.10,84.49 482.22,85.93 482.33,87.11 482.44,88.95 482.55,91.46 482.66,93.81 482.77,94.75 482.89,93.71 483.00,91.28 483.11,88.66 483.22,86.68 483.33,85.35 483.44,84.13 483.55,82.45 483.67,80.14 483.78,77.67 483.89,76.02 484.00,76.04 484.11,77.79 484.22,80.53 484.34,83.32 484.45,85.36 484.56,86.09 484.67,85.27 484.78,83.12 484.89,80.31 485.00,77.86 485.12,76.78 485.23,77.50 485.34,79.52 485.45,81.79 485.56,83.47 485.67,83.99 485.78,83.34 485.90,82.08 486.01,80.78 486.12,79.66 486.23,78.73 486.34,77.98 486.45,77.42 486.57,77.02 486.68,76.72 486.79,76.40 486.90,76.00 487.01,75.46 487.12,74.78 487.23,73.96 487.35,73.06 487.46,72.09 487.57,71.10 487.68,70.11 487.79,69.15 487.90,68.23 488.02,67.37 488.13,66.58 488.24,65.88 488.35,65.27 488.46,64.76 488.57,64.37 488.68,64.10 488.80,63.96 488.91,63.94 489.02,64.10 489.13,64.49 489.24,65.10 489.35,65.91 489.47,66.90 489.58,68.02 489.69,69.26 489.80,70.58 489.91,71.94 490.02,73.32 490.13,74.68 490.25,75.99 490.36,77.25 490.47,78.44 490.58,79.53 490.69,80.53 490.80,81.44 490.92,82.25 491.03,82.96 491.14,83.58 491.25,84.11 491.36,84.55 491.47,84.91 491.58,85.20 491.70,85.41 491.81,85.57 491.92,85.67 492.03,85.72 492.14,85.74 492.25,85.74 492.37,85.71 492.48,85.68 492.59,85.64 492.70,85.60 492.81,85.57 492.92,85.53 493.03,85.50 493.15,85.46 493.26,85.43 493.37,85.40 493.48,85.36 493.59,85.31 493.70,85.26 493.82,85.21 493.93,85.15 494.04,85.08 494.15,85.02 494.26,84.95 494.37,84.88 494.48,84.82 494.60,84.76 494.71,84.71 494.82,84.67 494.93,84.63 495.04,84.61 495.15,84.60 495.27,84.60 495.38,84.61 495.49,84.63 495.60,84.66 495.71,84.71 495.82,84.76 495.93,84.82 496.05,84.89 496.16,84.96 496.27,85.04 496.38,85.11 496.49,85.18 496.60,85.24 496.72,85.29 496.83,85.31 496.94,85.31 497.05,85.27 497.16,85.19 497.27,85.04 497.38,84.83 497.50,84.54 497.61,84.18 497.72,83.76 497.83,83.28 497.94,82.79 498.05,82.30 498.17,81.86 498.28,81.50 498.39,81.25 498.50,81.14 498.61,81.17 498.72,81.34 498.83,81.64 498.95,82.03 499.06,82.49 499.17,82.99 499.28,83.50 499.39,84.01 499.50,84.50 499.62,84.96 499.73,85.39 499.84,85.77 499.95,86.10 500.06,86.37 500.17,86.56 500.28,86.68 500.40,86.71 500.51,86.67 500.62,86.58 500.73,86.46 500.84,86.32 500.95,86.18 501.07,86.07 501.18,86.00 501.29,86.00 501.40,86.09 501.51,86.32 501.62,86.69 501.73,87.11 501.85,87.46 501.96,87.57 502.07,87.35 502.18,86.68 502.29,85.02 502.40,81.08 502.52,73.90 502.63,65.64 502.74,61.77 502.85,65.47 502.96,73.49 503.07,80.36 503.18,83.98 503.30,85.60 503.41,87.01 503.52,89.25 503.63,92.32 503.74,95.20 503.85,96.41 503.97,95.23 504.08,92.38 504.19,89.32 504.30,87.05 504.41,85.59 504.52,84.37 504.63,82.73 504.75,80.46 504.86,78.03 504.97,76.42 505.08,76.46 505.19,78.21 505.30,80.95 505.42,83.72 505.53,85.73 505.64,86.42 505.75,85.54 505.86,83.33 505.97,80.46 506.08,77.93 506.20,76.77 506.31,77.42 506.42,79.36 506.53,81.57 506.64,83.18 506.75,83.65 506.87,82.97 506.98,81.67 507.09,80.36 507.20,79.24 507.31,78.31 507.42,77.58 507.53,77.06 507.65,76.71 507.76,76.46 507.87,76.21 507.98,75.87 508.09,75.41 508.20,74.80 508.32,74.06 508.43,73.23 508.54,72.33 508.65,71.39 508.76,70.46 508.87,69.53 508.98,68.64 509.10,67.79 509.21,67.00 509.32,66.29 509.43,65.65 509.54,65.11 509.65,64.68 509.77,64.35 509.88,64.14 509.99,64.04 510.10,64.13 510.21,64.45 510.32,64.98 510.43,65.72 510.55,66.64 510.66,67.71 510.77,68.91 510.88,70.19 510.99,71.53 511.10,72.89 511.22,74.25 511.33,75.59 511.44,76.87 511.55,78.10 511.66,79.24 511.77,80.31 511.88,81.28 512.00,82.16 512.11,82.95 512.22,83.64 512.33,84.24 512.44,84.76 512.55,85.18 512.67,85.52 512.78,85.78 512.89,85.97 513.00,86.09 513.11,86.15 513.22,86.16 513.33,86.14 513.45,86.08 513.56,86.01 513.67,85.92 513.78,85.81 513.89,85.71 514.00,85.60 514.12,85.49 514.23,85.38 514.34,85.28 514.45,85.17 514.56,85.07 514.67,84.98 514.78,84.89 514.90,84.80 515.01,84.72 515.12,84.66 515.23,84.60 515.34,84.56 515.45,84.52 515.57,84.51 515.68,84.50 515.79,84.52 515.90,84.54 516.01,84.58 516.12,84.63 516.23,84.70 516.35,84.77 516.46,84.84 516.57,84.93 516.68,85.01 516.79,85.09 516.90,85.17 517.02,85.25 517.13,85.31 517.24,85.37 517.35,85.42 517.46,85.45 517.57,85.46 517.68,85.45 517.80,85.42 517.91,85.35 518.02,85.25 518.13,85.09 518.24,84.88 518.35,84.61 518.47,84.26 518.58,83.86 518.69,83.40 518.80,82.90 518.91,82.39 519.02,81.90 519.13,81.46 519.25,81.13 519.36,80.91 519.47,80.84 519.58,80.93 519.69,81.16 519.80,81.52 519.91,81.98 520.03,82.51 520.14,83.08 520.25,83.66 520.36,84.23 520.47,84.77 520.58,85.28 520.70,85.75 520.81,86.16 520.92,86.50 521.03,86.77 521.14,86.95 521.25,87.04 521.36,87.04 521.48,86.96 521.59,86.81 521.70,86.62 521.81,86.42 521.92,86.21 522.03,86.03 522.15,85.89 522.26,85.82 522.37,85.85 522.48,86.03 522.59,86.35 522.70,86.74 522.81,87.07 522.93,87.17 523.04,86.95 523.15,86.24 523.26,84.39 523.37,79.84 523.48,71.44 523.60,61.74 523.71,57.23 523.82,61.69 523.93,71.28 524.04,79.49 524.15,83.81 524.26,85.67 524.38,87.10 524.49,89.21 524.60,92.06 524.71,94.73 524.82,95.86 524.93,94.79 525.05,92.18 525.16,89.36 525.27,87.24 525.38,85.84 525.49,84.61 525.60,82.92 525.71,80.60 525.83,78.10 525.94,76.41 526.05,76.38 526.16,78.07 526.27,80.75 526.38,83.46 526.50,85.41 526.61,86.06 526.72,85.16 526.83,82.93 526.94,80.05 527.05,77.53 527.16,76.40 527.28,77.08 527.39,79.07 527.50,81.33 527.61,83.00 527.72,83.54 527.83,82.92 527.95,81.70 528.06,80.45 528.17,79.40 528.28,78.53 528.39,77.86 528.50,77.38 528.61,77.07 528.73,76.84 528.84,76.61 528.95,76.28 529.06,75.80 529.17,75.17 529.28,74.39 529.40,73.51 529.51,72.55 529.62,71.56 529.73,70.56 529.84,69.56 529.95,68.60 530.06,67.68 530.18,66.83 530.29,66.05 530.40,65.36 530.51,64.78 530.62,64.31 530.73,63.96 530.85,63.74 530.96,63.65 531.07,63.75 531.18,64.09 531.29,64.67 531.40,65.45 531.51,66.43 531.63,67.56 531.74,68.82 531.85,70.18 531.96,71.59 532.07,73.02 532.18,74.45 532.30,75.84 532.41,77.18 532.52,78.44 532.63,79.62 532.74,80.70 532.85,81.68 532.96,82.56 533.08,83.32 533.19,83.99 533.30,84.55 533.41,85.01 533.52,85.38 533.63,85.65 533.75,85.84 533.86,85.96 533.97,86.01 534.08,86.01 534.19,85.96 534.30,85.87 534.41,85.77 534.53,85.65 534.64,85.53 534.75,85.42 534.86,85.31 534.97,85.21 535.08,85.12 535.20,85.05 535.31,84.98 535.42,84.93 535.53,84.89 535.64,84.86 535.75,84.84 535.86,84.82 535.98,84.82 536.09,84.82 536.20,84.82 536.31,84.83 536.42,84.85 536.53,84.87 536.65,84.89 536.76,84.92 536.87,84.94 536.98,84.97 537.09,85.00 537.20,85.02 537.31,85.05 537.43,85.07 537.54,85.09 537.65,85.11 537.76,85.12 537.87,85.13 537.98,85.14 538.10,85.14 538.21,85.14 538.32,85.14 538.43,85.13 538.54,85.13 538.65,85.12 538.76,85.12 538.88,85.12 538.99,85.11 539.10,85.11 539.21,85.09 539.32,85.07 539.43,85.03 539.55,84.96 539.66,84.86 539.77,84.71 539.88,84.51 539.99,84.24 540.10,83.91 540.21,83.53 540.33,83.11 540.44,82.67 540.55,82.25 540.66,81.87 540.77,81.57 540.88,81.39 541.00,81.34 541.11,81.42 541.22,81.64 541.33,81.97 541.44,82.38 541.55,82.86 541.66,83.36 541.78,83.86 541.89,84.35 542.00,84.81 542.11,85.23 542.22,85.61 542.33,85.94 542.45,86.21 542.56,86.41 542.67,86.54 542.78,86.59 542.89,86.56 543.00,86.47 543.11,86.32 543.23,86.16 543.34,85.98 543.45,85.82 543.56,85.70 543.67,85.63 543.78,85.64 543.90,85.75 544.01,86.02 544.12,86.42 544.23,86.90 544.34,87.30 544.45,87.48 544.56,87.32 544.68,86.69 544.79,84.96 544.90,80.72 545.01,72.87 545.12,63.81 545.23,59.57 545.35,63.70 545.46,72.60 545.57,80.21 545.68,84.21 545.79,85.99 545.90,87.54 546.01,89.99 546.13,93.36 546.24,96.51 546.35,97.80 546.46,96.43 546.57,93.19 546.68,89.72 546.80,87.13 546.91,85.49 547.02,84.15 547.13,82.45 547.24,80.14 547.35,77.68 547.46,76.05 547.58,76.08 547.69,77.85 547.80,80.60 547.91,83.40 548.02,85.44 548.13,86.18 548.25,85.36 548.36,83.20 548.47,80.39 548.58,77.93 548.69,76.84 548.80,77.56 548.91,79.56 549.03,81.82 549.14,83.48 549.25,83.98 549.36,83.32 549.47,82.04 549.58,80.73 549.70,79.60 549.81,78.66 549.92,77.90 550.03,77.33 550.14,76.94 550.25,76.63 550.36,76.32 550.48,75.92 550.59,75.39 550.70,74.72 550.81,73.91 550.92,73.02 551.03,72.07 551.15,71.09 551.26,70.12 551.37,69.17 551.48,68.27 551.59,67.42 551.70,66.64 551.81,65.95 551.93,65.35 552.04,64.85 552.15,64.46 552.26,64.19 552.37,64.04 552.48,64.02 552.60,64.17 552.71,64.55 552.82,65.15 552.93,65.94 553.04,66.91 553.15,68.03 553.26,69.25 553.38,70.55 553.49,71.90 553.60,73.26 553.71,74.61 553.82,75.92 553.93,77.17 554.05,78.35 554.16,79.44 554.27,80.45 554.38,81.36 554.49,82.17 554.60,82.89 554.71,83.52 554.83,84.06 554.94,84.52 555.05,84.90 555.16,85.20 555.27,85.43 555.38,85.60 555.49,85.71 555.61,85.78 555.72,85.81 555.83,85.82 555.94,85.80 556.05,85.77 556.16,85.73 556.28,85.69 556.39,85.65 556.50,85.61 556.61,85.56 556.72,85.52 556.83,85.47 556.94,85.42 557.06,85.37 557.17,85.31 557.28,85.24 557.39,85.17 557.50,85.10 557.61,85.02 557.73,84.95 557.84,84.87 557.95,84.80 558.06,84.73 558.17,84.67 558.28,84.63 558.39,84.59 558.51,84.56 558.62,84.55 558.73,84.55 558.84,84.56 558.95,84.58 559.06,84.62 559.18,84.67 559.29,84.73 559.40,84.79 559.51,84.86 559.62,84.93 559.73,84.99 559.84,85.04 559.96,85.07 560.07,85.07 560.18,85.03 560.29,84.94 560.40,84.79 560.51,84.57 560.63,84.27 560.74,83.91 560.85,83.49 560.96,83.02 561.07,82.55 561.18,82.11 561.29,81.72 561.41,81.43 561.52,81.27 561.63,81.24 561.74,81.34 561.85,81.58 561.96,81.93 562.08,82.35 562.19,82.83 562.30,83.32 562.41,83.82 562.52,84.30 562.63,84.76 562.74,85.19 562.86,85.58 562.97,85.92 563.08,86.20 563.19,86.42 563.30,86.55 563.41,86.61 563.53,86.60 563.64,86.53 563.75,86.41 563.86,86.28 563.97,86.14 564.08,86.02 564.19,85.94 564.31,85.91 564.42,85.97 564.53,86.14 564.64,86.46 564.75,86.89 564.86,87.32 564.98,87.58 565.09,87.56 565.20,87.17 565.31,86.17 565.42,83.75 565.53,78.61 565.64,70.98 565.76,64.73 565.87,64.64 565.98,70.70 566.09,78.04 566.20,82.85 566.31,85.04 566.43,86.31 566.54,88.04 566.65,90.74 566.76,93.88 566.87,96.07 566.98,96.07 567.09,93.88 567.21,90.73 567.32,87.98 567.43,86.15 567.54,84.90 567.65,83.52 567.76,81.56 567.88,79.11 567.99,76.96 568.10,76.12 568.21,77.08 568.32,79.46 568.43,82.35 568.54,84.85 568.66,86.27 568.77,86.21 568.88,84.63 568.99,82.01 569.10,79.20 569.21,77.28 569.33,77.07 569.44,78.51 569.55,80.75 569.66,82.78 569.77,83.90 569.88,83.79 569.99,82.75 570.11,81.44 570.22,80.26 570.33,79.29 570.44,78.52 570.55,77.96 570.66,77.60 570.78,77.38 570.89,77.23 571.00,77.04 571.11,76.74 571.22,76.31 571.33,75.74 571.44,75.07 571.56,74.32 571.67,73.53 571.78,72.72 571.89,71.92 572.00,71.14 572.11,70.40 572.23,69.70 572.34,69.06 572.45,68.49 572.56,68.00 572.67,67.59 572.78,67.28 572.89,67.06 573.01,66.94 573.12,66.94 573.23,67.13 573.34,67.50 573.45,68.07 573.56,68.79 573.68,69.66 573.79,70.64 573.90,71.71 574.01,72.84 574.12,74.01 574.23,75.18 574.34,76.34 574.46,77.47 574.57,78.54 574.68,79.56 574.79,80.51 574.90,81.39 575.01,82.20 575.13,82.92 575.24,83.57 575.35,84.13 575.46,84.63 575.57,85.04 575.68,85.38 575.79,85.65 575.91,85.85 576.02,86.00 576.13,86.08 576.24,86.12 576.35,86.12 576.46,86.09 576.58,86.04 576.69,85.97 576.80,85.89 576.91,85.81 577.02,85.71 577.13,85.62 577.24,85.53 577.36,85.43 577.47,85.33 577.58,85.23 577.69,85.14 577.80,85.04 577.91,84.95 578.03,84.85 578.14,84.77 578.25,84.69 578.36,84.63 578.47,84.57 578.58,84.53 578.69,84.50 578.81,84.48 578.92,84.48 579.03,84.50 579.14,84.53 579.25,84.57 579.36,84.63 579.48,84.69 579.59,84.77 579.70,84.84 579.81,84.92 579.92,84.98 580.03,85.04 580.14,85.07 580.26,85.07 580.37,85.03 580.48,84.93 580.59,84.77 580.70,84.53 580.81,84.23 580.93,83.85 581.04,83.41 581.15,82.93 581.26,82.44 581.37,81.98 581.48,81.58 581.59,81.28 581.71,81.11 581.82,81.07 581.93,81.18 582.04,81.42 582.15,81.77 582.26,82.21 582.38,82.70 582.49,83.22 582.60,83.74 582.71,84.24 582.82,84.73 582.93,85.18 583.04,85.60 583.16,85.97 583.27,86.27 583.38,86.51 583.49,86.67 583.60,86.75 583.71,86.74 583.83,86.68 583.94,86.57 584.05,86.43 584.16,86.29 584.27,86.16 584.38,86.06 584.49,86.01 584.61,86.04 584.72,86.19 584.83,86.49 584.94,86.89 585.05,87.29 585.16,87.53 585.28,87.48 585.39,87.06 585.50,86.00 585.61,83.39 585.72,77.82 585.83,69.56 585.94,62.78 586.06,62.69 586.17,69.28 586.28,77.28 586.39,82.52 586.50,84.93 586.61,86.36 586.73,88.31 586.84,91.34 586.95,94.86 587.06,97.32 587.17,97.35 587.28,94.93 587.39,91.45 587.51,88.41 587.62,86.42 587.73,85.08 587.84,83.68 587.95,81.71 588.06,79.26 588.18,77.10 588.29,76.24 588.40,77.19 588.51,79.55 588.62,82.41 588.73,84.88 588.84,86.28 588.96,86.18 589.07,84.58 589.18,81.93 589.29,79.09 589.40,77.15 589.51,76.91 589.62,78.33 589.74,80.55 589.85,82.57 589.96,83.68 590.07,83.56 590.18,82.52 590.29,81.20 590.41,80.02 590.52,79.05 590.63,78.28 590.74,77.72 590.85,77.35 590.96,77.14 591.07,76.97 591.19,76.77 591.30,76.46 591.41,76.00 591.52,75.41 591.63,74.71 591.74,73.92 591.86,73.09 591.97,72.24 592.08,71.38 592.19,70.55 592.30,69.75 592.41,69.00 592.52,68.31 592.64,67.68 592.75,67.14 592.86,66.68 592.97,66.33 593.08,66.07 593.19,65.92 593.31,65.90 593.42,66.08 593.53,66.46 593.64,67.04 593.75,67.80 593.86,68.71 593.97,69.75 594.09,70.88 594.20,72.08 594.31,73.32 594.42,74.58 594.53,75.82 594.64,77.03 594.76,78.18 594.87,79.28 594.98,80.30 595.09,81.25 595.20,82.11 595.31,82.88 595.42,83.58 595.54,84.18 595.65,84.70 595.76,85.14 595.87,85.49 595.98,85.77 596.09,85.97 596.21,86.10 596.32,86.18 596.43,86.20 596.54,86.18 596.65,86.13 596.76,86.05 596.87,85.95 596.99,85.85 597.10,85.74 597.21,85.62 597.32,85.51 597.43,85.40 597.54,85.29 597.66,85.18 597.77,85.08 597.88,84.98 597.99,84.89 598.10,84.81 598.21,84.73 598.32,84.67 598.44,84.61 598.55,84.57 598.66,84.54 598.77,84.52 598.88,84.52 598.99,84.53 599.11,84.56 599.22,84.60 599.33,84.65 599.44,84.71 599.55,84.77 599.66,84.85 599.77,84.93 599.89,85.01 600.00,85.09 600.11,85.17 600.22,85.24 600.33,85.30 600.44,85.36 600.56,85.41 600.67,85.45 600.78,85.48 600.89,85.49 601.00,85.50 601.11,85.50 601.22,85.49 601.34,85.47 601.45,85.44 601.56,85.41 601.67,85.37 601.78,85.32 601.89,85.26 602.01,85.19 602.12,85.10 602.23,84.98 602.34,84.83 602.45,84.63 602.56,84.38 602.67,84.08 602.79,83.72 602.90,83.31 603.01,82.87 603.12,82.42 603.23,81.99 603.34,81.62 603.46,81.34 603.57,81.18 603.68,81.15 603.79,81.27 603.90,81.52 604.01,81.89 604.12,82.35 604.24,82.87 604.35,83.42 604.46,83.97 604.57,84.49 604.68,84.99 604.79,85.44 604.91,85.84 605.02,86.18 605.13,86.46 605.24,86.67 605.35,86.79 605.46,86.82 605.57,86.77 605.69,86.65 605.80,86.47 605.91,86.26 606.02,86.05 606.13,85.84 606.24,85.68 606.36,85.56 606.47,85.52 606.58,85.60 606.69,85.83 606.80,86.21 606.91,86.67 607.02,87.05 607.14,87.22 607.25,87.07 607.36,86.44 607.47,84.74 607.58,80.52 607.69,72.70 607.81,63.67 607.92,59.48 608.03,63.65 608.14,72.59 608.25,80.24 608.36,84.27 608.47,86.04 608.59,87.50 608.70,89.73 608.81,92.79 608.92,95.63 609.03,96.80 609.14,95.56 609.26,92.64 609.37,89.50 609.48,87.15 609.59,85.61 609.70,84.30 609.81,82.57 609.92,80.23 610.04,77.73 610.15,76.05 610.26,76.04 610.37,77.76 610.48,80.48 610.59,83.24 610.71,85.25 610.82,85.96 610.93,85.13 611.04,82.97 611.15,80.16 611.26,77.71 611.37,76.64 611.49,77.38 611.60,79.41 611.71,81.72 611.82,83.43 611.93,83.99 612.04,83.38 612.16,82.17 612.27,80.92 612.38,79.85 612.49,78.97 612.60,78.27 612.71,77.76 612.82,77.42 612.94,77.16 613.05,76.89 613.16,76.53 613.27,76.03 613.38,75.39 613.49,74.60 613.61,73.72 613.72,72.78 613.83,71.81 613.94,70.84 614.05,69.89 614.16,68.98 614.27,68.13 614.39,67.34 614.50,66.64 614.61,66.04 614.72,65.53 614.83,65.14 614.94,64.87 615.06,64.73 615.17,64.70 615.28,64.86 615.39,65.24 615.50,65.84 615.61,66.63 615.72,67.60 615.84,68.70 615.95,69.91 616.06,71.20 616.17,72.54 616.28,73.88 616.39,75.21 616.51,76.50 616.62,77.73 616.73,78.88 616.84,79.95 616.95,80.92 617.06,81.80 617.17,82.58 617.29,83.26 617.40,83.85 617.51,84.34 617.62,84.75 617.73,85.07 617.84,85.32 617.96,85.50 618.07,85.62 618.18,85.68 618.29,85.70 618.40,85.69 618.51,85.65 618.62,85.60 618.74,85.55 618.85,85.49 618.96,85.44 619.07,85.40 619.18,85.36 619.29,85.33 619.41,85.30 619.52,85.29 619.63,85.27 619.74,85.25 619.85,85.23 619.96,85.21 620.07,85.19 620.19,85.16 620.30,85.12 620.41,85.09 620.52,85.05 620.63,85.00 620.74,84.96 620.86,84.92 620.97,84.88 621.08,84.84 621.19,84.81 621.30,84.78 621.41,84.75 621.52,84.74 621.64,84.73 621.75,84.73 621.86,84.74 621.97,84.75 622.08,84.77 622.19,84.81 622.31,84.84 622.42,84.89 622.53,84.94 622.64,84.99 622.75,85.05 622.86,85.12 622.97,85.18 623.09,85.25 623.20,85.31 623.31,85.38 623.42,85.44 623.53,85.50 623.64,85.55 623.76,85.59 623.87,85.63 623.98,85.66 624.09,85.68 624.20,85.68 624.31,85.66 624.42,85.62 624.54,85.54 624.65,85.43 624.76,85.27 624.87,85.05 624.98,84.77 625.09,84.42 625.20,84.00 625.32,83.53 625.43,83.02 625.54,82.50 625.65,81.99 625.76,81.54 625.87,81.18 625.99,80.95 626.10,80.86 626.21,80.93 626.32,81.14 626.43,81.48 626.54,81.92 626.65,82.44 626.77,82.99 626.88,83.56 626.99,84.12 627.10,84.66 627.21,85.17 627.32,85.64 627.44,86.06 627.55,86.41 627.66,86.69 627.77,86.89 627.88,87.00 627.99,87.01 628.10,86.95 628.22,86.82 628.33,86.65 628.44,86.47 628.55,86.28 628.66,86.11 628.77,85.98 628.89,85.92 629.00,85.96 629.11,86.14 629.22,86.46 629.33,86.85 629.44,87.16 629.55,87.26 629.67,87.02 629.78,86.30 629.89,84.43 630.00,79.86 630.11,71.44 630.22,61.73 630.34,57.20 630.45,61.64 630.56,71.22 630.67,79.41 630.78,83.76 630.89,85.70 631.00,87.35 631.12,89.89 631.23,93.35 631.34,96.59 631.45,97.96 631.56,96.67 631.67,93.50 631.79,90.10 631.90,87.56 632.01,85.96 632.12,84.65 632.23,82.95 632.34,80.64 632.45,78.15 632.57,76.48 632.68,76.47 632.79,78.17 632.90,80.85 633.01,83.56 633.12,85.52 633.24,86.17 633.35,85.26 633.46,83.03 633.57,80.14 633.68,77.60 633.79,76.45 633.90,77.12 634.02,79.08 634.13,81.32 634.24,82.97 634.35,83.49 634.46,82.86 634.57,81.62 634.69,80.36 634.80,79.30 634.91,78.43 635.02,77.75 635.13,77.28 635.24,76.97 635.35,76.74 635.47,76.52 635.58,76.20 635.69,75.74 635.80,75.12 635.91,74.36 636.02,73.50 636.14,72.57 636.25,71.59 636.36,70.60 636.47,69.63 636.58,68.68 636.69,67.77 636.80,66.93 636.92,66.16 637.03,65.47 637.14,64.89 637.25,64.41 637.36,64.05 637.47,63.82 637.59,63.72 637.70,63.81 637.81,64.13 637.92,64.69 638.03,65.46 638.14,66.41 638.25,67.53 638.37,68.77 638.48,70.11 638.59,71.50 638.70,72.92 638.81,74.34 638.92,75.73 639.04,77.07 639.15,78.33 639.26,79.52 639.37,80.61 639.48,81.60 639.59,82.49 639.70,83.27 639.82,83.95 639.93,84.53 640.04,85.01 640.15,85.40 640.26,85.69 640.37,85.90 640.49,86.03 640.60,86.10 640.71,86.10 640.82,86.06 640.93,85.98 641.04,85.88 641.15,85.76 641.27,85.64 641.38,85.51 641.49,85.39 641.60,85.27 641.71,85.17 641.82,85.08 641.94,85.00 642.05,84.93 642.16,84.87 642.27,84.82 642.38,84.78 642.49,84.75 642.60,84.73 642.72,84.72 642.83,84.72 642.94,84.72 643.05,84.74 643.16,84.76 643.27,84.79 643.39,84.83 643.50,84.87 643.61,84.91 643.72,84.95 643.83,85.00 643.94,85.04 644.05,85.08 644.17,85.12 644.28,85.16 644.39,85.19 644.50,85.21 644.61,85.23 644.72,85.24 644.84,85.25 644.95,85.25 645.06,85.24 645.17,85.24 645.28,85.22 645.39,85.21 645.50,85.20 645.62,85.19 645.73,85.18 645.84,85.17 645.95,85.16 646.06,85.16 646.17,85.15 646.29,85.13 646.40,85.10 646.51,85.05 646.62,84.96 646.73,84.84 646.84,84.67 646.95,84.43 647.07,84.14 647.18,83.78 647.29,83.37 647.40,82.94 647.51,82.49 647.62,82.08 647.74,81.74 647.85,81.49 647.96,81.36 648.07,81.37 648.18,81.51 648.29,81.78 648.40,82.15 648.52,82.59 648.63,83.08 648.74,83.58 648.85,84.07 648.96,84.54 649.07,84.98 649.19,85.38 649.30,85.74 649.41,86.04 649.52,86.29 649.63,86.46 649.74,86.55 649.85,86.57 649.97,86.51 650.08,86.40 650.19,86.25 650.30,86.08 650.41,85.92 650.52,85.78 650.64,85.69 650.75,85.66 650.86,85.72 650.97,85.91 651.08,86.25 651.19,86.70 651.30,87.16 651.42,87.46 651.53,87.48 651.64,87.13 651.75,86.13 651.86,83.58 651.97,78.07 652.09,69.85 652.20,63.11 652.31,63.05 652.42,69.65 652.53,77.65 652.64,82.90 652.75,85.32 652.87,86.80 652.98,88.90 653.09,92.18 653.20,96.00 653.31,98.65 653.42,98.61 653.54,95.88 653.65,91.98 653.76,88.58 653.87,86.33 653.98,84.86 654.09,83.39 654.20,81.37 654.32,78.89 654.43,76.72 654.54,75.86 654.65,76.82 654.76,79.20 654.87,82.09 654.99,84.60 655.10,86.04 655.21,86.00 655.32,84.46 655.43,81.86 655.54,79.08 655.65,77.19 655.77,77.01 655.88,78.47 655.99,80.72 656.10,82.76 656.21,83.88 656.32,83.76 656.44,82.69 656.55,81.34 656.66,80.11 656.77,79.07 656.88,78.21 656.99,77.55 657.10,77.08 657.22,76.73 657.33,76.44 657.44,76.10 657.55,75.64 657.66,75.04 657.77,74.31 657.89,73.46 658.00,72.54 658.11,71.58 658.22,70.62 658.33,69.66 658.44,68.74 658.55,67.87 658.67,67.06 658.78,66.33 658.89,65.68 659.00,65.13 659.11,64.69 659.22,64.36 659.33,64.14 659.45,64.05 659.56,64.09 659.67,64.36 659.78,64.84 659.89,65.53 660.00,66.41 660.12,67.45 660.23,68.61 660.34,69.87 660.45,71.20 660.56,72.55 660.67,73.90 660.78,75.23 660.90,76.51 661.01,77.72 661.12,78.86 661.23,79.91 661.34,80.87 661.45,81.74 661.57,82.52 661.68,83.20 661.79,83.79 661.90,84.30 662.01,84.72 662.12,85.07 662.23,85.34 662.35,85.54 662.46,85.69 662.57,85.79 662.68,85.84 662.79,85.86 662.90,85.85 663.02,85.83 663.13,85.79 663.24,85.75 663.35,85.71 663.46,85.66 663.57,85.61 663.68,85.56 663.80,85.51 663.91,85.45 664.02,85.39 664.13,85.33 664.24,85.26 664.35,85.18 664.47,85.10 664.58,85.02 664.69,84.94 664.80,84.86 664.91,84.79 665.02,84.72 665.13,84.66 665.25,84.61 665.36,84.57 665.47,84.54 665.58,84.53 665.69,84.53 665.80,84.54 665.92,84.57 666.03,84.61 666.14,84.66 666.25,84.72 666.36,84.79 666.47,84.86 666.58,84.94 666.70,85.02 666.81,85.09 666.92,85.14 667.03,85.18 667.14,85.20 667.25,85.17 667.37,85.10 667.48,84.96 667.59,84.76 667.70,84.49 667.81,84.14 667.92,83.73 668.03,83.26 668.15,82.78 668.26,82.30 668.37,81.86 668.48,81.51 668.59,81.27 668.70,81.16 668.82,81.19 668.93,81.36 669.04,81.66 669.15,82.05 669.26,82.50 669.37,83.00 669.48,83.51 669.60,84.01 669.71,84.50 669.82,84.96 669.93,85.38 670.04,85.76 670.15,86.09 670.27,86.36 670.38,86.55 670.49,86.66 670.60,86.69 670.71,86.65 670.82,86.56 670.93,86.44 671.05,86.30 671.16,86.16 671.27,86.06 671.38,85.99 671.49,85.99 671.60,86.08 671.72,86.32 671.83,86.69 671.94,87.12 672.05,87.47 672.16,87.58 672.27,87.37 672.38,86.71 672.50,85.08 672.61,81.23 672.72,74.24 672.83,66.19 672.94,62.42 673.05,66.01 673.17,73.83 673.28,80.51 673.39,84.05 673.50,85.69 673.61,87.22 673.72,89.70 673.83,93.11 673.95,96.31 674.06,97.65 674.17,96.34 674.28,93.16 674.39,89.75 674.50,87.23 674.62,85.65 674.73,84.37 674.84,82.71 674.95,80.44 675.06,78.01 675.17,76.40 675.28,76.45 675.40,78.21 675.51,80.95 675.62,83.72 675.73,85.74 675.84,86.43 675.95,85.56 676.07,83.36 676.18,80.50 676.29,77.97 676.40,76.83" fill="none" stroke="#0072BD" stroke-width="0.62" stroke-linejoin="round"/>
<rect x="397.56" y="160.40" width="278.84" height="62.90" fill="#fff" stroke="#6e6e6e" stroke-width="1"/>
<text transform="translate(397.56 237.55) scale(0.720 1)" font-size="10" text-anchor="middle" font-weight="normal" fill="#333333">0</text>
<text transform="translate(425.44 237.55) scale(0.720 1)" font-size="10" text-anchor="middle" font-weight="normal" fill="#333333">500</text>
<text transform="translate(453.33 237.55) scale(0.720 1)" font-size="10" text-anchor="middle" font-weight="normal" fill="#333333">1000</text>
<text transform="translate(481.21 237.55) scale(0.720 1)" font-size="10" text-anchor="middle" font-weight="normal" fill="#333333">1500</text>
<text transform="translate(509.10 237.55) scale(0.720 1)" font-size="10" text-anchor="middle" font-weight="normal" fill="#333333">2000</text>
<text transform="translate(536.98 237.55) scale(0.720 1)" font-size="10" text-anchor="middle" font-weight="normal" fill="#333333">2500</text>
<text transform="translate(564.86 237.55) scale(0.720 1)" font-size="10" text-anchor="middle" font-weight="normal" fill="#333333">3000</text>
<text transform="translate(592.75 237.55) scale(0.720 1)" font-size="10" text-anchor="middle" font-weight="normal" fill="#333333">3500</text>
<text transform="translate(620.63 237.55) scale(0.720 1)" font-size="10" text-anchor="middle" font-weight="normal" fill="#333333">4000</text>
<text transform="translate(648.52 237.55) scale(0.720 1)" font-size="10" text-anchor="middle" font-weight="normal" fill="#333333">4500</text>
<text transform="translate(676.40 237.55) scale(0.720 1)" font-size="10" text-anchor="middle" font-weight="normal" fill="#333333">5000</text>
<text transform="translate(395.11 228.05) scale(0.720 1)" font-size="10" text-anchor="end" font-weight="normal" fill="#333333">-0.5</text>
<text transform="translate(395.11 196.60) scale(0.720 1)" font-size="10" text-anchor="end" font-weight="normal" fill="#333333">0</text>
<text transform="translate(395.11 165.15) scale(0.720 1)" font-size="10" text-anchor="end" font-weight="normal" fill="#333333">0.5</text>
<path d="M425.44 223.30v-3.20M425.44 160.40v3.20M453.33 223.30v-3.20M453.33 160.40v3.20M481.21 223.30v-3.20M481.21 160.40v3.20M509.10 223.30v-3.20M509.10 160.40v3.20M536.98 223.30v-3.20M536.98 160.40v3.20M564.86 223.30v-3.20M564.86 160.40v3.20M592.75 223.30v-3.20M592.75 160.40v3.20M620.63 223.30v-3.20M620.63 160.40v3.20M648.52 223.30v-3.20M648.52 160.40v3.20M397.56 191.85h3.20M676.40 191.85h-3.20" stroke="#8a8a8a" stroke-width="0.9" fill="none"/>
<text transform="translate(536.98 156.10) scale(0.720 1)" font-size="11" text-anchor="middle" font-weight="bold" fill="#000">apply high frequency</text>
<text transform="translate(536.98 251.45) scale(0.720 1)" font-size="11" text-anchor="middle" font-weight="normal" fill="#333333">sample</text>
<text transform="translate(379.16 191.85) scale(0.700 1) rotate(-90)" font-size="11.3" text-anchor="middle" font-weight="normal" fill="#333333">Voltage(mv)</text>
<polyline points="397.56,191.85 397.67,191.85 397.78,191.85 397.89,191.85 398.01,191.85 398.12,191.84 398.23,191.84 398.34,191.83 398.45,191.83 398.56,191.82 398.68,191.80 398.79,191.79 398.90,191.77 399.01,191.75 399.12,191.72 399.23,191.70 399.34,191.66 399.46,191.63 399.57,191.59 399.68,191.54 399.79,191.49 399.90,191.43 400.01,191.37 400.13,191.31 400.24,191.24 400.35,191.16 400.46,191.09 400.57,191.02 400.68,190.97 400.79,190.92 400.91,190.90 401.02,190.89 401.13,190.90 401.24,190.94 401.35,191.00 401.46,191.08 401.58,191.20 401.69,191.33 401.80,191.50 401.91,191.68 402.02,191.88 402.13,192.10 402.24,192.32 402.36,192.55 402.47,192.77 402.58,192.98 402.69,193.17 402.80,193.34 402.91,193.47 403.03,193.57 403.14,193.62 403.25,193.62 403.36,193.57 403.47,193.47 403.58,193.31 403.69,193.11 403.81,192.86 403.92,192.58 404.03,192.28 404.14,191.95 404.25,191.63 404.36,191.31 404.48,191.01 404.59,190.75 404.70,190.54 404.81,190.38 404.92,190.28 405.03,190.25 405.14,190.30 405.26,190.42 405.37,190.60 405.48,190.85 405.59,191.14 405.70,191.45 405.81,191.78 405.93,192.11 406.04,192.40 406.15,192.65 406.26,192.85 406.37,192.98 406.48,193.02 406.59,192.99 406.71,192.89 406.82,192.71 406.93,192.47 407.04,192.16 407.15,191.79 407.26,191.38 407.38,190.93 407.49,190.45 407.60,189.96 407.71,189.46 407.82,188.97 407.93,188.50 408.04,188.05 408.16,187.65 408.27,187.30 408.38,187.01 408.49,186.79 408.60,186.64 408.71,186.56 408.83,186.56 408.94,186.67 409.05,186.88 409.16,187.20 409.27,187.62 409.38,188.12 409.49,188.69 409.61,189.33 409.72,190.01 409.83,190.72 409.94,191.44 410.05,192.16 410.16,192.86 410.28,193.52 410.39,194.12 410.50,194.66 410.61,195.12 410.72,195.49 410.83,195.76 410.94,195.93 411.06,195.98 411.17,195.96 411.28,195.91 411.39,195.81 411.50,195.67 411.61,195.50 411.73,195.30 411.84,195.06 411.95,194.79 412.06,194.49 412.17,194.17 412.28,193.83 412.39,193.46 412.51,193.08 412.62,192.69 412.73,192.28 412.84,191.87 412.95,191.46 413.06,191.05 413.18,190.65 413.29,190.26 413.40,189.88 413.51,189.51 413.62,189.17 413.73,188.84 413.84,188.55 413.96,188.28 414.07,188.04 414.18,187.83 414.29,187.66 414.40,187.53 414.51,187.43 414.63,187.37 414.74,187.35 414.85,187.42 414.96,187.63 415.07,187.97 415.18,188.43 415.29,189.00 415.41,189.65 415.52,190.36 415.63,191.11 415.74,191.87 415.85,192.62 415.96,193.33 416.07,193.98 416.19,194.54 416.30,195.00 416.41,195.35 416.52,195.56 416.63,195.64 416.74,195.67 416.86,195.72 416.97,195.87 417.08,196.21 417.19,196.83 417.30,197.81 417.41,199.11 417.52,200.54 417.64,201.75 417.75,202.38 417.86,202.17 417.97,201.11 418.08,199.47 418.19,197.62 418.31,195.90 418.42,194.51 418.53,193.44 418.64,192.37 418.75,190.34 418.86,185.69 418.97,178.06 419.09,171.31 419.20,170.95 419.31,176.99 419.42,183.91 419.53,187.90 419.64,189.50 419.76,190.78 419.87,193.32 419.98,197.62 420.09,202.67 420.20,206.10 420.31,205.77 420.42,201.67 420.54,195.95 420.65,191.00 420.76,187.87 420.87,186.29 420.98,185.56 421.09,185.19 421.21,184.93 421.32,184.71 421.43,184.51 421.54,184.34 421.65,184.18 421.76,184.04 421.87,183.92 421.99,183.82 422.10,183.75 422.21,183.69 422.32,183.66 422.43,183.65 422.54,183.70 422.66,183.85 422.77,184.09 422.88,184.42 422.99,184.84 423.10,185.34 423.21,185.91 423.32,186.54 423.44,187.22 423.55,187.94 423.66,188.69 423.77,189.45 423.88,190.22 423.99,190.98 424.11,191.72 424.22,192.42 424.33,193.08 424.44,193.68 424.55,194.21 424.66,194.67 424.77,195.05 424.89,195.34 425.00,195.53 425.11,195.63 425.22,195.63 425.33,195.54 425.44,195.37 425.56,195.12 425.67,194.79 425.78,194.40 425.89,193.97 426.00,193.50 426.11,193.01 426.22,192.51 426.34,192.03 426.45,191.57 426.56,191.16 426.67,190.80 426.78,190.51 426.89,190.30 427.01,190.17 427.12,190.12 427.23,190.16 427.34,190.28 427.45,190.48 427.56,190.73 427.67,191.04 427.79,191.38 427.90,191.73 428.01,192.08 428.12,192.40 428.23,192.69 428.34,192.91 428.46,193.07 428.57,193.15 428.68,193.15 428.79,193.07 428.90,192.91 429.01,192.68 429.12,192.38 429.24,192.02 429.35,191.60 429.46,191.14 429.57,190.65 429.68,190.13 429.79,189.61 429.91,189.09 430.02,188.59 430.13,188.11 430.24,187.67 430.35,187.28 430.46,186.94 430.57,186.68 430.69,186.48 430.80,186.36 430.91,186.32 431.02,186.38 431.13,186.54 431.24,186.81 431.36,187.17 431.47,187.63 431.58,188.16 431.69,188.76 431.80,189.42 431.91,190.11 432.02,190.82 432.14,191.53 432.25,192.24 432.36,192.91 432.47,193.54 432.58,194.11 432.69,194.61 432.81,195.02 432.92,195.33 433.03,195.55 433.14,195.66 433.25,195.67 433.36,195.63 433.47,195.55 433.59,195.43 433.70,195.27 433.81,195.08 433.92,194.85 434.03,194.59 434.14,194.30 434.26,193.98 434.37,193.63 434.48,193.27 434.59,192.88 434.70,192.48 434.81,192.07 434.92,191.66 435.04,191.23 435.15,190.81 435.26,190.39 435.37,189.98 435.48,189.58 435.59,189.20 435.71,188.83 435.82,188.49 435.93,188.17 436.04,187.88 436.15,187.62 436.26,187.39 436.37,187.19 436.49,187.04 436.60,186.92 436.71,186.84 436.82,186.80 436.93,186.81 437.04,186.96 437.16,187.26 437.27,187.69 437.38,188.23 437.49,188.88 437.60,189.61 437.71,190.40 437.82,191.21 437.94,192.02 438.05,192.80 438.16,193.53 438.27,194.18 438.38,194.73 438.49,195.16 438.61,195.46 438.72,195.61 438.83,195.65 438.94,195.69 439.05,195.79 439.16,196.03 439.27,196.50 439.39,197.31 439.50,198.47 439.61,199.89 439.72,201.28 439.83,202.26 439.94,202.50 440.06,201.88 440.17,200.51 440.28,198.74 440.39,196.95 440.50,195.41 440.61,194.22 440.72,193.25 440.84,191.86 440.95,188.60 441.06,181.96 441.17,173.60 441.28,169.37 441.39,172.95 441.51,180.67 441.62,186.70 441.73,189.46 441.84,190.78 441.95,192.70 442.06,196.36 442.17,201.56 442.29,206.41 442.40,208.26 442.51,205.82 442.62,200.36 442.73,194.57 442.84,190.34 442.96,187.99 443.07,186.91 443.18,186.42 443.29,186.14 443.40,185.93 443.51,185.74 443.62,185.57 443.74,185.42 443.85,185.29 443.96,185.17 444.07,185.08 444.18,185.00 444.29,184.94 444.41,184.90 444.52,184.88 444.63,184.89 444.74,184.99 444.85,185.17 444.96,185.45 445.07,185.81 445.19,186.25 445.30,186.76 445.41,187.34 445.52,187.97 445.63,188.64 445.74,189.34 445.86,190.07 445.97,190.80 446.08,191.54 446.19,192.25 446.30,192.94 446.41,193.59 446.52,194.20 446.64,194.74 446.75,195.22 446.86,195.62 446.97,195.94 447.08,196.17 447.19,196.31 447.31,196.36 447.42,196.31 447.53,196.15 447.64,195.89 447.75,195.54 447.86,195.11 447.97,194.61 448.09,194.07 448.20,193.49 448.31,192.89 448.42,192.30 448.53,191.74 448.64,191.21 448.76,190.75 448.87,190.36 448.98,190.05 449.09,189.84 449.20,189.74 449.31,189.73 449.42,189.82 449.54,190.00 449.65,190.25 449.76,190.57 449.87,190.93 449.98,191.32 450.09,191.71 450.20,192.08 450.32,192.42 450.43,192.71 450.54,192.93 450.65,193.06 450.76,193.11 450.87,193.06 450.99,192.93 451.10,192.72 451.21,192.43 451.32,192.07 451.43,191.65 451.54,191.17 451.65,190.65 451.77,190.11 451.88,189.54 451.99,188.98 452.10,188.42 452.21,187.88 452.32,187.39 452.44,186.94 452.55,186.54 452.66,186.22 452.77,185.96 452.88,185.79 452.99,185.71 453.10,185.71 453.22,185.83 453.33,186.05 453.44,186.39 453.55,186.83 453.66,187.35 453.77,187.95 453.89,188.62 454.00,189.33 454.11,190.07 454.22,190.83 454.33,191.58 454.44,192.31 454.55,193.00 454.67,193.64 454.78,194.20 454.89,194.69 455.00,195.07 455.11,195.36 455.22,195.53 455.34,195.59 455.45,195.56 455.56,195.49 455.67,195.37 455.78,195.20 455.89,194.99 456.00,194.73 456.12,194.44 456.23,194.11 456.34,193.75 456.45,193.36 456.56,192.94 456.67,192.51 456.79,192.06 456.90,191.60 457.01,191.14 457.12,190.68 457.23,190.22 457.34,189.78 457.45,189.35 457.57,188.94 457.68,188.55 457.79,188.20 457.90,187.88 458.01,187.59 458.12,187.35 458.24,187.15 458.35,186.99 458.46,186.88 458.57,186.82 458.68,186.81 458.79,186.95 458.90,187.27 459.02,187.76 459.13,188.39 459.24,189.14 459.35,189.98 459.46,190.87 459.57,191.78 459.69,192.66 459.80,193.48 459.91,194.21 460.02,194.81 460.13,195.26 460.24,195.54 460.35,195.64 460.47,195.67 460.58,195.73 460.69,195.89 460.80,196.23 460.91,196.86 461.02,197.86 461.14,199.18 461.25,200.63 461.36,201.87 461.47,202.52 461.58,202.33 461.69,201.31 461.80,199.70 461.92,197.88 462.03,196.20 462.14,194.85 462.25,193.82 462.36,192.85 462.47,191.09 462.59,187.12 462.70,180.64 462.81,174.90 462.92,174.59 463.03,179.70 463.14,185.57 463.25,188.95 463.37,190.33 463.48,191.48 463.59,193.78 463.70,197.66 463.81,202.23 463.92,205.33 464.04,205.04 464.15,201.36 464.26,196.21 464.37,191.76 464.48,188.95 464.59,187.53 464.70,186.89 464.82,186.56 464.93,186.33 465.04,186.14 465.15,185.97 465.26,185.81 465.37,185.68 465.49,185.56 465.60,185.45 465.71,185.37 465.82,185.30 465.93,185.26 466.04,185.23 466.15,185.22 466.27,185.26 466.38,185.39 466.49,185.61 466.60,185.90 466.71,186.27 466.82,186.71 466.94,187.22 467.05,187.77 467.16,188.38 467.27,189.02 467.38,189.68 467.49,190.36 467.60,191.03 467.72,191.71 467.83,192.36 467.94,192.98 468.05,193.56 468.16,194.09 468.27,194.57 468.39,194.97 468.50,195.31 468.61,195.56 468.72,195.73 468.83,195.82 468.94,195.82 469.05,195.73 469.17,195.56 469.28,195.30 469.39,194.97 469.50,194.58 469.61,194.13 469.72,193.66 469.84,193.16 469.95,192.66 470.06,192.17 470.17,191.71 470.28,191.29 470.39,190.93 470.50,190.63 470.62,190.42 470.73,190.28 470.84,190.24 470.95,190.27 471.06,190.38 471.17,190.55 471.29,190.78 471.40,191.05 471.51,191.35 471.62,191.67 471.73,191.98 471.84,192.26 471.95,192.52 472.07,192.72 472.18,192.86 472.29,192.93 472.40,192.93 472.51,192.85 472.62,192.69 472.74,192.47 472.85,192.17 472.96,191.81 473.07,191.40 473.18,190.94 473.29,190.46 473.40,189.95 473.52,189.43 473.63,188.92 473.74,188.42 473.85,187.95 473.96,187.52 474.07,187.13 474.19,186.80 474.30,186.54 474.41,186.34 474.52,186.23 474.63,186.19 474.74,186.24 474.85,186.41 474.97,186.69 475.08,187.06 475.19,187.53 475.30,188.08 475.41,188.70 475.52,189.38 475.64,190.09 475.75,190.82 475.86,191.56 475.97,192.28 476.08,192.97 476.19,193.62 476.30,194.21 476.42,194.72 476.53,195.14 476.64,195.47 476.75,195.69 476.86,195.80 476.97,195.81 477.09,195.73 477.20,195.57 477.31,195.34 477.42,195.03 477.53,194.67 477.64,194.24 477.75,193.76 477.87,193.25 477.98,192.70 478.09,192.14 478.20,191.56 478.31,190.99 478.42,190.43 478.54,189.89 478.65,189.39 478.76,188.94 478.87,188.53 478.98,188.19 479.09,187.91 479.20,187.71 479.32,187.58 479.43,187.53 479.54,187.65 479.65,188.07 479.76,188.75 479.87,189.65 479.99,190.69 480.10,191.80 480.21,192.89 480.32,193.88 480.43,194.70 480.54,195.29 480.65,195.60 480.77,195.65 480.88,195.69 480.99,195.79 481.10,196.02 481.21,196.50 481.32,197.30 481.44,198.47 481.55,199.88 481.66,201.27 481.77,202.25 481.88,202.49 481.99,201.86 482.10,200.50 482.22,198.73 482.33,196.93 482.44,195.39 482.55,194.21 482.66,193.28 482.77,192.17 482.89,189.87 483.00,185.38 483.11,179.77 483.22,176.88 483.33,179.12 483.44,184.08 483.55,187.95 483.67,189.74 483.78,190.76 483.89,192.59 484.00,196.18 484.11,201.29 484.22,206.07 484.34,207.88 484.45,205.46 484.56,200.09 484.67,194.38 484.78,190.21 484.89,187.89 485.00,186.82 485.12,186.33 485.23,186.05 485.34,185.84 485.45,185.65 485.56,185.48 485.67,185.33 485.78,185.19 485.90,185.08 486.01,184.98 486.12,184.90 486.23,184.84 486.34,184.80 486.45,184.78 486.57,184.79 486.68,184.88 486.79,185.06 486.90,185.32 487.01,185.66 487.12,186.08 487.23,186.57 487.35,187.12 487.46,187.72 487.57,188.36 487.68,189.03 487.79,189.72 487.90,190.42 488.02,191.12 488.13,191.80 488.24,192.46 488.35,193.08 488.46,193.66 488.57,194.18 488.68,194.63 488.80,195.01 488.91,195.32 489.02,195.54 489.13,195.67 489.24,195.72 489.35,195.67 489.47,195.53 489.58,195.31 489.69,195.01 489.80,194.64 489.91,194.21 490.02,193.74 490.13,193.24 490.25,192.72 490.36,192.21 490.47,191.72 490.58,191.27 490.69,190.87 490.80,190.53 490.92,190.27 491.03,190.09 491.14,190.00 491.25,189.99 491.36,190.07 491.47,190.23 491.58,190.45 491.70,190.73 491.81,191.05 491.92,191.39 492.03,191.74 492.14,192.07 492.25,192.37 492.37,192.62 492.48,192.81 492.59,192.93 492.70,192.97 492.81,192.93 492.92,192.81 493.03,192.62 493.15,192.35 493.26,192.01 493.37,191.62 493.48,191.18 493.59,190.70 493.70,190.19 493.82,189.67 493.93,189.14 494.04,188.63 494.15,188.13 494.26,187.67 494.37,187.25 494.48,186.89 494.60,186.58 494.71,186.35 494.82,186.19 494.93,186.11 495.04,186.12 495.15,186.23 495.27,186.47 495.38,186.81 495.49,187.26 495.60,187.80 495.71,188.41 495.82,189.09 495.93,189.82 496.05,190.58 496.16,191.36 496.27,192.13 496.38,192.87 496.49,193.58 496.60,194.23 496.72,194.81 496.83,195.30 496.94,195.70 497.05,195.99 497.16,196.17 497.27,196.23 497.38,196.19 497.50,196.10 497.61,195.94 497.72,195.72 497.83,195.44 497.94,195.11 498.05,194.73 498.17,194.31 498.28,193.84 498.39,193.35 498.50,192.83 498.61,192.29 498.72,191.75 498.83,191.20 498.95,190.65 499.06,190.11 499.17,189.60 499.28,189.11 499.39,188.65 499.50,188.24 499.62,187.86 499.73,187.54 499.84,187.27 499.95,187.06 500.06,186.92 500.17,186.83 500.28,186.81 500.40,186.97 500.51,187.35 500.62,187.93 500.73,188.68 500.84,189.57 500.95,190.55 501.07,191.56 501.18,192.55 501.29,193.47 501.40,194.27 501.51,194.92 501.62,195.37 501.73,195.60 501.85,195.65 501.96,195.69 502.07,195.79 502.18,196.02 502.29,196.49 502.40,197.29 502.52,198.45 502.63,199.86 502.74,201.24 502.85,202.21 502.96,202.45 503.07,201.81 503.18,200.43 503.30,198.65 503.41,196.85 503.52,195.29 503.63,194.10 503.74,193.14 503.85,191.95 503.97,189.40 504.08,184.35 504.19,178.04 504.30,174.80 504.41,177.37 504.52,183.00 504.63,187.39 504.75,189.39 504.86,190.43 504.97,192.17 505.08,195.56 505.19,200.40 505.30,204.91 505.42,206.61 505.53,204.28 505.64,199.14 505.75,193.67 505.86,189.68 505.97,187.45 506.08,186.41 506.20,185.92 506.31,185.63 506.42,185.41 506.53,185.21 506.64,185.04 506.75,184.88 506.87,184.74 506.98,184.62 507.09,184.52 507.20,184.43 507.31,184.37 507.42,184.33 507.53,184.31 507.65,184.32 507.76,184.42 507.87,184.61 507.98,184.90 508.09,185.28 508.20,185.75 508.32,186.28 508.43,186.89 508.54,187.55 508.65,188.26 508.76,189.00 508.87,189.76 508.98,190.53 509.10,191.30 509.21,192.06 509.32,192.78 509.43,193.47 509.54,194.10 509.65,194.67 509.77,195.17 509.88,195.59 509.99,195.93 510.10,196.17 510.21,196.32 510.32,196.37 510.43,196.32 510.55,196.16 510.66,195.91 510.77,195.57 510.88,195.15 510.99,194.67 511.10,194.14 511.22,193.57 511.33,192.99 511.44,192.42 511.55,191.87 511.66,191.36 511.77,190.91 511.88,190.53 512.00,190.23 512.11,190.03 512.22,189.92 512.33,189.92 512.44,190.00 512.55,190.16 512.67,190.39 512.78,190.67 512.89,190.99 513.00,191.34 513.11,191.70 513.22,192.04 513.33,192.34 513.45,192.60 513.56,192.79 513.67,192.91 513.78,192.96 513.89,192.91 514.00,192.79 514.12,192.59 514.23,192.32 514.34,191.98 514.45,191.58 514.56,191.13 514.67,190.65 514.78,190.13 514.90,189.60 515.01,189.07 515.12,188.54 515.23,188.04 515.34,187.57 515.45,187.15 515.57,186.78 515.68,186.47 515.79,186.23 515.90,186.07 516.01,185.99 516.12,186.00 516.23,186.13 516.35,186.38 516.46,186.76 516.57,187.24 516.68,187.82 516.79,188.49 516.90,189.23 517.02,190.03 517.13,190.85 517.24,191.70 517.35,192.53 517.46,193.35 517.57,194.11 517.68,194.82 517.80,195.45 517.91,195.99 518.02,196.42 518.13,196.73 518.24,196.92 518.35,196.99 518.47,196.95 518.58,196.84 518.69,196.66 518.80,196.41 518.91,196.10 519.02,195.73 519.13,195.30 519.25,194.82 519.36,194.30 519.47,193.75 519.58,193.17 519.69,192.57 519.80,191.96 519.91,191.35 520.03,190.75 520.14,190.16 520.25,189.60 520.36,189.08 520.47,188.59 520.58,188.15 520.70,187.77 520.81,187.44 520.92,187.18 521.03,186.99 521.14,186.87 521.25,186.82 521.36,186.90 521.48,187.22 521.59,187.76 521.70,188.49 521.81,189.37 521.92,190.35 522.03,191.39 522.15,192.41 522.26,193.37 522.37,194.21 522.48,194.88 522.59,195.35 522.70,195.60 522.81,195.65 522.93,195.69 523.04,195.78 523.15,196.00 523.26,196.46 523.37,197.25 523.48,198.40 523.60,199.79 523.71,201.15 523.82,202.10 523.93,202.31 524.04,201.64 524.15,200.24 524.26,198.43 524.38,196.59 524.49,195.00 524.60,193.77 524.71,192.77 524.82,191.50 524.93,188.74 525.05,183.30 525.16,176.49 525.27,172.98 525.38,175.73 525.49,181.78 525.60,186.49 525.71,188.65 525.83,189.82 525.94,191.81 526.05,195.72 526.16,201.29 526.27,206.50 526.38,208.45 526.50,205.78 526.61,199.87 526.72,193.60 526.83,189.01 526.94,186.45 527.05,185.25 527.16,184.70 527.28,184.38 527.39,184.13 527.50,183.91 527.61,183.71 527.72,183.53 527.83,183.37 527.95,183.23 528.06,183.12 528.17,183.03 528.28,182.96 528.39,182.91 528.50,182.89 528.61,182.90 528.73,183.00 528.84,183.21 528.95,183.52 529.06,183.92 529.17,184.41 529.28,184.99 529.40,185.63 529.51,186.33 529.62,187.08 529.73,187.87 529.84,188.68 529.95,189.50 530.06,190.32 530.18,191.12 530.29,191.89 530.40,192.62 530.51,193.29 530.62,193.90 530.73,194.43 530.85,194.88 530.96,195.24 531.07,195.50 531.18,195.65 531.29,195.71 531.40,195.66 531.51,195.52 531.63,195.30 531.74,194.99 531.85,194.62 531.96,194.18 532.07,193.71 532.18,193.20 532.30,192.68 532.41,192.17 532.52,191.67 532.63,191.22 532.74,190.81 532.85,190.47 532.96,190.20 533.08,190.02 533.19,189.93 533.30,189.93 533.41,190.01 533.52,190.18 533.63,190.41 533.75,190.71 533.86,191.04 533.97,191.40 534.08,191.77 534.19,192.12 534.30,192.44 534.41,192.71 534.53,192.91 534.64,193.03 534.75,193.08 534.86,193.04 534.97,192.92 535.08,192.73 535.20,192.48 535.31,192.16 535.42,191.78 535.53,191.36 535.64,190.90 535.75,190.41 535.86,189.91 535.98,189.41 536.09,188.92 536.20,188.44 536.31,188.00 536.42,187.60 536.53,187.25 536.65,186.96 536.76,186.74 536.87,186.59 536.98,186.51 537.09,186.52 537.20,186.64 537.31,186.87 537.43,187.22 537.54,187.67 537.65,188.21 537.76,188.83 537.87,189.51 537.98,190.25 538.10,191.01 538.21,191.79 538.32,192.57 538.43,193.32 538.54,194.03 538.65,194.69 538.76,195.27 538.88,195.76 538.99,196.16 539.10,196.45 539.21,196.63 539.32,196.69 539.43,196.66 539.55,196.58 539.66,196.44 539.77,196.25 539.88,196.00 539.99,195.71 540.10,195.37 540.21,194.99 540.33,194.57 540.44,194.12 540.55,193.64 540.66,193.14 540.77,192.63 540.88,192.10 541.00,191.57 541.11,191.04 541.22,190.52 541.33,190.01 541.44,189.53 541.55,189.06 541.66,188.63 541.78,188.24 541.89,187.88 542.00,187.56 542.11,187.30 542.22,187.08 542.33,186.92 542.45,186.81 542.56,186.76 542.67,186.79 542.78,186.99 542.89,187.38 543.00,187.93 543.11,188.62 543.23,189.42 543.34,190.30 543.45,191.22 543.56,192.14 543.67,193.02 543.78,193.81 543.90,194.50 544.01,195.04 544.12,195.41 544.23,195.61 544.34,195.65 544.45,195.69 544.56,195.78 544.68,196.00 544.79,196.46 544.90,197.25 545.01,198.39 545.12,199.78 545.23,201.14 545.35,202.09 545.46,202.29 545.57,201.62 545.68,200.21 545.79,198.40 545.90,196.56 546.01,194.97 546.13,193.73 546.24,192.72 546.35,191.44 546.46,188.69 546.57,183.24 546.68,176.42 546.80,172.91 546.91,175.65 547.02,181.70 547.13,186.40 547.24,188.53 547.35,189.62 547.46,191.45 547.58,195.04 547.69,200.18 547.80,204.97 547.91,206.76 548.02,204.25 548.13,198.74 548.25,192.89 548.36,188.61 548.47,186.21 548.58,185.07 548.69,184.54 548.80,184.21 548.91,183.96 549.03,183.74 549.14,183.54 549.25,183.36 549.36,183.19 549.47,183.06 549.58,182.94 549.70,182.85 549.81,182.78 549.92,182.73 550.03,182.71 550.14,182.72 550.25,182.83 550.36,183.04 550.48,183.36 550.59,183.78 550.70,184.29 550.81,184.88 550.92,185.55 551.03,186.28 551.15,187.06 551.26,187.87 551.37,188.71 551.48,189.57 551.59,190.41 551.70,191.25 551.81,192.05 551.93,192.80 552.04,193.50 552.15,194.13 552.26,194.68 552.37,195.15 552.48,195.52 552.60,195.79 552.71,195.95 552.82,196.00 552.93,195.96 553.04,195.82 553.15,195.60 553.26,195.29 553.38,194.92 553.49,194.49 553.60,194.01 553.71,193.51 553.82,193.00 553.93,192.48 554.05,191.99 554.16,191.54 554.27,191.14 554.38,190.80 554.49,190.53 554.60,190.35 554.71,190.26 554.83,190.26 554.94,190.33 555.05,190.48 555.16,190.69 555.27,190.95 555.38,191.25 555.49,191.57 555.61,191.89 555.72,192.20 555.83,192.48 555.94,192.72 556.05,192.90 556.16,193.01 556.28,193.05 556.39,193.00 556.50,192.88 556.61,192.67 556.72,192.38 556.83,192.02 556.94,191.60 557.06,191.13 557.17,190.61 557.28,190.07 557.39,189.51 557.50,188.94 557.61,188.39 557.73,187.86 557.84,187.37 557.95,186.92 558.06,186.53 558.17,186.20 558.28,185.95 558.39,185.78 558.51,185.70 558.62,185.70 558.73,185.82 558.84,186.06 558.95,186.42 559.06,186.88 559.18,187.43 559.29,188.06 559.40,188.76 559.51,189.52 559.62,190.30 559.73,191.09 559.84,191.89 559.96,192.66 560.07,193.38 560.18,194.05 560.29,194.65 560.40,195.16 560.51,195.56 560.63,195.86 560.74,196.04 560.85,196.10 560.96,196.07 561.07,195.96 561.18,195.78 561.29,195.54 561.41,195.23 561.52,194.86 561.63,194.44 561.74,193.98 561.85,193.48 561.96,192.96 562.08,192.42 562.19,191.86 562.30,191.31 562.41,190.77 562.52,190.25 562.63,189.75 562.74,189.29 562.86,188.88 562.97,188.52 563.08,188.22 563.19,187.98 563.30,187.81 563.41,187.70 563.53,187.68 563.64,187.83 563.75,188.25 563.86,188.89 563.97,189.72 564.08,190.67 564.19,191.70 564.31,192.72 564.42,193.66 564.53,194.48 564.64,195.10 564.75,195.50 564.86,195.64 564.98,195.67 565.09,195.73 565.20,195.88 565.31,196.22 565.42,196.85 565.53,197.84 565.64,199.16 565.76,200.60 565.87,201.83 565.98,202.47 566.09,202.28 566.20,201.24 566.31,199.63 566.43,197.80 566.54,196.10 566.65,194.74 566.76,193.71 566.87,192.77 566.98,191.23 567.09,187.88 567.21,182.48 567.32,177.70 567.43,177.37 567.54,181.51 567.65,186.26 567.76,189.01 567.88,190.21 567.99,191.49 568.10,194.18 568.21,198.74 568.32,204.09 568.43,207.73 568.54,207.43 568.66,203.17 568.77,197.22 568.88,192.06 568.99,188.82 569.10,187.19 569.21,186.47 569.33,186.11 569.44,185.87 569.55,185.67 569.66,185.49 569.77,185.33 569.88,185.18 569.99,185.06 570.11,184.95 570.22,184.86 570.33,184.79 570.44,184.74 570.55,184.71 570.66,184.70 570.78,184.75 570.89,184.88 571.00,185.09 571.11,185.39 571.22,185.76 571.33,186.20 571.44,186.70 571.56,187.26 571.67,187.86 571.78,188.49 571.89,189.16 572.00,189.83 572.11,190.51 572.23,191.18 572.34,191.83 572.45,192.45 572.56,193.03 572.67,193.56 572.78,194.04 572.89,194.44 573.01,194.78 573.12,195.03 573.23,195.20 573.34,195.29 573.45,195.29 573.56,195.20 573.68,195.02 573.79,194.76 573.90,194.42 574.01,194.03 574.12,193.58 574.23,193.10 574.34,192.59 574.46,192.08 574.57,191.59 574.68,191.12 574.79,190.70 574.90,190.33 575.01,190.03 575.13,189.81 575.24,189.67 575.35,189.63 575.46,189.68 575.57,189.82 575.68,190.06 575.79,190.37 575.91,190.74 576.02,191.15 576.13,191.58 576.24,192.00 576.35,192.40 576.46,192.74 576.58,193.02 576.69,193.21 576.80,193.31 576.91,193.31 577.02,193.22 577.13,193.05 577.24,192.79 577.36,192.46 577.47,192.06 577.58,191.60 577.69,191.09 577.80,190.55 577.91,189.99 578.03,189.41 578.14,188.84 578.25,188.28 578.36,187.75 578.47,187.27 578.58,186.84 578.69,186.47 578.81,186.18 578.92,185.96 579.03,185.83 579.14,185.79 579.25,185.85 579.36,186.03 579.48,186.34 579.59,186.75 579.70,187.27 579.81,187.88 579.92,188.56 580.03,189.30 580.14,190.09 580.26,190.90 580.37,191.71 580.48,192.51 580.59,193.27 580.70,193.99 580.81,194.64 580.93,195.20 581.04,195.67 581.15,196.03 581.26,196.27 581.37,196.40 581.48,196.40 581.59,196.30 581.71,196.09 581.82,195.78 581.93,195.38 582.04,194.89 582.15,194.33 582.26,193.71 582.38,193.04 582.49,192.33 582.60,191.61 582.71,190.88 582.82,190.16 582.93,189.46 583.04,188.81 583.16,188.21 583.27,187.67 583.38,187.22 583.49,186.85 583.60,186.58 583.71,186.41 583.83,186.34 583.94,186.48 584.05,187.00 584.16,187.84 584.27,188.95 584.38,190.22 584.49,191.56 584.61,192.85 584.72,193.98 584.83,194.87 584.94,195.44 585.05,195.64 585.16,195.67 585.28,195.73 585.39,195.88 585.50,196.23 585.61,196.86 585.72,197.85 585.83,199.17 585.94,200.61 586.06,201.85 586.17,202.49 586.28,202.30 586.39,201.27 586.50,199.66 586.61,197.83 586.73,196.15 586.84,194.79 586.95,193.76 587.06,192.83 587.17,191.29 587.28,187.96 587.39,182.56 587.51,177.78 587.62,177.46 587.73,181.60 587.84,186.36 587.95,189.10 588.06,190.25 588.18,191.39 588.29,193.76 588.40,197.79 588.51,202.52 588.62,205.74 588.73,205.44 588.84,201.63 588.96,196.30 589.07,191.69 589.18,188.77 589.29,187.30 589.40,186.64 589.51,186.30 589.62,186.07 589.74,185.87 589.85,185.70 589.96,185.54 590.07,185.40 590.18,185.27 590.29,185.17 590.41,185.08 590.52,185.01 590.63,184.96 590.74,184.93 590.85,184.92 590.96,184.97 591.07,185.10 591.19,185.32 591.30,185.61 591.41,185.99 591.52,186.43 591.63,186.94 591.74,187.50 591.86,188.11 591.97,188.76 592.08,189.42 592.19,190.11 592.30,190.79 592.41,191.47 592.52,192.13 592.64,192.76 592.75,193.34 592.86,193.88 592.97,194.36 593.08,194.77 593.19,195.10 593.31,195.36 593.42,195.54 593.53,195.62 593.64,195.62 593.75,195.53 593.86,195.35 593.97,195.09 594.09,194.76 594.20,194.36 594.31,193.91 594.42,193.42 594.53,192.92 594.64,192.41 594.76,191.91 594.87,191.44 594.98,191.02 595.09,190.65 595.20,190.35 595.31,190.13 595.42,189.99 595.54,189.95 595.65,189.99 595.76,190.11 595.87,190.31 595.98,190.57 596.09,190.88 596.21,191.23 596.32,191.58 596.43,191.94 596.54,192.27 596.65,192.56 596.76,192.79 596.87,192.95 596.99,193.03 597.10,193.03 597.21,192.97 597.32,192.83 597.43,192.64 597.54,192.38 597.66,192.08 597.77,191.73 597.88,191.34 597.99,190.92 598.10,190.49 598.21,190.05 598.32,189.61 598.44,189.18 598.55,188.78 598.66,188.41 598.77,188.08 598.88,187.80 598.99,187.57 599.11,187.41 599.22,187.31 599.33,187.27 599.44,187.33 599.55,187.50 599.66,187.78 599.77,188.16 599.89,188.63 600.00,189.19 600.11,189.82 600.22,190.50 600.33,191.22 600.44,191.96 600.56,192.70 600.67,193.44 600.78,194.14 600.89,194.79 601.00,195.39 601.11,195.91 601.22,196.33 601.34,196.67 601.45,196.89 601.56,197.00 601.67,197.01 601.78,196.96 601.89,196.86 602.01,196.72 602.12,196.53 602.23,196.29 602.34,196.01 602.45,195.69 602.56,195.33 602.67,194.94 602.79,194.52 602.90,194.08 603.01,193.62 603.12,193.14 603.23,192.65 603.34,192.15 603.46,191.65 603.57,191.15 603.68,190.66 603.79,190.19 603.90,189.73 604.01,189.29 604.12,188.88 604.24,188.50 604.35,188.16 604.46,187.85 604.57,187.58 604.68,187.36 604.79,187.18 604.91,187.04 605.02,186.96 605.13,186.93 605.24,186.98 605.35,187.18 605.46,187.54 605.57,188.04 605.69,188.66 605.80,189.37 605.91,190.15 606.02,190.98 606.13,191.82 606.24,192.63 606.36,193.40 606.47,194.09 606.58,194.67 606.69,195.13 606.80,195.45 606.91,195.61 607.02,195.65 607.14,195.69 607.25,195.78 607.36,196.02 607.47,196.48 607.58,197.28 607.69,198.44 607.81,199.84 607.92,201.22 608.03,202.19 608.14,202.42 608.25,201.77 608.36,200.39 608.47,198.60 608.59,196.79 608.70,195.23 608.81,194.02 608.92,193.06 609.03,191.86 609.14,189.30 609.26,184.24 609.37,177.92 609.48,174.67 609.59,177.23 609.70,182.86 609.81,187.24 609.92,189.27 610.04,190.42 610.15,192.44 610.26,196.38 610.37,201.98 610.48,207.22 610.59,209.21 610.71,206.57 610.82,200.69 610.93,194.44 611.04,189.88 611.15,187.34 611.26,186.17 611.37,185.64 611.49,185.34 611.60,185.11 611.71,184.91 611.82,184.73 611.93,184.56 612.04,184.42 612.16,184.29 612.27,184.19 612.38,184.11 612.49,184.04 612.60,184.00 612.71,183.98 612.82,183.99 612.94,184.08 613.05,184.27 613.16,184.56 613.27,184.92 613.38,185.37 613.49,185.89 613.61,186.48 613.72,187.12 613.83,187.81 613.94,188.53 614.05,189.27 614.16,190.02 614.27,190.76 614.39,191.49 614.50,192.20 614.61,192.86 614.72,193.48 614.83,194.03 614.94,194.52 615.06,194.93 615.17,195.25 615.28,195.49 615.39,195.63 615.50,195.68 615.61,195.63 615.72,195.50 615.84,195.29 615.95,194.99 616.06,194.63 616.17,194.22 616.28,193.76 616.39,193.28 616.51,192.78 616.62,192.28 616.73,191.81 616.84,191.37 616.95,190.98 617.06,190.66 617.17,190.40 617.29,190.23 617.40,190.14 617.51,190.14 617.62,190.21 617.73,190.37 617.84,190.59 617.96,190.86 618.07,191.17 618.18,191.51 618.29,191.85 618.40,192.17 618.51,192.47 618.62,192.71 618.74,192.90 618.85,193.02 618.96,193.06 619.07,193.01 619.18,192.89 619.29,192.68 619.41,192.39 619.52,192.03 619.63,191.61 619.74,191.14 619.85,190.63 619.96,190.09 620.07,189.53 620.19,188.97 620.30,188.42 620.41,187.89 620.52,187.40 620.63,186.95 620.74,186.56 620.86,186.24 620.97,185.99 621.08,185.82 621.19,185.73 621.30,185.74 621.41,185.87 621.52,186.12 621.64,186.49 621.75,186.97 621.86,187.55 621.97,188.21 622.08,188.95 622.19,189.73 622.31,190.55 622.42,191.38 622.53,192.21 622.64,193.02 622.75,193.78 622.86,194.48 622.97,195.10 623.09,195.64 623.20,196.06 623.31,196.37 623.42,196.56 623.53,196.63 623.64,196.61 623.76,196.55 623.87,196.45 623.98,196.32 624.09,196.14 624.20,195.93 624.31,195.69 624.42,195.42 624.54,195.12 624.65,194.79 624.76,194.43 624.87,194.06 624.98,193.66 625.09,193.25 625.20,192.83 625.32,192.40 625.43,191.97 625.54,191.53 625.65,191.10 625.76,190.67 625.87,190.26 625.99,189.85 626.10,189.47 626.21,189.10 626.32,188.75 626.43,188.43 626.54,188.14 626.65,187.88 626.77,187.65 626.88,187.45 626.99,187.29 627.10,187.17 627.21,187.09 627.32,187.04 627.44,187.05 627.55,187.16 627.66,187.41 627.77,187.77 627.88,188.25 627.99,188.81 628.10,189.46 628.22,190.17 628.33,190.91 628.44,191.66 628.55,192.40 628.66,193.11 628.77,193.77 628.89,194.35 629.00,194.84 629.11,195.22 629.22,195.48 629.33,195.62 629.44,195.65 629.55,195.69 629.67,195.79 629.78,196.03 629.89,196.51 630.00,197.32 630.11,198.49 630.22,199.91 630.34,201.31 630.45,202.30 630.56,202.55 630.67,201.93 630.78,200.58 630.89,198.82 631.00,197.04 631.12,195.51 631.23,194.34 631.34,193.39 631.45,192.11 631.56,189.18 631.67,183.27 631.79,175.84 631.90,172.08 632.01,175.23 632.12,182.04 632.23,187.35 632.34,189.77 632.45,190.90 632.57,192.52 632.68,195.63 632.79,200.07 632.90,204.21 633.01,205.77 633.12,203.64 633.24,198.93 633.35,193.92 633.46,190.26 633.57,188.22 633.68,187.27 633.79,186.83 633.90,186.57 634.02,186.37 634.13,186.19 634.24,186.03 634.35,185.88 634.46,185.76 634.57,185.65 634.69,185.55 634.80,185.48 634.91,185.42 635.02,185.39 635.13,185.37 635.24,185.38 635.35,185.47 635.47,185.65 635.58,185.91 635.69,186.26 635.80,186.68 635.91,187.17 636.02,187.72 636.14,188.32 636.25,188.97 636.36,189.65 636.47,190.34 636.58,191.05 636.69,191.75 636.80,192.44 636.92,193.10 637.03,193.72 637.14,194.30 637.25,194.83 637.36,195.28 637.47,195.67 637.59,195.97 637.70,196.20 637.81,196.33 637.92,196.38 638.03,196.33 638.14,196.18 638.25,195.93 638.37,195.60 638.48,195.20 638.59,194.73 638.70,194.21 638.81,193.67 638.92,193.11 639.04,192.55 639.15,192.02 639.26,191.52 639.37,191.09 639.48,190.72 639.59,190.43 639.70,190.23 639.82,190.13 639.93,190.13 640.04,190.21 640.15,190.37 640.26,190.59 640.37,190.88 640.49,191.20 640.60,191.54 640.71,191.90 640.82,192.23 640.93,192.54 641.04,192.79 641.15,192.98 641.27,193.10 641.38,193.15 641.49,193.11 641.60,193.01 641.71,192.84 641.82,192.61 641.94,192.33 642.05,192.00 642.16,191.62 642.27,191.21 642.38,190.78 642.49,190.34 642.60,189.89 642.72,189.46 642.83,189.04 642.94,188.64 643.05,188.29 643.16,187.98 643.27,187.72 643.39,187.52 643.50,187.39 643.61,187.32 643.72,187.33 643.83,187.43 643.94,187.65 644.05,187.96 644.17,188.36 644.28,188.85 644.39,189.41 644.50,190.03 644.61,190.69 644.72,191.38 644.84,192.09 644.95,192.79 645.06,193.47 645.17,194.11 645.28,194.70 645.39,195.22 645.50,195.67 645.62,196.03 645.73,196.30 645.84,196.46 645.95,196.51 646.06,196.49 646.17,196.42 646.29,196.30 646.40,196.14 646.51,195.94 646.62,195.70 646.73,195.41 646.84,195.10 646.95,194.74 647.07,194.37 647.18,193.96 647.29,193.53 647.40,193.09 647.51,192.63 647.62,192.17 647.74,191.70 647.85,191.23 647.96,190.76 648.07,190.31 648.18,189.87 648.29,189.45 648.40,189.05 648.52,188.68 648.63,188.34 648.74,188.03 648.85,187.76 648.96,187.53 649.07,187.34 649.19,187.19 649.30,187.09 649.41,187.03 649.52,187.03 649.63,187.16 649.74,187.44 649.85,187.86 649.97,188.42 650.08,189.08 650.19,189.82 650.30,190.62 650.41,191.45 650.52,192.27 650.64,193.05 650.75,193.78 650.86,194.41 650.97,194.93 651.08,195.31 651.19,195.55 651.30,195.64 651.42,195.67 651.53,195.72 651.64,195.88 651.75,196.21 651.86,196.84 651.97,197.82 652.09,199.12 652.20,200.56 652.31,201.78 652.42,202.41 652.53,202.20 652.64,201.16 652.75,199.52 652.87,197.68 652.98,195.97 653.09,194.58 653.20,193.51 653.31,192.43 653.42,190.27 653.54,185.24 653.65,176.97 653.76,169.64 653.87,169.29 653.98,175.92 654.09,183.51 654.20,187.88 654.32,189.58 654.43,190.78 654.54,193.05 654.65,196.90 654.76,201.43 654.87,204.50 654.99,204.18 655.10,200.46 655.21,195.29 655.32,190.80 655.43,187.96 655.54,186.51 655.65,185.84 655.77,185.49 655.88,185.24 655.99,185.03 656.10,184.83 656.21,184.66 656.32,184.51 656.44,184.37 656.55,184.26 656.66,184.16 656.77,184.09 656.88,184.04 656.99,184.01 657.10,184.00 657.22,184.04 657.33,184.19 657.44,184.43 657.55,184.76 657.66,185.17 657.77,185.66 657.89,186.22 658.00,186.84 658.11,187.51 658.22,188.22 658.33,188.96 658.44,189.72 658.55,190.47 658.67,191.22 658.78,191.95 658.89,192.64 659.00,193.29 659.11,193.88 659.22,194.40 659.33,194.86 659.45,195.23 659.56,195.51 659.67,195.70 659.78,195.80 659.89,195.80 660.00,195.71 660.12,195.53 660.23,195.26 660.34,194.93 660.45,194.52 660.56,194.07 660.67,193.58 660.78,193.07 660.90,192.55 661.01,192.05 661.12,191.58 661.23,191.15 661.34,190.77 661.45,190.47 661.57,190.25 661.68,190.11 661.79,190.06 661.90,190.11 662.01,190.23 662.12,190.42 662.23,190.68 662.35,190.99 662.46,191.33 662.57,191.69 662.68,192.04 662.79,192.36 662.90,192.65 663.02,192.88 663.13,193.04 663.24,193.12 663.35,193.12 663.46,193.03 663.57,192.85 663.68,192.59 663.80,192.25 663.91,191.85 664.02,191.38 664.13,190.86 664.24,190.31 664.35,189.73 664.47,189.14 664.58,188.56 664.69,187.99 664.80,187.45 664.91,186.96 665.02,186.52 665.13,186.15 665.25,185.85 665.36,185.63 665.47,185.49 665.58,185.45 665.69,185.51 665.80,185.68 665.92,185.98 666.03,186.37 666.14,186.87 666.25,187.45 666.36,188.11 666.47,188.82 666.58,189.57 666.70,190.35 666.81,191.13 666.92,191.89 667.03,192.63 667.14,193.31 667.25,193.93 667.37,194.47 667.48,194.92 667.59,195.27 667.70,195.51 667.81,195.62 667.92,195.63 668.03,195.56 668.15,195.42 668.26,195.22 668.37,194.96 668.48,194.63 668.59,194.26 668.70,193.83 668.82,193.37 668.93,192.87 669.04,192.35 669.15,191.82 669.26,191.28 669.37,190.74 669.48,190.21 669.60,189.70 669.71,189.22 669.82,188.77 669.93,188.37 670.04,188.01 670.15,187.71 670.27,187.48 670.38,187.30 670.49,187.19 670.60,187.16 670.71,187.28 670.82,187.66 670.93,188.27 671.05,189.09 671.16,190.05 671.27,191.09 671.38,192.16 671.49,193.17 671.60,194.08 671.72,194.81 671.83,195.33 671.94,195.60 672.05,195.65 672.16,195.69 672.27,195.79 672.38,196.03 672.50,196.51 672.61,197.32 672.72,198.49 672.83,199.91 672.94,201.30 673.05,202.29 673.17,202.54 673.28,201.92 673.39,200.56 673.50,198.80 673.61,197.02 673.72,195.49 673.83,194.32 673.95,193.38 674.06,192.17 674.17,189.48 674.28,184.11 674.39,177.36 674.50,173.93 674.62,176.75 674.73,182.87 674.84,187.64 674.95,189.83 675.06,190.92 675.17,192.62 675.28,195.92 675.40,200.62 675.51,205.00 675.62,206.65 675.73,204.42 675.84,199.46 675.95,194.20 676.07,190.35 676.18,188.21 676.29,187.22 676.40,186.76" fill="none" stroke="#0072BD" stroke-width="0.62" stroke-linejoin="round"/>
<rect x="397.56" y="271.40" width="278.84" height="62.34" fill="#fff" stroke="#6e6e6e" stroke-width="1"/>
<text transform="translate(397.56 348.27) scale(0.720 1)" font-size="10" text-anchor="middle" font-weight="normal" fill="#333333">0</text>
<text transform="translate(425.44 348.27) scale(0.720 1)" font-size="10" text-anchor="middle" font-weight="normal" fill="#333333">500</text>
<text transform="translate(453.33 348.27) scale(0.720 1)" font-size="10" text-anchor="middle" font-weight="normal" fill="#333333">1000</text>
<text transform="translate(481.21 348.27) scale(0.720 1)" font-size="10" text-anchor="middle" font-weight="normal" fill="#333333">1500</text>
<text transform="translate(509.10 348.27) scale(0.720 1)" font-size="10" text-anchor="middle" font-weight="normal" fill="#333333">2000</text>
<text transform="translate(536.98 348.27) scale(0.720 1)" font-size="10" text-anchor="middle" font-weight="normal" fill="#333333">2500</text>
<text transform="translate(564.86 348.27) scale(0.720 1)" font-size="10" text-anchor="middle" font-weight="normal" fill="#333333">3000</text>
<text transform="translate(592.75 348.27) scale(0.720 1)" font-size="10" text-anchor="middle" font-weight="normal" fill="#333333">3500</text>
<text transform="translate(620.63 348.27) scale(0.720 1)" font-size="10" text-anchor="middle" font-weight="normal" fill="#333333">4000</text>
<text transform="translate(648.52 348.27) scale(0.720 1)" font-size="10" text-anchor="middle" font-weight="normal" fill="#333333">4500</text>
<text transform="translate(676.40 348.27) scale(0.720 1)" font-size="10" text-anchor="middle" font-weight="normal" fill="#333333">5000</text>
<text transform="translate(395.11 338.49) scale(0.720 1)" font-size="10" text-anchor="end" font-weight="normal" fill="#333333">-0.5</text>
<text transform="translate(395.11 307.32) scale(0.720 1)" font-size="10" text-anchor="end" font-weight="normal" fill="#333333">0</text>
<text transform="translate(395.11 276.15) scale(0.720 1)" font-size="10" text-anchor="end" font-weight="normal" fill="#333333">0.5</text>
<path d="M425.44 333.74v-3.20M425.44 271.40v3.20M453.33 333.74v-3.20M453.33 271.40v3.20M481.21 333.74v-3.20M481.21 271.40v3.20M509.10 333.74v-3.20M509.10 271.40v3.20M536.98 333.74v-3.20M536.98 271.40v3.20M564.86 333.74v-3.20M564.86 271.40v3.20M592.75 333.74v-3.20M592.75 271.40v3.20M620.63 333.74v-3.20M620.63 271.40v3.20M648.52 333.74v-3.20M648.52 271.40v3.20M397.56 302.57h3.20M676.40 302.57h-3.20" stroke="#8a8a8a" stroke-width="0.9" fill="none"/>
<text transform="translate(536.98 267.10) scale(0.720 1)" font-size="11" text-anchor="middle" font-weight="bold" fill="#000">Location Rwave</text>
<text transform="translate(536.98 362.17) scale(0.720 1)" font-size="11" text-anchor="middle" font-weight="normal" fill="#333333">sample</text>
<text transform="translate(379.16 302.57) scale(0.700 1) rotate(-90)" font-size="11.3" text-anchor="middle" font-weight="normal" fill="#333333">Voltage(mv)</text>
<polyline points="397.56,302.57 397.67,302.57 397.78,302.57 397.89,302.57 398.01,302.57 398.12,302.56 398.23,302.56 398.34,302.55 398.45,302.55 398.56,302.54 398.68,302.52 398.79,302.51 398.90,302.49 399.01,302.47 399.12,302.45 399.23,302.42 399.34,302.38 399.46,302.35 399.57,302.31 399.68,302.26 399.79,302.21 399.90,302.16 400.01,302.10 400.13,302.03 400.24,301.96 400.35,301.89 400.46,301.82 400.57,301.75 400.68,301.70 400.79,301.65 400.91,301.63 401.02,301.62 401.13,301.63 401.24,301.66 401.35,301.72 401.46,301.81 401.58,301.92 401.69,302.06 401.80,302.22 401.91,302.40 402.02,302.60 402.13,302.81 402.24,303.04 402.36,303.26 402.47,303.48 402.58,303.69 402.69,303.88 402.80,304.05 402.91,304.18 403.03,304.27 403.14,304.32 403.25,304.32 403.36,304.27 403.47,304.17 403.58,304.02 403.69,303.82 403.81,303.58 403.92,303.30 404.03,302.99 404.14,302.67 404.25,302.35 404.36,302.03 404.48,301.74 404.59,301.48 404.70,301.27 404.81,301.11 404.92,301.01 405.03,300.99 405.14,301.03 405.26,301.15 405.37,301.34 405.48,301.58 405.59,301.86 405.70,302.18 405.81,302.50 405.93,302.82 406.04,303.12 406.15,303.37 406.26,303.56 406.37,303.68 406.48,303.73 406.59,303.70 406.71,303.60 406.82,303.42 406.93,303.18 407.04,302.87 407.15,302.51 407.26,302.10 407.38,301.66 407.49,301.18 407.60,300.69 407.71,300.20 407.82,299.71 407.93,299.24 408.04,298.81 408.16,298.41 408.27,298.07 408.38,297.78 408.49,297.55 408.60,297.40 408.71,297.32 408.83,297.33 408.94,297.43 409.05,297.65 409.16,297.96 409.27,298.38 409.38,298.87 409.49,299.44 409.61,300.07 409.72,300.74 409.83,301.45 409.94,302.16 410.05,302.88 410.16,303.57 410.28,304.22 410.39,304.82 410.50,305.36 410.61,305.81 410.72,306.18 410.83,306.45 410.94,306.61 411.06,306.67 411.17,306.65 411.28,306.59 411.39,306.49 411.50,306.36 411.61,306.19 411.73,305.99 411.84,305.75 411.95,305.49 412.06,305.19 412.17,304.87 412.28,304.53 412.39,304.17 412.51,303.79 412.62,303.40 412.73,303.00 412.84,302.59 412.95,302.19 413.06,301.78 413.18,301.38 413.29,300.99 413.40,300.61 413.51,300.25 413.62,299.91 413.73,299.59 413.84,299.29 413.96,299.03 414.07,298.79 414.18,298.59 414.29,298.42 414.40,298.29 414.51,298.19 414.63,298.13 414.74,298.11 414.85,298.18 414.96,298.39 415.07,298.73 415.18,299.18 415.29,299.74 415.41,300.38 415.52,301.09 415.63,301.83 415.74,302.59 415.85,303.33 415.96,304.04 416.07,304.68 416.19,305.24 416.30,305.70 416.41,306.03 416.52,306.25 416.63,306.33 416.74,306.35 416.86,306.41 416.97,306.56 417.08,306.89 417.19,307.50 417.30,308.47 417.41,309.76 417.52,311.18 417.64,312.39 417.75,313.01 417.86,312.79 417.97,311.75 418.08,310.12 418.19,308.29 418.31,306.59 418.42,305.21 418.53,304.14 418.64,303.09 418.75,301.07 418.86,296.46 418.97,288.90 419.09,282.21 419.20,281.86 419.31,287.84 419.42,294.70 419.53,298.65 419.64,300.24 419.76,301.51 419.87,304.03 419.98,308.29 420.09,313.30 420.20,316.69 420.31,316.36 420.42,312.30 420.54,306.64 420.65,301.73 420.76,298.63 420.87,297.06 420.98,296.34 421.09,295.97 421.21,295.71 421.32,295.49 421.43,295.30 421.54,295.12 421.65,294.97 421.76,294.83 421.87,294.71 421.99,294.62 422.10,294.54 422.21,294.49 422.32,294.45 422.43,294.44 422.54,294.49 422.66,294.64 422.77,294.88 422.88,295.21 422.99,295.62 423.10,296.12 423.21,296.68 423.32,297.31 423.44,297.98 423.55,298.70 423.66,299.44 423.77,300.20 423.88,300.96 423.99,301.71 424.11,302.44 424.22,303.14 424.33,303.79 424.44,304.38 424.55,304.91 424.66,305.37 424.77,305.74 424.89,306.03 425.00,306.22 425.11,306.32 425.22,306.32 425.33,306.23 425.44,306.06 425.56,305.81 425.67,305.48 425.78,305.10 425.89,304.67 426.00,304.20 426.11,303.72 426.22,303.23 426.34,302.75 426.45,302.30 426.56,301.89 426.67,301.53 426.78,301.24 426.89,301.03 427.01,300.90 427.12,300.86 427.23,300.90 427.34,301.02 427.45,301.21 427.56,301.46 427.67,301.77 427.79,302.10 427.90,302.45 428.01,302.80 428.12,303.12 428.23,303.40 428.34,303.62 428.46,303.78 428.57,303.86 428.68,303.86 428.79,303.78 428.90,303.63 429.01,303.39 429.12,303.10 429.24,302.74 429.35,302.32 429.46,301.87 429.57,301.38 429.68,300.87 429.79,300.35 429.91,299.83 430.02,299.33 430.13,298.86 430.24,298.42 430.35,298.04 430.46,297.71 430.57,297.44 430.69,297.25 430.80,297.13 430.91,297.09 431.02,297.14 431.13,297.31 431.24,297.57 431.36,297.93 431.47,298.38 431.58,298.91 431.69,299.51 431.80,300.16 431.91,300.84 432.02,301.55 432.14,302.26 432.25,302.95 432.36,303.62 432.47,304.24 432.58,304.81 432.69,305.30 432.81,305.71 432.92,306.02 433.03,306.24 433.14,306.35 433.25,306.35 433.36,306.31 433.47,306.24 433.59,306.12 433.70,305.96 433.81,305.77 433.92,305.54 434.03,305.28 434.14,305.00 434.26,304.68 434.37,304.34 434.48,303.98 434.59,303.59 434.70,303.20 434.81,302.79 434.92,302.38 435.04,301.96 435.15,301.54 435.26,301.13 435.37,300.72 435.48,300.32 435.59,299.94 435.71,299.58 435.82,299.24 435.93,298.92 436.04,298.63 436.15,298.37 436.26,298.15 436.37,297.96 436.49,297.80 436.60,297.68 436.71,297.60 436.82,297.56 436.93,297.58 437.04,297.73 437.16,298.02 437.27,298.44 437.38,298.99 437.49,299.63 437.60,300.35 437.71,301.13 437.82,301.93 437.94,302.74 438.05,303.52 438.16,304.24 438.27,304.88 438.38,305.43 438.49,305.85 438.61,306.15 438.72,306.30 438.83,306.34 438.94,306.38 439.05,306.47 439.16,306.71 439.27,307.18 439.39,307.98 439.50,309.13 439.61,310.54 439.72,311.91 439.83,312.89 439.94,313.13 440.06,312.51 440.17,311.15 440.28,309.40 440.39,307.62 440.50,306.10 440.61,304.92 440.72,303.95 440.84,302.58 440.95,299.35 441.06,292.76 441.17,284.48 441.28,280.29 441.39,283.84 441.51,291.49 441.62,297.46 441.73,300.20 441.84,301.51 441.95,303.41 442.06,307.04 442.17,312.19 442.29,317.00 442.40,318.84 442.51,316.41 442.62,311.01 442.73,305.26 442.84,301.07 442.96,298.75 443.07,297.67 443.18,297.19 443.29,296.91 443.40,296.70 443.51,296.52 443.62,296.35 443.74,296.20 443.85,296.07 443.96,295.95 444.07,295.86 444.18,295.78 444.29,295.72 444.41,295.68 444.52,295.67 444.63,295.67 444.74,295.77 444.85,295.95 444.96,296.23 445.07,296.58 445.19,297.02 445.30,297.53 445.41,298.10 445.52,298.72 445.63,299.39 445.74,300.08 445.86,300.80 445.97,301.53 446.08,302.26 446.19,302.97 446.30,303.65 446.41,304.30 446.52,304.90 446.64,305.44 446.75,305.91 446.86,306.31 446.97,306.62 447.08,306.85 447.19,306.99 447.31,307.04 447.42,306.99 447.53,306.83 447.64,306.57 447.75,306.23 447.86,305.80 447.97,305.31 448.09,304.77 448.20,304.19 448.31,303.60 448.42,303.02 448.53,302.46 448.64,301.94 448.76,301.48 448.87,301.09 448.98,300.79 449.09,300.58 449.20,300.47 449.31,300.47 449.42,300.56 449.54,300.74 449.65,300.99 449.76,301.30 449.87,301.66 449.98,302.04 450.09,302.43 450.20,302.80 450.32,303.14 450.43,303.42 450.54,303.64 450.65,303.77 450.76,303.81 450.87,303.77 450.99,303.64 451.10,303.43 451.21,303.15 451.32,302.79 451.43,302.37 451.54,301.90 451.65,301.38 451.77,300.84 451.88,300.28 451.99,299.72 452.10,299.17 452.21,298.64 452.32,298.15 452.44,297.70 452.55,297.31 452.66,296.99 452.77,296.74 452.88,296.57 452.99,296.48 453.10,296.48 453.22,296.60 453.33,296.83 453.44,297.16 453.55,297.59 453.66,298.11 453.77,298.71 453.89,299.37 454.00,300.07 454.11,300.81 454.22,301.56 454.33,302.30 454.44,303.03 454.55,303.71 454.67,304.34 454.78,304.90 454.89,305.38 455.00,305.76 455.11,306.04 455.22,306.22 455.34,306.27 455.45,306.25 455.56,306.18 455.67,306.06 455.78,305.89 455.89,305.68 456.00,305.43 456.12,305.14 456.23,304.81 456.34,304.45 456.45,304.07 456.56,303.65 456.67,303.22 456.79,302.78 456.90,302.33 457.01,301.87 457.12,301.41 457.23,300.96 457.34,300.51 457.45,300.09 457.57,299.68 457.68,299.30 457.79,298.95 457.90,298.63 458.01,298.35 458.12,298.11 458.24,297.91 458.35,297.76 458.46,297.65 458.57,297.59 458.68,297.58 458.79,297.72 458.90,298.03 459.02,298.52 459.13,299.14 459.24,299.89 459.35,300.72 459.46,301.60 459.57,302.50 459.69,303.38 459.80,304.19 459.91,304.91 460.02,305.50 460.13,305.95 460.24,306.22 460.35,306.33 460.47,306.35 460.58,306.41 460.69,306.57 460.80,306.91 460.91,307.54 461.02,308.53 461.14,309.83 461.25,311.27 461.36,312.50 461.47,313.14 461.58,312.96 461.69,311.95 461.80,310.35 461.92,308.55 462.03,306.88 462.14,305.54 462.25,304.53 462.36,303.56 462.47,301.82 462.59,297.88 462.70,291.46 462.81,285.77 462.92,285.46 463.03,290.53 463.14,296.34 463.25,299.70 463.37,301.06 463.48,302.20 463.59,304.48 463.70,308.33 463.81,312.85 463.92,315.93 464.04,315.64 464.15,311.99 464.26,306.90 464.37,302.48 464.48,299.69 464.59,298.29 464.70,297.65 464.82,297.32 464.93,297.10 465.04,296.91 465.15,296.74 465.26,296.59 465.37,296.45 465.49,296.33 465.60,296.23 465.71,296.15 465.82,296.08 465.93,296.03 466.04,296.01 466.15,296.00 466.27,296.04 466.38,296.17 466.49,296.38 466.60,296.67 466.71,297.04 466.82,297.48 466.94,297.98 467.05,298.53 467.16,299.13 467.27,299.76 467.38,300.42 467.49,301.09 467.60,301.76 467.72,302.43 467.83,303.07 467.94,303.69 468.05,304.27 468.16,304.79 468.27,305.26 468.39,305.67 468.50,306.00 468.61,306.25 468.72,306.42 468.83,306.51 468.94,306.51 469.05,306.42 469.17,306.24 469.28,305.99 469.39,305.66 469.50,305.27 469.61,304.83 469.72,304.36 469.84,303.87 469.95,303.37 470.06,302.89 470.17,302.43 470.28,302.02 470.39,301.66 470.50,301.36 470.62,301.15 470.73,301.02 470.84,300.97 470.95,301.01 471.06,301.11 471.17,301.28 471.29,301.51 471.40,301.78 471.51,302.08 471.62,302.39 471.73,302.69 471.84,302.98 471.95,303.23 472.07,303.43 472.18,303.57 472.29,303.64 472.40,303.64 472.51,303.56 472.62,303.41 472.74,303.18 472.85,302.88 472.96,302.53 473.07,302.12 473.18,301.67 473.29,301.19 473.40,300.69 473.52,300.18 473.63,299.67 473.74,299.17 473.85,298.71 473.96,298.28 474.07,297.89 474.19,297.57 474.30,297.30 474.41,297.11 474.52,297.00 474.63,296.96 474.74,297.01 474.85,297.18 474.97,297.45 475.08,297.83 475.19,298.29 475.30,298.84 475.41,299.45 475.52,300.12 475.64,300.82 475.75,301.55 475.86,302.28 475.97,303.00 476.08,303.68 476.19,304.32 476.30,304.91 476.42,305.41 476.53,305.83 476.64,306.16 476.75,306.38 476.86,306.49 476.97,306.49 477.09,306.41 477.20,306.26 477.31,306.03 477.42,305.73 477.53,305.36 477.64,304.94 477.75,304.47 477.87,303.96 477.98,303.41 478.09,302.85 478.20,302.28 478.31,301.72 478.42,301.16 478.54,300.63 478.65,300.13 478.76,299.68 478.87,299.28 478.98,298.94 479.09,298.67 479.20,298.46 479.32,298.34 479.43,298.29 479.54,298.41 479.65,298.82 479.76,299.50 479.87,300.39 479.99,301.42 480.10,302.52 480.21,303.60 480.32,304.58 480.43,305.39 480.54,305.97 480.65,306.28 480.77,306.34 480.88,306.38 480.99,306.47 481.10,306.71 481.21,307.18 481.32,307.98 481.44,309.13 481.55,310.53 481.66,311.91 481.77,312.88 481.88,313.12 481.99,312.50 482.10,311.14 482.22,309.38 482.33,307.61 482.44,306.08 482.55,304.90 482.66,303.98 482.77,302.88 482.89,300.61 483.00,296.16 483.11,290.59 483.22,287.73 483.33,289.95 483.44,294.87 483.55,298.70 483.67,300.47 483.78,301.49 483.89,303.31 484.00,306.86 484.11,311.93 484.22,316.66 484.34,318.45 484.45,316.06 484.56,310.73 484.67,305.07 484.78,300.94 484.89,298.65 485.00,297.58 485.12,297.10 485.23,296.82 485.34,296.61 485.45,296.42 485.56,296.26 485.67,296.10 485.78,295.97 485.90,295.86 486.01,295.76 486.12,295.68 486.23,295.62 486.34,295.58 486.45,295.56 486.57,295.57 486.68,295.66 486.79,295.84 486.90,296.10 487.01,296.44 487.12,296.86 487.23,297.34 487.35,297.88 487.46,298.48 487.57,299.11 487.68,299.78 487.79,300.46 487.90,301.16 488.02,301.85 488.13,302.52 488.24,303.18 488.35,303.79 488.46,304.36 488.57,304.88 488.68,305.33 488.80,305.71 488.91,306.01 489.02,306.23 489.13,306.36 489.24,306.40 489.35,306.36 489.47,306.22 489.58,306.00 489.69,305.70 489.80,305.33 489.91,304.91 490.02,304.44 490.13,303.94 490.25,303.43 490.36,302.93 490.47,302.45 490.58,302.00 490.69,301.60 490.80,301.26 490.92,301.00 491.03,300.82 491.14,300.73 491.25,300.73 491.36,300.81 491.47,300.97 491.58,301.19 491.70,301.46 491.81,301.78 491.92,302.12 492.03,302.46 492.14,302.79 492.25,303.09 492.37,303.34 492.48,303.53 492.59,303.64 492.70,303.68 492.81,303.64 492.92,303.52 493.03,303.33 493.15,303.06 493.26,302.73 493.37,302.34 493.48,301.90 493.59,301.43 493.70,300.93 493.82,300.41 493.93,299.89 494.04,299.38 494.15,298.88 494.26,298.43 494.37,298.01 494.48,297.65 494.60,297.35 494.71,297.12 494.82,296.96 494.93,296.88 495.04,296.89 495.15,297.00 495.27,297.24 495.38,297.58 495.49,298.02 495.60,298.55 495.71,299.16 495.82,299.84 495.93,300.56 496.05,301.31 496.16,302.08 496.27,302.85 496.38,303.59 496.49,304.29 496.60,304.93 496.72,305.50 496.83,305.99 496.94,306.39 497.05,306.67 497.16,306.85 497.27,306.91 497.38,306.88 497.50,306.78 497.61,306.62 497.72,306.40 497.83,306.13 497.94,305.80 498.05,305.43 498.17,305.01 498.28,304.55 498.39,304.06 498.50,303.54 498.61,303.01 498.72,302.47 498.83,301.92 498.95,301.38 499.06,300.85 499.17,300.34 499.28,299.85 499.39,299.40 499.50,298.99 499.62,298.62 499.73,298.30 499.84,298.03 499.95,297.83 500.06,297.68 500.17,297.60 500.28,297.58 500.40,297.73 500.51,298.11 500.62,298.68 500.73,299.43 500.84,300.31 500.95,301.28 501.07,302.28 501.18,303.26 501.29,304.18 501.40,304.97 501.51,305.61 501.62,306.06 501.73,306.29 501.85,306.34 501.96,306.37 502.07,306.47 502.18,306.70 502.29,307.17 502.40,307.96 502.52,309.11 502.63,310.51 502.74,311.88 502.85,312.84 502.96,313.07 503.07,312.44 503.18,311.08 503.30,309.31 503.41,307.52 503.52,305.98 503.63,304.80 503.74,303.85 503.85,302.67 503.97,300.14 504.08,295.14 504.19,288.89 504.30,285.67 504.41,288.22 504.52,293.80 504.63,298.15 504.75,300.14 504.86,301.17 504.97,302.88 505.08,306.24 505.19,311.04 505.30,315.52 505.42,317.20 505.53,314.89 505.64,309.79 505.75,304.38 505.86,300.42 505.97,298.21 506.08,297.17 506.20,296.69 506.31,296.41 506.42,296.19 506.53,295.99 506.64,295.82 506.75,295.66 506.87,295.52 506.98,295.40 507.09,295.30 507.20,295.22 507.31,295.16 507.42,295.12 507.53,295.10 507.65,295.11 507.76,295.21 507.87,295.40 507.98,295.69 508.09,296.06 508.20,296.52 508.32,297.05 508.43,297.65 508.54,298.31 508.65,299.01 508.76,299.74 508.87,300.50 508.98,301.26 509.10,302.03 509.21,302.77 509.32,303.49 509.43,304.17 509.54,304.80 509.65,305.37 509.77,305.86 509.88,306.28 509.99,306.61 510.10,306.85 510.21,307.00 510.32,307.05 510.43,307.00 510.55,306.85 510.66,306.60 510.77,306.26 510.88,305.84 510.99,305.37 511.10,304.84 511.22,304.28 511.33,303.70 511.44,303.14 511.55,302.59 511.66,302.08 511.77,301.64 511.88,301.26 512.00,300.96 512.11,300.76 512.22,300.66 512.33,300.66 512.44,300.74 512.55,300.89 512.67,301.12 512.78,301.40 512.89,301.72 513.00,302.07 513.11,302.42 513.22,302.75 513.33,303.06 513.45,303.31 513.56,303.50 513.67,303.62 513.78,303.67 513.89,303.62 514.00,303.50 514.12,303.31 514.23,303.04 514.34,302.70 514.45,302.30 514.56,301.86 514.67,301.38 514.78,300.87 514.90,300.34 515.01,299.81 515.12,299.29 515.23,298.80 515.34,298.33 515.45,297.91 515.57,297.54 515.68,297.24 515.79,297.00 515.90,296.85 516.01,296.76 516.12,296.77 516.23,296.90 516.35,297.15 516.46,297.52 516.57,298.00 516.68,298.58 516.79,299.24 516.90,299.98 517.02,300.76 517.13,301.58 517.24,302.42 517.35,303.25 517.46,304.05 517.57,304.81 517.68,305.52 517.80,306.14 517.91,306.67 518.02,307.10 518.13,307.41 518.24,307.60 518.35,307.66 518.47,307.63 518.58,307.52 518.69,307.34 518.80,307.09 518.91,306.78 519.02,306.41 519.13,305.99 519.25,305.51 519.36,305.00 519.47,304.45 519.58,303.87 519.69,303.28 519.80,302.68 519.91,302.07 520.03,301.48 520.14,300.90 520.25,300.34 520.36,299.82 520.47,299.34 520.58,298.91 520.70,298.53 520.81,298.20 520.92,297.95 521.03,297.75 521.14,297.63 521.25,297.58 521.36,297.66 521.48,297.98 521.59,298.51 521.70,299.24 521.81,300.11 521.92,301.09 522.03,302.11 522.15,303.13 522.26,304.07 522.37,304.91 522.48,305.57 522.59,306.04 522.70,306.29 522.81,306.34 522.93,306.37 523.04,306.46 523.15,306.69 523.26,307.14 523.37,307.92 523.48,309.06 523.60,310.44 523.71,311.79 523.82,312.73 523.93,312.94 524.04,312.28 524.15,310.88 524.26,309.09 524.38,307.27 524.49,305.70 524.60,304.47 524.71,303.48 524.82,302.22 524.93,299.49 525.05,294.10 525.16,287.34 525.27,283.87 525.38,286.59 525.49,292.59 525.60,297.26 525.71,299.40 525.83,300.55 525.94,302.53 526.05,306.40 526.16,311.93 526.27,317.08 526.38,319.03 526.50,316.38 526.61,310.52 526.72,304.30 526.83,299.75 526.94,297.22 527.05,296.03 527.16,295.48 527.28,295.16 527.39,294.92 527.50,294.70 527.61,294.50 527.72,294.32 527.83,294.17 527.95,294.03 528.06,293.92 528.17,293.83 528.28,293.76 528.39,293.71 528.50,293.69 528.61,293.70 528.73,293.80 528.84,294.01 528.95,294.31 529.06,294.71 529.17,295.20 529.28,295.77 529.40,296.40 529.51,297.10 529.62,297.84 529.73,298.62 529.84,299.43 529.95,300.24 530.06,301.05 530.18,301.85 530.29,302.61 530.40,303.33 530.51,304.00 530.62,304.60 530.73,305.13 530.85,305.57 530.96,305.93 531.07,306.18 531.18,306.34 531.29,306.39 531.40,306.34 531.51,306.21 531.63,305.99 531.74,305.68 531.85,305.31 531.96,304.88 532.07,304.41 532.18,303.91 532.30,303.39 532.41,302.88 532.52,302.40 532.63,301.94 532.74,301.54 532.85,301.20 532.96,300.94 533.08,300.76 533.19,300.67 533.30,300.67 533.41,300.75 533.52,300.91 533.63,301.15 533.75,301.44 533.86,301.77 533.97,302.13 534.08,302.49 534.19,302.84 534.30,303.15 534.41,303.42 534.53,303.62 534.64,303.74 534.75,303.78 534.86,303.75 534.97,303.63 535.08,303.45 535.20,303.19 535.31,302.87 535.42,302.50 535.53,302.08 535.64,301.63 535.75,301.15 535.86,300.65 535.98,300.15 536.09,299.66 536.20,299.19 536.31,298.76 536.42,298.36 536.53,298.01 536.65,297.73 536.76,297.51 536.87,297.36 536.98,297.28 537.09,297.28 537.20,297.40 537.31,297.64 537.43,297.98 537.54,298.42 537.65,298.96 537.76,299.57 537.87,300.25 537.98,300.98 538.10,301.74 538.21,302.51 538.32,303.28 538.43,304.03 538.54,304.73 538.65,305.38 538.76,305.96 538.88,306.45 538.99,306.84 539.10,307.13 539.21,307.31 539.32,307.37 539.43,307.34 539.55,307.26 539.66,307.12 539.77,306.93 539.88,306.68 539.99,306.39 540.10,306.06 540.21,305.68 540.33,305.26 540.44,304.82 540.55,304.35 540.66,303.85 540.77,303.34 540.88,302.82 541.00,302.29 541.11,301.77 541.22,301.25 541.33,300.75 541.44,300.27 541.55,299.81 541.66,299.38 541.78,298.99 541.89,298.63 542.00,298.32 542.11,298.06 542.22,297.84 542.33,297.68 542.45,297.58 542.56,297.52 542.67,297.55 542.78,297.75 542.89,298.14 543.00,298.68 543.11,299.37 543.23,300.17 543.34,301.04 543.45,301.95 543.56,302.86 543.67,303.72 543.78,304.51 543.90,305.19 544.01,305.73 544.12,306.10 544.23,306.30 544.34,306.34 544.45,306.37 544.56,306.46 544.68,306.68 544.79,307.14 544.90,307.92 545.01,309.05 545.12,310.43 545.23,311.77 545.35,312.71 545.46,312.92 545.57,312.26 545.68,310.86 545.79,309.06 545.90,307.24 546.01,305.66 546.13,304.43 546.24,303.44 546.35,302.17 546.46,299.44 546.57,294.03 546.68,287.28 546.80,283.80 546.91,286.52 547.02,292.51 547.13,297.17 547.24,299.28 547.35,300.36 547.46,302.17 547.58,305.73 547.69,310.82 547.80,315.57 547.91,317.34 548.02,314.86 548.13,309.40 548.25,303.60 548.36,299.35 548.47,296.98 548.58,295.85 548.69,295.32 548.80,295.00 548.91,294.75 549.03,294.53 549.14,294.33 549.25,294.15 549.36,293.99 549.47,293.85 549.58,293.74 549.70,293.65 549.81,293.58 549.92,293.53 550.03,293.51 550.14,293.52 550.25,293.63 550.36,293.84 550.48,294.16 550.59,294.57 550.70,295.08 550.81,295.66 550.92,296.32 551.03,297.05 551.15,297.82 551.26,298.63 551.37,299.46 551.48,300.31 551.59,301.15 551.70,301.97 551.81,302.76 551.93,303.51 552.04,304.21 552.15,304.83 552.26,305.38 552.37,305.84 552.48,306.20 552.60,306.47 552.71,306.63 552.82,306.69 552.93,306.64 553.04,306.50 553.15,306.28 553.26,305.98 553.38,305.61 553.49,305.19 553.60,304.72 553.71,304.22 553.82,303.71 553.93,303.20 554.05,302.71 554.16,302.26 554.27,301.86 554.38,301.53 554.49,301.26 554.60,301.08 554.71,300.99 554.83,300.99 554.94,301.06 555.05,301.21 555.16,301.42 555.27,301.68 555.38,301.97 555.49,302.29 555.61,302.61 555.72,302.92 555.83,303.20 555.94,303.43 556.05,303.61 556.16,303.72 556.28,303.76 556.39,303.71 556.50,303.59 556.61,303.38 556.72,303.09 556.83,302.74 556.94,302.32 557.06,301.85 557.17,301.34 557.28,300.80 557.39,300.25 557.50,299.69 557.61,299.14 557.73,298.62 557.84,298.13 557.95,297.68 558.06,297.29 558.17,296.97 558.28,296.73 558.39,296.56 558.51,296.47 558.62,296.48 558.73,296.60 558.84,296.84 558.95,297.19 559.06,297.64 559.18,298.19 559.29,298.82 559.40,299.51 559.51,300.26 559.62,301.03 559.73,301.82 559.84,302.61 559.96,303.37 560.07,304.09 560.18,304.75 560.29,305.34 560.40,305.85 560.51,306.25 560.63,306.55 560.74,306.73 560.85,306.79 560.96,306.75 561.07,306.64 561.18,306.47 561.29,306.22 561.41,305.92 561.52,305.55 561.63,305.14 561.74,304.68 561.85,304.19 561.96,303.67 562.08,303.13 562.19,302.58 562.30,302.04 562.41,301.50 562.52,300.98 562.63,300.49 562.74,300.04 562.86,299.63 562.97,299.27 563.08,298.97 563.19,298.73 563.30,298.56 563.41,298.46 563.53,298.43 563.64,298.59 563.75,299.00 563.86,299.64 563.97,300.46 564.08,301.41 564.19,302.42 564.31,303.43 564.42,304.37 564.53,305.17 564.64,305.79 564.75,306.18 564.86,306.33 564.98,306.35 565.09,306.41 565.20,306.57 565.31,306.90 565.42,307.53 565.53,308.51 565.64,309.81 565.76,311.24 565.87,312.46 565.98,313.10 566.09,312.91 566.20,311.88 566.31,310.28 566.43,308.46 566.54,306.79 566.65,305.43 566.76,304.41 566.87,303.48 566.98,301.95 567.09,298.64 567.21,293.29 567.32,288.54 567.43,288.22 567.54,292.32 567.65,297.03 567.76,299.75 567.88,300.94 567.99,302.21 568.10,304.88 568.21,309.39 568.32,314.70 568.43,318.31 568.54,318.01 568.66,313.79 568.77,307.89 568.88,302.78 568.99,299.56 569.10,297.95 569.21,297.24 569.33,296.88 569.44,296.64 569.55,296.45 569.66,296.27 569.77,296.11 569.88,295.96 569.99,295.84 570.11,295.73 570.22,295.64 570.33,295.58 570.44,295.53 570.55,295.50 570.66,295.49 570.78,295.53 570.89,295.66 571.00,295.87 571.11,296.16 571.22,296.53 571.33,296.97 571.44,297.46 571.56,298.02 571.67,298.61 571.78,299.24 571.89,299.90 572.00,300.57 572.11,301.24 572.23,301.91 572.34,302.55 572.45,303.17 572.56,303.74 572.67,304.27 572.78,304.74 572.89,305.14 573.01,305.47 573.12,305.72 573.23,305.89 573.34,305.98 573.45,305.98 573.56,305.89 573.68,305.71 573.79,305.45 573.90,305.12 574.01,304.73 574.12,304.28 574.23,303.80 574.34,303.31 574.46,302.80 574.57,302.31 574.68,301.85 574.79,301.43 574.90,301.06 575.01,300.77 575.13,300.55 575.24,300.41 575.35,300.37 575.46,300.42 575.57,300.56 575.68,300.80 575.79,301.10 575.91,301.47 576.02,301.88 576.13,302.30 576.24,302.72 576.35,303.11 576.46,303.45 576.58,303.73 576.69,303.92 576.80,304.02 576.91,304.02 577.02,303.93 577.13,303.76 577.24,303.50 577.36,303.17 577.47,302.78 577.58,302.32 577.69,301.82 577.80,301.28 577.91,300.72 578.03,300.15 578.14,299.58 578.25,299.03 578.36,298.51 578.47,298.03 578.58,297.60 578.69,297.24 578.81,296.95 578.92,296.73 579.03,296.60 579.14,296.56 579.25,296.62 579.36,296.81 579.48,297.11 579.59,297.52 579.70,298.03 579.81,298.63 579.92,299.31 580.03,300.05 580.14,300.82 580.26,301.63 580.37,302.43 580.48,303.22 580.59,303.98 580.70,304.69 580.81,305.33 580.93,305.89 581.04,306.35 581.15,306.71 581.26,306.96 581.37,307.08 581.48,307.08 581.59,306.98 581.71,306.77 581.82,306.46 581.93,306.07 582.04,305.58 582.15,305.03 582.26,304.41 582.38,303.75 582.49,303.05 582.60,302.33 582.71,301.61 582.82,300.89 582.93,300.20 583.04,299.56 583.16,298.96 583.27,298.43 583.38,297.98 583.49,297.62 583.60,297.34 583.71,297.17 583.83,297.11 583.94,297.25 584.05,297.76 584.16,298.60 584.27,299.69 584.38,300.96 584.49,302.28 584.61,303.56 584.72,304.69 584.83,305.56 584.94,306.12 585.05,306.33 585.16,306.35 585.28,306.41 585.39,306.57 585.50,306.91 585.61,307.53 585.72,308.52 585.83,309.82 585.94,311.25 586.06,312.48 586.17,313.12 586.28,312.93 586.39,311.91 586.50,310.31 586.61,308.50 586.73,306.83 586.84,305.48 586.95,304.46 587.06,303.54 587.17,302.02 587.28,298.71 587.39,293.36 587.51,288.63 587.62,288.31 587.73,292.41 587.84,297.13 587.95,299.84 588.06,300.99 588.18,302.11 588.29,304.46 588.40,308.46 588.51,313.15 588.62,316.34 588.73,316.04 588.84,312.26 588.96,306.98 589.07,302.41 589.18,299.52 589.29,298.07 589.40,297.41 589.51,297.07 589.62,296.84 589.74,296.64 589.85,296.47 589.96,296.31 590.07,296.17 590.18,296.05 590.29,295.95 590.41,295.86 590.52,295.79 590.63,295.74 590.74,295.72 590.85,295.71 590.96,295.75 591.07,295.88 591.19,296.09 591.30,296.39 591.41,296.76 591.52,297.20 591.63,297.70 591.74,298.26 591.86,298.86 591.97,299.50 592.08,300.17 592.19,300.84 592.30,301.52 592.41,302.19 592.52,302.85 592.64,303.47 592.75,304.05 592.86,304.58 592.97,305.05 593.08,305.46 593.19,305.79 593.31,306.05 593.42,306.22 593.53,306.31 593.64,306.31 593.75,306.22 593.86,306.04 593.97,305.78 594.09,305.45 594.20,305.05 594.31,304.61 594.42,304.13 594.53,303.63 594.64,303.12 594.76,302.63 594.87,302.17 594.98,301.74 595.09,301.38 595.20,301.08 595.31,300.86 595.42,300.73 595.54,300.68 595.65,300.72 595.76,300.85 595.87,301.04 595.98,301.30 596.09,301.61 596.21,301.95 596.32,302.31 596.43,302.66 596.54,302.99 596.65,303.27 596.76,303.50 596.87,303.66 596.99,303.74 597.10,303.74 597.21,303.68 597.32,303.55 597.43,303.35 597.54,303.10 597.66,302.80 597.77,302.45 597.88,302.06 597.99,301.65 598.10,301.22 598.21,300.78 598.32,300.35 598.44,299.93 598.55,299.53 598.66,299.16 598.77,298.83 598.88,298.55 598.99,298.33 599.11,298.17 599.22,298.07 599.33,298.03 599.44,298.09 599.55,298.26 599.66,298.53 599.77,298.91 599.89,299.38 600.00,299.94 600.11,300.56 600.22,301.23 600.33,301.94 600.44,302.68 600.56,303.42 600.67,304.14 600.78,304.84 600.89,305.49 601.00,306.08 601.11,306.59 601.22,307.01 601.34,307.34 601.45,307.57 601.56,307.68 601.67,307.69 601.78,307.64 601.89,307.54 602.01,307.39 602.12,307.20 602.23,306.97 602.34,306.69 602.45,306.37 602.56,306.02 602.67,305.63 602.79,305.22 602.90,304.78 603.01,304.32 603.12,303.85 603.23,303.36 603.34,302.86 603.46,302.37 603.57,301.88 603.68,301.39 603.79,300.92 603.90,300.47 604.01,300.03 604.12,299.63 604.24,299.25 604.35,298.91 604.46,298.60 604.57,298.34 604.68,298.12 604.79,297.94 604.91,297.81 605.02,297.72 605.13,297.69 605.24,297.74 605.35,297.94 605.46,298.30 605.57,298.79 605.69,299.40 605.80,300.11 605.91,300.89 606.02,301.71 606.13,302.54 606.24,303.35 606.36,304.11 606.47,304.79 606.58,305.37 606.69,305.82 606.80,306.13 606.91,306.30 607.02,306.34 607.14,306.37 607.25,306.47 607.36,306.70 607.47,307.16 607.58,307.95 607.69,309.10 607.81,310.49 607.92,311.86 608.03,312.82 608.14,313.04 608.25,312.40 608.36,311.03 608.47,309.26 608.59,307.46 608.70,305.92 608.81,304.72 608.92,303.77 609.03,302.58 609.14,300.04 609.26,295.03 609.37,288.77 609.48,285.54 609.59,288.08 609.70,293.66 609.81,298.00 609.92,300.01 610.04,301.15 610.15,303.15 610.26,307.06 610.37,312.61 610.48,317.80 610.59,319.77 610.71,317.16 610.82,311.33 610.93,305.13 611.04,300.61 611.15,298.10 611.26,296.94 611.37,296.42 611.49,296.12 611.60,295.89 611.71,295.69 611.82,295.51 611.93,295.35 612.04,295.21 612.16,295.08 612.27,294.98 612.38,294.89 612.49,294.83 612.60,294.79 612.71,294.77 612.82,294.78 612.94,294.87 613.05,295.06 613.16,295.34 613.27,295.71 613.38,296.15 613.49,296.67 613.61,297.25 613.72,297.88 613.83,298.56 613.94,299.28 614.05,300.01 614.16,300.75 614.27,301.49 614.39,302.22 614.50,302.91 614.61,303.57 614.72,304.18 614.83,304.73 614.94,305.21 615.06,305.62 615.17,305.94 615.28,306.18 615.39,306.32 615.50,306.36 615.61,306.32 615.72,306.19 615.84,305.98 615.95,305.69 616.06,305.33 616.17,304.92 616.28,304.46 616.39,303.98 616.51,303.49 616.62,303.00 616.73,302.53 616.84,302.10 616.95,301.71 617.06,301.39 617.17,301.13 617.29,300.96 617.40,300.87 617.51,300.87 617.62,300.95 617.73,301.10 617.84,301.32 617.96,301.59 618.07,301.90 618.18,302.23 618.29,302.57 618.40,302.89 618.51,303.18 618.62,303.43 618.74,303.61 618.85,303.73 618.96,303.77 619.07,303.72 619.18,303.60 619.29,303.39 619.41,303.10 619.52,302.75 619.63,302.34 619.74,301.87 619.85,301.36 619.96,300.82 620.07,300.27 620.19,299.72 620.30,299.17 620.41,298.65 620.52,298.16 620.63,297.71 620.74,297.33 620.86,297.01 620.97,296.76 621.08,296.59 621.19,296.51 621.30,296.51 621.41,296.64 621.52,296.89 621.64,297.26 621.75,297.73 621.86,298.31 621.97,298.96 622.08,299.69 622.19,300.47 622.31,301.28 622.42,302.11 622.53,302.93 622.64,303.73 622.75,304.48 622.86,305.18 622.97,305.80 623.09,306.32 623.20,306.74 623.31,307.05 623.42,307.24 623.53,307.31 623.64,307.29 623.76,307.23 623.87,307.13 623.98,307.00 624.09,306.82 624.20,306.62 624.31,306.38 624.42,306.11 624.54,305.81 624.65,305.48 624.76,305.13 624.87,304.76 624.98,304.37 625.09,303.96 625.20,303.54 625.32,303.12 625.43,302.69 625.54,302.26 625.65,301.83 625.76,301.40 625.87,300.99 625.99,300.59 626.10,300.21 626.21,299.84 626.32,299.50 626.43,299.18 626.54,298.89 626.65,298.63 626.77,298.41 626.88,298.21 626.99,298.05 627.10,297.93 627.21,297.85 627.32,297.81 627.44,297.81 627.55,297.92 627.66,298.17 627.77,298.53 627.88,299.00 627.99,299.56 628.10,300.20 628.22,300.90 628.33,301.64 628.44,302.38 628.55,303.12 628.66,303.82 628.77,304.47 628.89,305.05 629.00,305.53 629.11,305.91 629.22,306.17 629.33,306.30 629.44,306.34 629.55,306.38 629.67,306.48 629.78,306.71 629.89,307.19 630.00,307.99 630.11,309.15 630.22,310.56 630.34,311.94 630.45,312.93 630.56,313.18 630.67,312.56 630.78,311.22 630.89,309.48 631.00,307.71 631.12,306.20 631.23,305.03 631.34,304.09 631.45,302.83 631.56,299.93 631.67,294.07 631.79,286.70 631.90,282.97 632.01,286.10 632.12,292.85 632.23,298.11 632.34,300.51 632.45,301.62 632.57,303.23 632.68,306.32 632.79,310.72 632.90,314.82 633.01,316.36 633.12,314.25 633.24,309.58 633.35,304.62 633.46,301.00 633.57,298.98 633.68,298.03 633.79,297.59 633.90,297.33 634.02,297.13 634.13,296.96 634.24,296.80 634.35,296.66 634.46,296.53 634.57,296.42 634.69,296.33 634.80,296.26 634.91,296.20 635.02,296.16 635.13,296.15 635.24,296.15 635.35,296.24 635.47,296.42 635.58,296.68 635.69,297.03 635.80,297.45 635.91,297.93 636.02,298.48 636.14,299.08 636.25,299.72 636.36,300.39 636.47,301.08 636.58,301.77 636.69,302.47 636.80,303.15 636.92,303.81 637.03,304.43 637.14,305.00 637.25,305.52 637.36,305.97 637.47,306.35 637.59,306.66 637.70,306.88 637.81,307.01 637.92,307.06 638.03,307.01 638.14,306.86 638.25,306.62 638.37,306.29 638.48,305.89 638.59,305.42 638.70,304.91 638.81,304.37 638.92,303.82 639.04,303.27 639.15,302.74 639.26,302.25 639.37,301.81 639.48,301.45 639.59,301.16 639.70,300.97 639.82,300.87 639.93,300.87 640.04,300.95 640.15,301.10 640.26,301.33 640.37,301.60 640.49,301.92 640.60,302.27 640.71,302.61 640.82,302.95 640.93,303.25 641.04,303.50 641.15,303.69 641.27,303.81 641.38,303.85 641.49,303.82 641.60,303.72 641.71,303.55 641.82,303.33 641.94,303.05 642.05,302.72 642.16,302.34 642.27,301.94 642.38,301.51 642.49,301.07 642.60,300.63 642.72,300.20 642.83,299.78 642.94,299.39 643.05,299.04 643.16,298.73 643.27,298.48 643.39,298.28 643.50,298.15 643.61,298.08 643.72,298.09 643.83,298.19 643.94,298.40 644.05,298.71 644.17,299.11 644.28,299.60 644.39,300.15 644.50,300.77 644.61,301.42 644.72,302.11 644.84,302.81 644.95,303.50 645.06,304.17 645.17,304.81 645.28,305.39 645.39,305.91 645.50,306.36 645.62,306.72 645.73,306.98 645.84,307.14 645.95,307.19 646.06,307.17 646.17,307.10 646.29,306.98 646.40,306.82 646.51,306.62 646.62,306.38 646.73,306.10 646.84,305.79 646.95,305.44 647.07,305.06 647.18,304.66 647.29,304.24 647.40,303.80 647.51,303.34 647.62,302.88 647.74,302.42 647.85,301.95 647.96,301.49 648.07,301.04 648.18,300.61 648.29,300.19 648.40,299.80 648.52,299.43 648.63,299.09 648.74,298.78 648.85,298.52 648.96,298.29 649.07,298.10 649.19,297.95 649.30,297.85 649.41,297.80 649.52,297.79 649.63,297.92 649.74,298.20 649.85,298.62 649.97,299.17 650.08,299.82 650.19,300.56 650.30,301.35 650.41,302.17 650.52,302.98 650.64,303.76 650.75,304.48 650.86,305.11 650.97,305.62 651.08,306.00 651.19,306.24 651.30,306.33 651.42,306.35 651.53,306.41 651.64,306.56 651.75,306.89 651.86,307.51 651.97,308.49 652.09,309.78 652.20,311.20 652.31,312.41 652.42,313.04 652.53,312.83 652.64,311.79 652.75,310.17 652.87,308.35 652.98,306.65 653.09,305.28 653.20,304.22 653.31,303.14 653.42,301.00 653.54,296.02 653.65,287.82 653.76,280.56 653.87,280.22 653.98,286.79 654.09,294.30 654.20,298.64 654.32,300.32 654.43,301.51 654.54,303.76 654.65,307.58 654.76,312.07 654.87,315.11 654.99,314.79 655.10,311.11 655.21,305.98 655.32,301.53 655.43,298.71 655.54,297.28 655.65,296.62 655.77,296.26 655.88,296.02 655.99,295.81 656.10,295.62 656.21,295.45 656.32,295.29 656.44,295.16 656.55,295.05 656.66,294.95 656.77,294.88 656.88,294.83 656.99,294.80 657.10,294.79 657.22,294.83 657.33,294.98 657.44,295.21 657.55,295.54 657.66,295.95 657.77,296.44 657.89,296.99 658.00,297.61 658.11,298.27 658.22,298.98 658.33,299.71 658.44,300.45 658.55,301.20 658.67,301.94 658.78,302.66 658.89,303.35 659.00,303.99 659.11,304.58 659.22,305.10 659.33,305.55 659.45,305.92 659.56,306.20 659.67,306.39 659.78,306.49 659.89,306.49 660.00,306.40 660.12,306.22 660.23,305.95 660.34,305.62 660.45,305.22 660.56,304.77 660.67,304.28 660.78,303.78 660.90,303.27 661.01,302.77 661.12,302.30 661.23,301.87 661.34,301.50 661.45,301.20 661.57,300.98 661.68,300.85 661.79,300.80 661.90,300.84 662.01,300.96 662.12,301.16 662.23,301.41 662.35,301.72 662.46,302.06 662.57,302.41 662.68,302.76 662.79,303.08 662.90,303.36 663.02,303.59 663.13,303.75 663.24,303.83 663.35,303.83 663.46,303.74 663.57,303.56 663.68,303.30 663.80,302.97 663.91,302.57 664.02,302.10 664.13,301.59 664.24,301.04 664.35,300.47 664.47,299.89 664.58,299.31 664.69,298.74 664.80,298.21 664.91,297.72 665.02,297.29 665.13,296.92 665.25,296.62 665.36,296.40 665.47,296.27 665.58,296.22 665.69,296.28 665.80,296.46 665.92,296.75 666.03,297.14 666.14,297.63 666.25,298.21 666.36,298.86 666.47,299.57 666.58,300.31 666.70,301.08 666.81,301.85 666.92,302.61 667.03,303.34 667.14,304.02 667.25,304.63 667.37,305.17 667.48,305.62 667.59,305.96 667.70,306.19 667.81,306.31 667.92,306.32 668.03,306.25 668.15,306.11 668.26,305.91 668.37,305.65 668.48,305.33 668.59,304.95 668.70,304.53 668.82,304.08 668.93,303.58 669.04,303.07 669.15,302.54 669.26,302.00 669.37,301.47 669.48,300.94 669.60,300.44 669.71,299.96 669.82,299.52 669.93,299.12 670.04,298.77 670.15,298.47 670.27,298.24 670.38,298.06 670.49,297.96 670.60,297.92 670.71,298.04 670.82,298.41 670.93,299.02 671.05,299.83 671.16,300.78 671.27,301.82 671.38,302.87 671.49,303.88 671.60,304.78 671.72,305.50 671.83,306.02 671.94,306.29 672.05,306.34 672.16,306.38 672.27,306.48 672.38,306.71 672.50,307.19 672.61,307.99 672.72,309.15 672.83,310.56 672.94,311.94 673.05,312.92 673.17,313.17 673.28,312.55 673.39,311.21 673.50,309.46 673.61,307.70 673.72,306.18 673.83,305.02 673.95,304.09 674.06,302.89 674.17,300.23 674.28,294.90 674.39,288.21 674.50,284.81 674.62,287.60 674.73,293.67 674.84,298.40 674.95,300.57 675.06,301.65 675.17,303.34 675.28,306.60 675.40,311.26 675.51,315.60 675.62,317.24 675.73,315.03 675.84,310.12 675.95,304.90 676.07,301.09 676.18,298.96 676.29,297.98 676.40,297.53" fill="none" stroke="#0072BD" stroke-width="0.62" stroke-linejoin="round"/>
<path d="M419.14 302.82V279.07M441.28 302.82V279.07M462.86 302.82V279.07M483.22 302.82V279.07M504.30 302.82V279.07M525.27 302.82V279.07M546.80 302.82V279.07M567.37 302.82V279.07M587.56 302.82V279.07M609.48 302.82V279.07M631.90 302.82V279.07M653.81 302.82V279.07M674.50 302.82V279.07" stroke="#e0002a" stroke-width="0.6" fill="none"/>
<path d="M396.36 302.82H677.60" stroke="#ff0000" stroke-width="7.8" fill="none"/>
<path d="M416.04 279.07L422.24 279.07M417.13 277.05L421.16 281.08M419.14 275.97L419.14 282.17M421.16 277.05L417.13 281.08M438.18 279.07L444.38 279.07M439.27 277.05L443.30 281.08M441.28 275.97L441.28 282.17M443.30 277.05L439.27 281.08M459.76 279.07L465.96 279.07M460.85 277.05L464.88 281.08M462.86 275.97L462.86 282.17M464.88 277.05L460.85 281.08M480.12 279.07L486.32 279.07M481.20 277.05L485.24 281.08M483.22 275.97L483.22 282.17M485.24 277.05L481.20 281.08M501.20 279.07L507.40 279.07M502.28 277.05L506.32 281.08M504.30 275.97L504.30 282.17M506.32 277.05L502.28 281.08M522.17 279.07L528.37 279.07M523.25 277.05L527.29 281.08M525.27 275.97L525.27 282.17M527.29 277.05L523.25 281.08M543.70 279.07L549.90 279.07M544.78 277.05L548.81 281.08M546.80 275.97L546.80 282.17M548.81 277.05L544.78 281.08M564.27 279.07L570.47 279.07M565.36 277.05L569.39 281.08M567.37 275.97L567.37 282.17M569.39 277.05L565.36 281.08M584.46 279.07L590.66 279.07M585.54 277.05L589.58 281.08M587.56 275.97L587.56 282.17M589.58 277.05L585.54 281.08M606.38 279.07L612.58 279.07M607.46 277.05L611.50 281.08M609.48 275.97L609.48 282.17M611.50 277.05L607.46 281.08M628.80 279.07L635.00 279.07M629.88 277.05L633.91 281.08M631.90 275.97L631.90 282.17M633.91 277.05L629.88 281.08M650.71 279.07L656.91 279.07M651.80 277.05L655.83 281.08M653.81 275.97L653.81 282.17M655.83 277.05L651.80 281.08M671.40 279.07L677.60 279.07M672.49 277.05L676.52 281.08M674.50 275.97L674.50 282.17M676.52 277.05L672.49 281.08M394.36 302.82L400.36 302.82M395.41 300.87L399.31 304.77M397.36 299.82L397.36 305.82M399.31 300.87L395.41 304.77M673.60 302.82L679.60 302.82M674.65 300.87L678.55 304.77M676.60 299.82L676.60 305.82M678.55 300.87L674.65 304.77" stroke="#ff0000" stroke-width="0.8" fill="none"/>
<text x="156" y="8.8" font-family="'Liberation Serif',serif" font-size="13" text-anchor="middle" fill="#111">(a)</text>
<text x="530.2" y="8.8" font-family="'Liberation Serif',serif" font-size="13" text-anchor="middle" fill="#111">(b)</text>
</svg>
</body></html>
